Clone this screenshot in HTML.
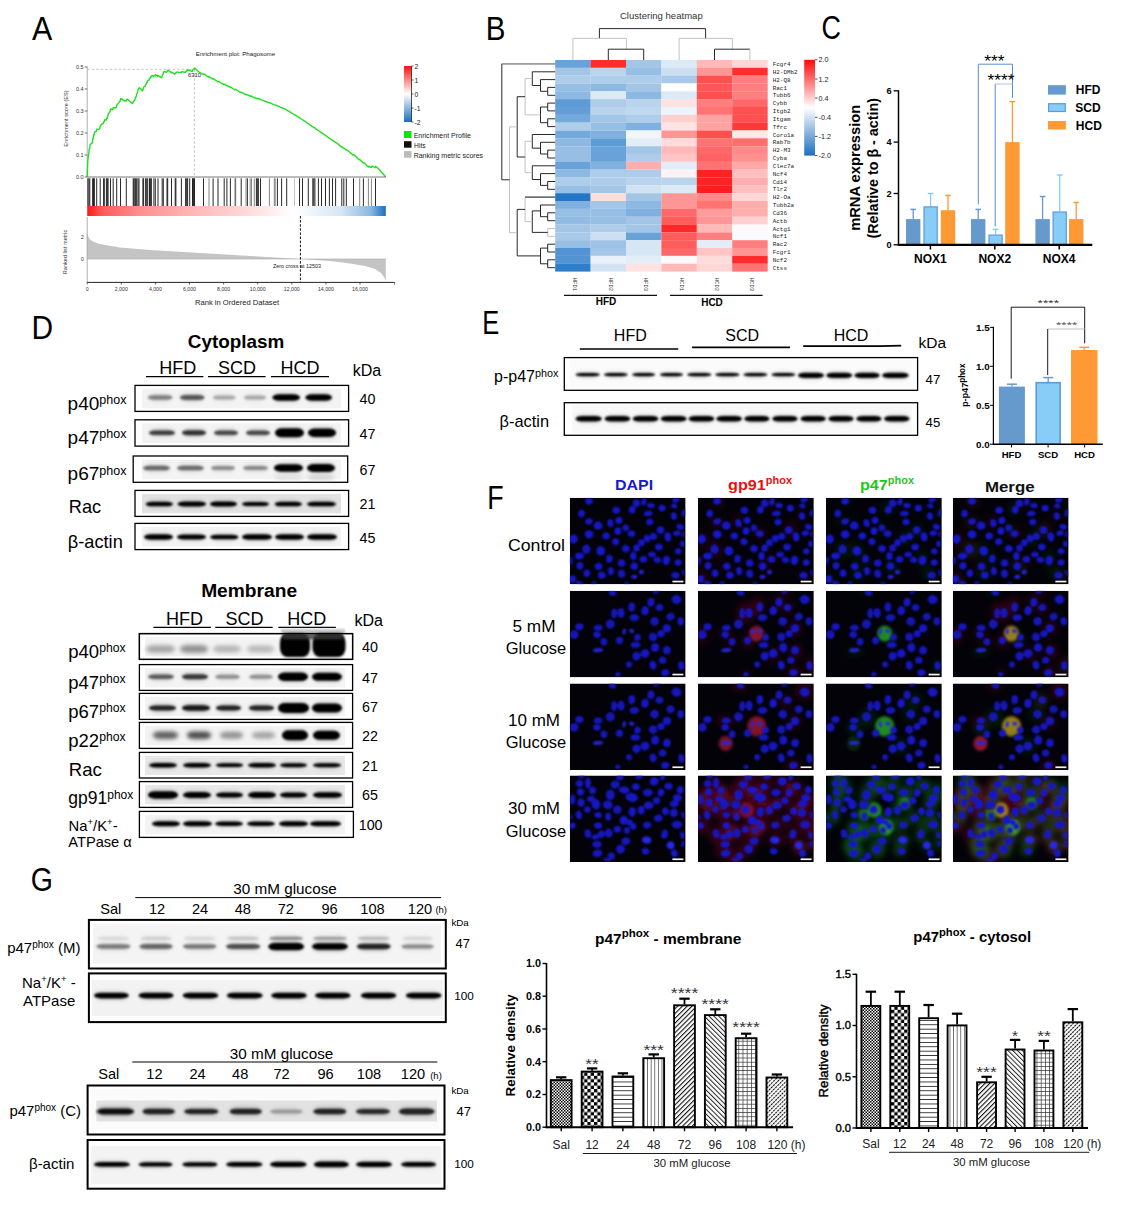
<!DOCTYPE html>
<html><head><meta charset="utf-8"><title>Figure</title>
<style>
html,body{margin:0;padding:0;background:#fff;}
body{width:1125px;height:1228px;overflow:hidden;}
svg{display:block;font-family:"Liberation Sans", sans-serif;}
</style></head><body>
<svg width="1125" height="1228" viewBox="0 0 1125 1228">
<defs>
<filter id="bl" x="-30%" y="-100%" width="160%" height="300%"><feGaussianBlur stdDeviation="1.2"/></filter>
<filter id="bl2" x="-30%" y="-100%" width="160%" height="300%"><feGaussianBlur stdDeviation="2.0"/></filter>
<filter id="bl3" x="-40%" y="-100%" width="180%" height="300%"><feGaussianBlur stdDeviation="3.0"/></filter>
<filter id="blE" x="-30%" y="-100%" width="160%" height="300%"><feGaussianBlur stdDeviation="0.8"/></filter>
<filter id="nb" x="-50%" y="-50%" width="200%" height="200%"><feGaussianBlur stdDeviation="0.6"/></filter>
<filter id="hz" x="-50%" y="-50%" width="200%" height="200%"><feGaussianBlur stdDeviation="3"/></filter>
<linearGradient id="gsea" x1="0" x2="1" y1="0" y2="0">
<stop offset="0" stop-color="#ff1a1a"/><stop offset="0.05" stop-color="#ff5a5a"/><stop offset="0.18" stop-color="#ff9090"/><stop offset="0.36" stop-color="#ffb8b8"/><stop offset="0.5" stop-color="#ffd2d2"/>
<stop offset="0.69" stop-color="#ffffff"/><stop offset="0.85" stop-color="#d6e6f4"/><stop offset="0.95" stop-color="#88b8e0"/><stop offset="0.985" stop-color="#3a84cc"/><stop offset="1" stop-color="#1a6ec0"/></linearGradient>
<linearGradient id="cbA" x1="0" x2="0" y1="0" y2="1"><stop offset="0" stop-color="#ff1010"/><stop offset="0.5" stop-color="#ffffff"/><stop offset="1" stop-color="#1a6ec0"/></linearGradient>
<linearGradient id="cbB" x1="0" x2="0" y1="0" y2="1"><stop offset="0" stop-color="#ff0a0a"/><stop offset="0.5" stop-color="#ffffff"/><stop offset="1" stop-color="#1b6fc2"/></linearGradient>
<linearGradient id="smear" x1="0" x2="0" y1="0" y2="1"><stop offset="0" stop-color="#d0d0d0"/><stop offset="0.5" stop-color="#707070"/><stop offset="1" stop-color="#222"/></linearGradient><clipPath id="fc00"><rect x="569.8" y="497.8" width="115.8" height="86.5"/></clipPath>
<clipPath id="fc01"><rect x="698.0" y="497.8" width="115.8" height="86.5"/></clipPath>
<clipPath id="fc02"><rect x="826.0" y="497.8" width="115.8" height="86.5"/></clipPath>
<clipPath id="fc03"><rect x="952.8" y="497.8" width="115.8" height="86.5"/></clipPath>
<clipPath id="fc10"><rect x="569.8" y="590.8" width="115.8" height="86.5"/></clipPath>
<clipPath id="fc11"><rect x="698.0" y="590.8" width="115.8" height="86.5"/></clipPath>
<clipPath id="fc12"><rect x="826.0" y="590.8" width="115.8" height="86.5"/></clipPath>
<clipPath id="fc13"><rect x="952.8" y="590.8" width="115.8" height="86.5"/></clipPath>
<clipPath id="fc20"><rect x="569.8" y="683.5" width="115.8" height="86.5"/></clipPath>
<clipPath id="fc21"><rect x="698.0" y="683.5" width="115.8" height="86.5"/></clipPath>
<clipPath id="fc22"><rect x="826.0" y="683.5" width="115.8" height="86.5"/></clipPath>
<clipPath id="fc23"><rect x="952.8" y="683.5" width="115.8" height="86.5"/></clipPath>
<clipPath id="fc30"><rect x="569.8" y="775.5" width="115.8" height="86.5"/></clipPath>
<clipPath id="fc31"><rect x="698.0" y="775.5" width="115.8" height="86.5"/></clipPath>
<clipPath id="fc32"><rect x="826.0" y="775.5" width="115.8" height="86.5"/></clipPath>
<clipPath id="fc33"><rect x="952.8" y="775.5" width="115.8" height="86.5"/></clipPath>
<filter id="hot" x="-50%" y="-50%" width="200%" height="200%"><feGaussianBlur stdDeviation="1.8"/></filter>
<filter id="nuc" x="-50%" y="-50%" width="200%" height="200%"><feGaussianBlur stdDeviation="0.85"/></filter>

<pattern id="pSal" width="3" height="3" patternUnits="userSpaceOnUse"><rect width="3" height="3" fill="#fff"/><rect width="1.5" height="1.5" fill="#000"/><rect x="1.5" y="1.5" width="1.5" height="1.5" fill="#000"/></pattern>
<pattern id="p12" width="6.6" height="6.6" patternUnits="userSpaceOnUse"><rect width="6.6" height="6.6" fill="#fff"/><rect width="3.3" height="3.3" fill="#000"/><rect x="3.3" y="3.3" width="3.3" height="3.3" fill="#000"/></pattern>
<pattern id="p24" width="4" height="4.4" patternUnits="userSpaceOnUse"><rect width="4" height="4.4" fill="#fff"/><rect y="3.6" width="4" height="0.9" fill="#111"/></pattern>
<pattern id="p48" width="3.6" height="4" patternUnits="userSpaceOnUse"><rect width="3.6" height="4" fill="#fff"/><rect x="2.8" width="0.8" height="4" fill="#555"/></pattern>
<pattern id="p72" width="3.4" height="3.4" patternUnits="userSpaceOnUse" patternTransform="rotate(45)"><rect width="3.4" height="3.4" fill="#fff"/><rect width="1.1" height="3.4" fill="#111"/></pattern>
<pattern id="p96" width="3.4" height="3.4" patternUnits="userSpaceOnUse" patternTransform="rotate(-45)"><rect width="3.4" height="3.4" fill="#fff"/><rect width="1.0" height="3.4" fill="#222"/></pattern>
<pattern id="p108" width="4.2" height="4.2" patternUnits="userSpaceOnUse"><rect width="4.2" height="4.2" fill="#fff"/><rect x="3.5" width="0.7" height="4.2" fill="#333"/><rect y="3.5" width="4.2" height="0.7" fill="#333"/></pattern>
<pattern id="p120" width="3.0" height="3.0" patternUnits="userSpaceOnUse" patternTransform="rotate(45)"><rect width="3" height="3" fill="#fff"/><rect width="1.1" height="2.2" fill="#111"/></pattern>
</defs>
<rect width="1125" height="1228" fill="#fff"/>
<text x="0" y="0" font-size="34" transform="translate(32.00 39.80) scale(0.8934 1)" >A</text>
<text x="235.5" y="55.5" font-size="6.2" text-anchor="middle" fill="#222" >Enrichment plot: Phagosome</text>
<line x1="87.2" y1="66.5" x2="87.2" y2="177.0" stroke="#999" stroke-width="0.8" />
<line x1="84.7" y1="177.0" x2="87.2" y2="177.0" stroke="#333" stroke-width="0.7" />
<text x="83.7" y="179.0" font-size="5.5" text-anchor="end" fill="#333" >0.0</text>
<line x1="84.7" y1="155.0" x2="87.2" y2="155.0" stroke="#333" stroke-width="0.7" />
<text x="83.7" y="157.0" font-size="5.5" text-anchor="end" fill="#333" >0.1</text>
<line x1="84.7" y1="133.0" x2="87.2" y2="133.0" stroke="#333" stroke-width="0.7" />
<text x="83.7" y="135.0" font-size="5.5" text-anchor="end" fill="#333" >0.2</text>
<line x1="84.7" y1="111.0" x2="87.2" y2="111.0" stroke="#333" stroke-width="0.7" />
<text x="83.7" y="113.0" font-size="5.5" text-anchor="end" fill="#333" >0.3</text>
<line x1="84.7" y1="89.0" x2="87.2" y2="89.0" stroke="#333" stroke-width="0.7" />
<text x="83.7" y="91.0" font-size="5.5" text-anchor="end" fill="#333" >0.4</text>
<line x1="84.7" y1="67.0" x2="87.2" y2="67.0" stroke="#333" stroke-width="0.7" />
<text x="83.7" y="69.0" font-size="5.5" text-anchor="end" fill="#333" >0.5</text>
<text x="67.5" y="118.5" font-size="5.6" text-anchor="middle" fill="#333" transform="rotate(-90 67.5 118.5)" >Enrichment score (ES)</text>
<line x1="87.2" y1="69.3" x2="194.4" y2="69.3" stroke="#aaa" stroke-width="0.7" stroke-dasharray="2.5,2"/>
<line x1="194.4" y1="69.3" x2="194.4" y2="177.0" stroke="#aaa" stroke-width="0.7" stroke-dasharray="2.5,2"/>
<text x="194.5" y="76.5" font-size="5.8" text-anchor="middle" fill="#222" >6310</text>
<polyline fill="none" stroke="#1fe01f" stroke-width="1.4" stroke-linejoin="round" points="87.2,177.1 87.7,163.1 88.2,156.3 88.7,153.9 89.2,149.4 89.7,148.5 90.2,144.6 90.7,144.0 91.2,143.8 91.7,143.6 92.2,143.2 92.7,139.5 93.2,138.4 93.7,134.8 94.2,134.7 94.7,131.9 95.2,131.7 95.7,131.5 96.2,131.5 96.7,129.2 97.2,129.4 97.7,129.4 98.2,129.4 98.7,129.1 99.2,128.9 99.7,128.6 100.2,125.9 100.7,125.3 101.2,124.7 101.7,124.2 102.2,123.9 102.7,123.7 103.2,123.6 103.7,121.6 104.2,121.8 104.7,119.8 105.2,119.9 105.7,120.0 106.2,120.2 106.7,118.2 107.2,118.3 107.7,116.3 108.2,114.0 108.7,113.3 109.2,112.7 109.7,111.9 110.2,111.1 110.7,108.9 111.2,109.2 111.7,109.3 112.2,109.6 112.7,109.8 113.2,107.8 113.7,107.8 114.2,107.8 114.7,107.8 115.2,107.9 115.7,107.8 116.2,107.6 116.7,105.2 117.2,104.7 117.7,104.2 118.2,103.5 118.7,102.9 119.2,102.2 119.7,101.5 120.2,100.9 120.7,98.4 121.2,98.6 121.7,98.9 122.2,99.3 122.7,99.7 123.2,100.1 123.7,100.5 124.2,100.7 124.7,100.8 125.2,100.9 125.7,101.0 126.2,101.0 126.7,99.3 127.2,99.3 127.7,99.6 128.2,100.0 128.7,100.4 129.2,100.9 129.7,101.4 130.2,101.8 130.7,102.2 131.2,102.7 131.7,103.0 132.2,103.3 132.7,103.3 133.2,101.7 133.7,101.8 134.2,100.2 134.7,100.2 135.2,98.6 135.7,97.0 136.2,96.6 136.7,94.1 137.2,93.1 137.7,92.0 138.2,89.1 138.7,88.8 139.2,87.6 139.7,88.0 140.2,88.5 140.7,89.0 141.2,89.6 141.7,90.1 142.2,90.7 142.7,90.8 143.2,88.9 143.7,87.1 144.2,86.7 144.7,86.4 145.2,86.2 145.7,84.5 146.2,84.2 146.7,82.5 147.2,82.3 147.7,80.7 148.2,80.5 148.7,80.2 149.2,79.9 149.7,78.3 150.2,78.2 150.7,76.7 151.2,76.9 151.7,75.7 152.2,75.8 152.7,75.9 153.2,76.0 153.7,76.4 154.2,75.3 154.7,75.6 155.2,75.9 155.7,74.7 156.2,75.1 156.7,75.4 157.2,75.8 157.7,76.3 158.2,75.4 158.7,75.8 159.2,76.2 159.7,76.6 160.2,77.0 160.7,77.4 161.2,77.7 161.7,77.8 162.2,75.6 162.7,74.7 163.2,73.9 163.7,71.9 164.2,71.5 164.7,71.7 165.2,71.8 165.7,72.0 166.2,72.1 166.7,72.3 167.2,71.3 167.7,70.3 168.2,70.5 168.7,70.6 169.2,71.0 169.7,71.4 170.2,71.8 170.7,72.2 171.2,72.7 171.7,72.0 172.2,72.4 172.7,72.8 173.2,73.1 173.7,73.5 174.2,73.9 174.7,74.2 175.2,73.4 175.7,73.4 176.2,72.2 176.7,72.1 177.2,72.1 177.7,72.1 178.2,72.2 178.7,72.3 179.2,72.4 179.7,72.5 180.2,72.5 180.7,72.6 181.2,72.6 181.7,71.6 182.2,71.7 182.7,71.8 183.2,71.9 183.7,72.1 184.2,72.2 184.7,72.4 185.2,72.6 185.7,71.6 186.2,71.8 186.7,70.8 187.2,70.9 187.7,69.9 188.2,70.1 188.7,70.4 189.2,70.7 189.7,70.0 190.2,70.4 190.7,70.8 191.2,71.1 191.7,71.2 192.2,71.4 192.7,70.4 193.2,69.5 193.7,69.6 194.2,68.7 194.7,68.0 195.2,68.5 195.7,69.0 196.2,69.5 196.7,70.0 197.2,70.5 197.7,70.9 198.2,71.3 198.7,71.7 199.2,72.1 199.7,72.4 200.2,72.7 200.7,73.0 201.2,73.3 201.7,73.6 202.2,73.9 202.7,74.2 203.2,74.5 203.7,73.9 204.2,74.2 204.7,74.5 205.2,74.8 205.7,75.2 206.2,75.5 206.7,75.9 207.2,76.2 207.7,76.5 208.2,76.9 208.7,77.2 209.2,76.7 209.7,77.0 210.2,77.4 210.7,77.7 211.2,78.1 211.7,78.4 212.2,78.8 212.7,79.1 213.2,78.6 213.7,79.0 214.2,79.4 214.7,79.7 215.2,80.0 215.7,80.4 216.2,80.7 216.7,81.0 217.2,81.3 217.7,81.7 218.2,81.2 218.7,81.4 219.2,81.7 219.7,82.0 220.2,82.4 220.7,82.7 221.2,83.0 221.7,83.3 222.2,83.6 222.7,83.9 223.2,84.2 223.7,84.6 224.2,84.1 224.7,84.4 225.2,84.7 225.7,85.1 226.2,85.4 226.7,85.7 227.2,85.4 227.7,85.7 228.2,86.1 228.7,86.4 229.2,86.7 229.7,87.0 230.2,87.3 230.7,87.0 231.2,87.4 231.7,87.8 232.2,88.1 232.7,88.5 233.2,88.8 233.7,89.2 234.2,89.5 234.7,89.9 235.2,89.6 235.7,89.3 236.2,89.6 236.7,90.0 237.2,90.3 237.7,90.6 238.2,91.0 238.7,91.3 239.2,91.7 239.7,92.0 240.2,92.3 240.7,92.5 241.2,92.2 241.7,92.5 242.2,92.7 242.7,93.0 243.2,93.2 243.7,93.5 244.2,93.8 244.7,94.1 245.2,94.4 245.7,94.7 246.2,94.4 246.7,94.7 247.2,95.0 247.7,94.8 248.2,95.1 248.7,95.4 249.2,95.7 249.7,96.0 250.2,95.8 250.7,96.1 251.2,96.4 251.7,96.2 252.2,96.5 252.7,96.8 253.2,97.1 253.7,97.4 254.2,97.7 254.7,97.6 255.2,97.9 255.7,98.1 256.2,98.5 256.7,98.3 257.2,98.6 257.7,98.5 258.2,98.8 258.7,98.7 259.2,99.0 259.7,99.2 260.2,99.5 260.7,99.4 261.2,99.6 261.7,99.9 262.2,100.1 262.7,100.3 263.2,100.5 263.7,100.7 264.2,100.9 264.7,101.1 265.2,101.3 265.7,101.5 266.2,101.7 266.7,101.9 267.2,102.1 267.7,102.3 268.2,102.5 268.7,102.7 269.2,102.9 269.7,102.8 270.2,103.0 270.7,103.2 271.2,103.4 271.7,103.7 272.2,103.9 272.7,104.2 273.2,104.4 273.7,104.7 274.2,104.9 274.7,104.9 275.2,104.9 275.7,105.1 276.2,105.4 276.7,105.6 277.2,105.8 277.7,105.9 278.2,106.1 278.7,106.4 279.2,106.6 279.7,106.8 280.2,107.1 280.7,107.3 281.2,107.5 281.7,107.5 282.2,107.8 282.7,108.0 283.2,108.2 283.7,108.4 284.2,108.6 284.7,108.9 285.2,109.2 285.7,109.5 286.2,109.8 286.7,110.0 287.2,110.3 287.7,110.6 288.2,110.9 288.7,111.2 289.2,111.5 289.7,111.8 290.2,112.1 290.7,112.5 291.2,112.8 291.7,113.1 292.2,113.4 292.7,113.7 293.2,114.0 293.7,114.3 294.2,114.6 294.7,114.8 295.2,115.1 295.7,115.4 296.2,115.7 296.7,116.0 297.2,116.3 297.7,116.6 298.2,116.9 298.7,117.2 299.2,117.5 299.7,117.8 300.2,118.1 300.7,118.5 301.2,118.8 301.7,119.2 302.2,119.5 302.7,119.8 303.2,120.2 303.7,120.5 304.2,120.9 304.7,121.2 305.2,121.5 305.7,121.9 306.2,122.2 306.7,122.6 307.2,122.9 307.7,123.3 308.2,123.6 308.7,123.9 309.2,124.2 309.7,124.6 310.2,125.0 310.7,125.3 311.2,125.7 311.7,126.1 312.2,126.4 312.7,126.8 313.2,127.0 313.7,127.4 314.2,127.6 314.7,128.0 315.2,128.2 315.7,128.6 316.2,129.0 316.7,129.3 317.2,129.7 317.7,130.1 318.2,130.5 318.7,130.7 319.2,131.0 319.7,131.4 320.2,131.8 320.7,132.1 321.2,132.5 321.7,132.7 322.2,133.1 322.7,133.4 323.2,133.8 323.7,134.2 324.2,134.6 324.7,134.9 325.2,135.3 325.7,135.5 326.2,135.8 326.7,136.2 327.2,136.6 327.7,137.0 328.2,137.4 328.7,137.8 329.2,138.2 329.7,138.3 330.2,138.7 330.7,139.0 331.2,139.4 331.7,139.8 332.2,140.3 332.7,140.3 333.2,140.7 333.7,141.1 334.2,141.5 334.7,141.9 335.2,142.3 335.7,142.3 336.2,142.6 336.7,143.0 337.2,143.4 337.7,143.8 338.2,144.2 338.7,144.6 339.2,145.0 339.7,145.4 340.2,145.9 340.7,146.3 341.2,146.7 341.7,147.1 342.2,147.0 342.7,147.4 343.2,147.9 343.7,148.3 344.2,148.2 344.7,148.6 345.2,149.1 345.7,149.5 346.2,150.0 346.7,149.8 347.2,150.2 347.7,150.6 348.2,151.0 348.7,151.4 349.2,151.8 349.7,152.3 350.2,152.7 350.7,153.1 351.2,153.5 351.7,153.9 352.2,154.3 352.7,154.7 353.2,155.1 353.7,154.7 354.2,155.1 354.7,155.5 355.2,155.9 355.7,156.4 356.2,156.9 356.7,157.4 357.2,157.9 357.7,158.4 358.2,158.9 358.7,159.3 359.2,159.8 359.7,159.4 360.2,159.9 360.7,160.4 361.2,160.9 361.7,161.4 362.2,161.9 362.7,162.4 363.2,162.9 363.7,162.4 364.2,163.0 364.7,163.5 365.2,164.0 365.7,164.5 366.2,164.9 366.7,165.4 367.2,165.9 367.7,166.4 368.2,167.0 368.7,166.2 369.2,166.6 369.7,167.1 370.2,167.2 370.7,167.3 371.2,167.4 371.7,166.1 372.2,166.2 372.7,166.4 373.2,166.7 373.7,166.9 374.2,167.2 374.7,167.4 375.2,167.7 375.7,166.5 376.2,166.9 376.7,167.2 377.2,167.6 377.7,167.9 378.2,168.4 378.7,169.0 379.2,169.6 379.7,170.2 380.2,170.8 380.7,171.3 381.2,171.9 381.7,172.4 382.2,172.9 382.7,173.5 383.2,174.1 383.7,174.6 384.2,175.2 384.7,175.8 385.2,176.4 385.7,177.0"/>
<line x1="87.2" y1="177.0" x2="385.8" y2="177.0" stroke="#555" stroke-width="0.8" />
<line x1="87.8" y1="178.3" x2="87.8" y2="206.0" stroke="#111" stroke-width="0.9" />
<line x1="88.9" y1="178.3" x2="88.9" y2="206.0" stroke="#111" stroke-width="0.9" />
<line x1="89.8" y1="178.3" x2="89.8" y2="206.0" stroke="#111" stroke-width="0.9" />
<line x1="92.6" y1="178.3" x2="92.6" y2="206.0" stroke="#111" stroke-width="0.9" />
<line x1="93.5" y1="178.3" x2="93.5" y2="206.0" stroke="#111" stroke-width="0.9" />
<line x1="94.4" y1="178.3" x2="94.4" y2="206.0" stroke="#111" stroke-width="0.9" />
<line x1="96.7" y1="178.3" x2="96.7" y2="206.0" stroke="#111" stroke-width="0.9" />
<line x1="100.2" y1="178.3" x2="100.2" y2="206.0" stroke="#111" stroke-width="0.9" />
<line x1="103.6" y1="178.3" x2="103.6" y2="206.0" stroke="#111" stroke-width="0.9" />
<line x1="104.3" y1="178.3" x2="104.3" y2="206.0" stroke="#111" stroke-width="0.9" />
<line x1="106.4" y1="178.3" x2="106.4" y2="206.0" stroke="#111" stroke-width="0.9" />
<line x1="107.3" y1="178.3" x2="107.3" y2="206.0" stroke="#111" stroke-width="0.9" />
<line x1="108.1" y1="178.3" x2="108.1" y2="206.0" stroke="#111" stroke-width="0.9" />
<line x1="110.5" y1="178.3" x2="110.5" y2="206.0" stroke="#111" stroke-width="0.9" />
<line x1="113.2" y1="178.3" x2="113.2" y2="206.0" stroke="#111" stroke-width="0.9" />
<line x1="116.7" y1="178.3" x2="116.7" y2="206.0" stroke="#111" stroke-width="0.9" />
<line x1="120.5" y1="178.3" x2="120.5" y2="206.0" stroke="#111" stroke-width="0.9" />
<line x1="126.3" y1="178.3" x2="126.3" y2="206.0" stroke="#111" stroke-width="0.9" />
<line x1="133.2" y1="178.3" x2="133.2" y2="206.0" stroke="#111" stroke-width="0.9" />
<line x1="133.9" y1="178.3" x2="133.9" y2="206.0" stroke="#111" stroke-width="0.9" />
<line x1="134.9" y1="178.3" x2="134.9" y2="206.0" stroke="#111" stroke-width="0.9" />
<line x1="135.7" y1="178.3" x2="135.7" y2="206.0" stroke="#111" stroke-width="0.9" />
<line x1="136.7" y1="178.3" x2="136.7" y2="206.0" stroke="#111" stroke-width="0.9" />
<line x1="138.0" y1="178.3" x2="138.0" y2="206.0" stroke="#111" stroke-width="0.9" />
<line x1="139.0" y1="178.3" x2="139.0" y2="206.0" stroke="#111" stroke-width="0.9" />
<line x1="142.9" y1="178.3" x2="142.9" y2="206.0" stroke="#111" stroke-width="0.9" />
<line x1="143.6" y1="178.3" x2="143.6" y2="206.0" stroke="#111" stroke-width="0.9" />
<line x1="145.6" y1="178.3" x2="145.6" y2="206.0" stroke="#111" stroke-width="0.9" />
<line x1="146.7" y1="178.3" x2="146.7" y2="206.0" stroke="#111" stroke-width="0.9" />
<line x1="147.7" y1="178.3" x2="147.7" y2="206.0" stroke="#111" stroke-width="0.9" />
<line x1="149.5" y1="178.3" x2="149.5" y2="206.0" stroke="#111" stroke-width="0.9" />
<line x1="150.4" y1="178.3" x2="150.4" y2="206.0" stroke="#111" stroke-width="0.9" />
<line x1="151.4" y1="178.3" x2="151.4" y2="206.0" stroke="#111" stroke-width="0.9" />
<line x1="153.9" y1="178.3" x2="153.9" y2="206.0" stroke="#111" stroke-width="0.9" />
<line x1="155.3" y1="178.3" x2="155.3" y2="206.0" stroke="#111" stroke-width="0.9" />
<line x1="158.0" y1="178.3" x2="158.0" y2="206.0" stroke="#111" stroke-width="0.9" />
<line x1="162.2" y1="178.3" x2="162.2" y2="206.0" stroke="#111" stroke-width="0.9" />
<line x1="163.3" y1="178.3" x2="163.3" y2="206.0" stroke="#111" stroke-width="0.9" />
<line x1="167.0" y1="178.3" x2="167.0" y2="206.0" stroke="#111" stroke-width="0.9" />
<line x1="167.7" y1="178.3" x2="167.7" y2="206.0" stroke="#111" stroke-width="0.9" />
<line x1="171.5" y1="178.3" x2="171.5" y2="206.0" stroke="#111" stroke-width="0.9" />
<line x1="175.2" y1="178.3" x2="175.2" y2="206.0" stroke="#111" stroke-width="0.9" />
<line x1="175.9" y1="178.3" x2="175.9" y2="206.0" stroke="#111" stroke-width="0.9" />
<line x1="181.4" y1="178.3" x2="181.4" y2="206.0" stroke="#111" stroke-width="0.9" />
<line x1="185.6" y1="178.3" x2="185.6" y2="206.0" stroke="#111" stroke-width="0.9" />
<line x1="186.7" y1="178.3" x2="186.7" y2="206.0" stroke="#111" stroke-width="0.9" />
<line x1="187.6" y1="178.3" x2="187.6" y2="206.0" stroke="#111" stroke-width="0.9" />
<line x1="189.7" y1="178.3" x2="189.7" y2="206.0" stroke="#111" stroke-width="0.9" />
<line x1="192.5" y1="178.3" x2="192.5" y2="206.0" stroke="#111" stroke-width="0.9" />
<line x1="193.2" y1="178.3" x2="193.2" y2="206.0" stroke="#111" stroke-width="0.9" />
<line x1="193.8" y1="178.3" x2="193.8" y2="206.0" stroke="#111" stroke-width="0.9" />
<line x1="194.5" y1="178.3" x2="194.5" y2="206.0" stroke="#111" stroke-width="0.9" />
<line x1="203.5" y1="178.3" x2="203.5" y2="206.0" stroke="#111" stroke-width="0.9" />
<line x1="213.1" y1="178.3" x2="213.1" y2="206.0" stroke="#111" stroke-width="0.9" />
<line x1="218.0" y1="178.3" x2="218.0" y2="206.0" stroke="#111" stroke-width="0.9" />
<line x1="224.2" y1="178.3" x2="224.2" y2="206.0" stroke="#111" stroke-width="0.9" />
<line x1="226.9" y1="178.3" x2="226.9" y2="206.0" stroke="#111" stroke-width="0.9" />
<line x1="230.4" y1="178.3" x2="230.4" y2="206.0" stroke="#111" stroke-width="0.9" />
<line x1="235.2" y1="178.3" x2="235.2" y2="206.0" stroke="#111" stroke-width="0.9" />
<line x1="241.2" y1="178.3" x2="241.2" y2="206.0" stroke="#111" stroke-width="0.9" />
<line x1="247.4" y1="178.3" x2="247.4" y2="206.0" stroke="#111" stroke-width="0.9" />
<line x1="256.4" y1="178.3" x2="256.4" y2="206.0" stroke="#111" stroke-width="0.9" />
<line x1="257.3" y1="178.3" x2="257.3" y2="206.0" stroke="#111" stroke-width="0.9" />
<line x1="258.4" y1="178.3" x2="258.4" y2="206.0" stroke="#111" stroke-width="0.9" />
<line x1="260.5" y1="178.3" x2="260.5" y2="206.0" stroke="#111" stroke-width="0.9" />
<line x1="277.4" y1="178.3" x2="277.4" y2="206.0" stroke="#111" stroke-width="0.9" />
<line x1="281.6" y1="178.3" x2="281.6" y2="206.0" stroke="#111" stroke-width="0.9" />
<line x1="286.7" y1="178.3" x2="286.7" y2="206.0" stroke="#111" stroke-width="0.9" />
<line x1="299.5" y1="178.3" x2="299.5" y2="206.0" stroke="#111" stroke-width="0.9" />
<line x1="302.5" y1="178.3" x2="302.5" y2="206.0" stroke="#111" stroke-width="0.9" />
<line x1="308.3" y1="178.3" x2="308.3" y2="206.0" stroke="#111" stroke-width="0.9" />
<line x1="312.8" y1="178.3" x2="312.8" y2="206.0" stroke="#111" stroke-width="0.9" />
<line x1="313.8" y1="178.3" x2="313.8" y2="206.0" stroke="#111" stroke-width="0.9" />
<line x1="314.9" y1="178.3" x2="314.9" y2="206.0" stroke="#111" stroke-width="0.9" />
<line x1="318.4" y1="178.3" x2="318.4" y2="206.0" stroke="#111" stroke-width="0.9" />
<line x1="321.5" y1="178.3" x2="321.5" y2="206.0" stroke="#111" stroke-width="0.9" />
<line x1="325.5" y1="178.3" x2="325.5" y2="206.0" stroke="#111" stroke-width="0.9" />
<line x1="329.4" y1="178.3" x2="329.4" y2="206.0" stroke="#111" stroke-width="0.9" />
<line x1="332.5" y1="178.3" x2="332.5" y2="206.0" stroke="#111" stroke-width="0.9" />
<line x1="335.6" y1="178.3" x2="335.6" y2="206.0" stroke="#111" stroke-width="0.9" />
<line x1="341.8" y1="178.3" x2="341.8" y2="206.0" stroke="#111" stroke-width="0.9" />
<line x1="343.8" y1="178.3" x2="343.8" y2="206.0" stroke="#111" stroke-width="0.9" />
<line x1="346.3" y1="178.3" x2="346.3" y2="206.0" stroke="#111" stroke-width="0.9" />
<line x1="353.5" y1="178.3" x2="353.5" y2="206.0" stroke="#111" stroke-width="0.9" />
<line x1="363.4" y1="178.3" x2="363.4" y2="206.0" stroke="#111" stroke-width="0.9" />
<line x1="375.5" y1="178.3" x2="375.5" y2="206.0" stroke="#111" stroke-width="0.9" />
<line x1="209.0" y1="178.3" x2="209.0" y2="206.0" stroke="#777" stroke-width="0.9" />
<line x1="235.7" y1="178.3" x2="235.7" y2="206.0" stroke="#777" stroke-width="0.9" />
<line x1="246.0" y1="178.3" x2="246.0" y2="206.0" stroke="#777" stroke-width="0.9" />
<line x1="250.2" y1="178.3" x2="250.2" y2="206.0" stroke="#777" stroke-width="0.9" />
<line x1="251.5" y1="178.3" x2="251.5" y2="206.0" stroke="#777" stroke-width="0.9" />
<line x1="254.3" y1="178.3" x2="254.3" y2="206.0" stroke="#777" stroke-width="0.9" />
<line x1="269.4" y1="178.3" x2="269.4" y2="206.0" stroke="#777" stroke-width="0.9" />
<line x1="274.3" y1="178.3" x2="274.3" y2="206.0" stroke="#777" stroke-width="0.9" />
<line x1="275.2" y1="178.3" x2="275.2" y2="206.0" stroke="#777" stroke-width="0.9" />
<line x1="359.7" y1="178.3" x2="359.7" y2="206.0" stroke="#777" stroke-width="0.9" />
<line x1="368.4" y1="178.3" x2="368.4" y2="206.0" stroke="#777" stroke-width="0.9" />
<line x1="371.4" y1="178.3" x2="371.4" y2="206.0" stroke="#777" stroke-width="0.9" />
<line x1="294.5" y1="178.3" x2="294.5" y2="206.0" stroke="#bbb" stroke-width="0.9" />
<rect x="87.2" y="206.0" width="298.6" height="10.0" fill="url(#gsea)" />
<path d="M87.2,259.0 L87.2,232.5 L88.0,236.0 L90.0,239.5 L93.0,241.5 L98.0,243.5 L105.0,245.0 L120.0,247.6 L150.0,250.0 L200.0,253.0 L250.0,256.0 L300.4,259.0 L330.0,261.0 L350.0,263.5 L365.0,266.0 L375.0,269.0 L381.0,273.0 L384.0,277.0 L385.8,281.0 L385.8,259.0 Z" fill="#c4c4c4"/>
<line x1="87.2" y1="259.0" x2="385.8" y2="259.0" stroke="#aaa" stroke-width="0.6" />
<line x1="87.2" y1="217.0" x2="87.2" y2="282.4" stroke="#999" stroke-width="0.8" />
<text x="83.7" y="239.0" font-size="5.5" text-anchor="end" fill="#333" >2</text>
<text x="83.7" y="261.0" font-size="5.5" text-anchor="end" fill="#333" >0</text>
<text x="67.0" y="252.0" font-size="5.6" text-anchor="middle" fill="#333" transform="rotate(-90 67.0 252.0)" >Ranked list metric</text>
<line x1="300.4" y1="216.0" x2="300.4" y2="282.4" stroke="#111" stroke-width="1.0" stroke-dasharray="2.5,1.6"/>
<text x="297.0" y="268.2" font-size="5.4" text-anchor="middle" fill="#222" >Zero cross at 12503</text>
<line x1="87.2" y1="282.4" x2="394.5" y2="282.4" stroke="#222" stroke-width="1.0" />
<line x1="87.2" y1="282.4" x2="87.2" y2="284.5" stroke="#222" stroke-width="0.7" />
<text x="87.2" y="291.0" font-size="5.2" text-anchor="middle" fill="#333" >0</text>
<line x1="121.3" y1="282.4" x2="121.3" y2="284.5" stroke="#222" stroke-width="0.7" />
<text x="121.3" y="291.0" font-size="5.2" text-anchor="middle" fill="#333" >2,000</text>
<line x1="155.4" y1="282.4" x2="155.4" y2="284.5" stroke="#222" stroke-width="0.7" />
<text x="155.4" y="291.0" font-size="5.2" text-anchor="middle" fill="#333" >4,000</text>
<line x1="189.5" y1="282.4" x2="189.5" y2="284.5" stroke="#222" stroke-width="0.7" />
<text x="189.5" y="291.0" font-size="5.2" text-anchor="middle" fill="#333" >6,000</text>
<line x1="223.6" y1="282.4" x2="223.6" y2="284.5" stroke="#222" stroke-width="0.7" />
<text x="223.6" y="291.0" font-size="5.2" text-anchor="middle" fill="#333" >8,000</text>
<line x1="257.7" y1="282.4" x2="257.7" y2="284.5" stroke="#222" stroke-width="0.7" />
<text x="257.7" y="291.0" font-size="5.2" text-anchor="middle" fill="#333" >10,000</text>
<line x1="291.8" y1="282.4" x2="291.8" y2="284.5" stroke="#222" stroke-width="0.7" />
<text x="291.8" y="291.0" font-size="5.2" text-anchor="middle" fill="#333" >12,000</text>
<line x1="325.9" y1="282.4" x2="325.9" y2="284.5" stroke="#222" stroke-width="0.7" />
<text x="325.9" y="291.0" font-size="5.2" text-anchor="middle" fill="#333" >14,000</text>
<line x1="360.0" y1="282.4" x2="360.0" y2="284.5" stroke="#222" stroke-width="0.7" />
<text x="360.0" y="291.0" font-size="5.2" text-anchor="middle" fill="#333" >16,000</text>
<line x1="394.5" y1="282.4" x2="394.5" y2="284.5" stroke="#222" stroke-width="0.7" />
<text x="237.0" y="304.5" font-size="7.6" text-anchor="middle" fill="#222" >Rank in Ordered Dataset</text>
<rect x="404.0" y="66.0" width="7.5" height="56.0" fill="url(#cbA)" />
<line x1="411.5" y1="66.0" x2="411.5" y2="122.0" stroke="#222" stroke-width="0.8" />
<line x1="411.5" y1="66.0" x2="413.5" y2="66.0" stroke="#222" stroke-width="0.7" />
<text x="414.5" y="68.5" font-size="6.8" fill="#222" >2</text>
<line x1="411.5" y1="80.0" x2="413.5" y2="80.0" stroke="#222" stroke-width="0.7" />
<text x="414.5" y="82.5" font-size="6.8" fill="#222" >1</text>
<line x1="411.5" y1="94.0" x2="413.5" y2="94.0" stroke="#222" stroke-width="0.7" />
<text x="414.5" y="96.5" font-size="6.8" fill="#222" >0</text>
<line x1="411.5" y1="108.0" x2="413.5" y2="108.0" stroke="#222" stroke-width="0.7" />
<text x="414.5" y="110.5" font-size="6.8" fill="#222" >-1</text>
<line x1="411.5" y1="122.0" x2="413.5" y2="122.0" stroke="#222" stroke-width="0.7" />
<text x="414.5" y="124.5" font-size="6.8" fill="#222" >-2</text>
<rect x="404.0" y="131.0" width="7.5" height="7.0" fill="#00ee00" />
<rect x="404.0" y="141.2" width="7.5" height="6.5" fill="#111" />
<rect x="404.0" y="151.1" width="7.5" height="6.6" fill="#bbb" />
<text x="0" y="0" font-size="6.8" transform="translate(413.64 137.60) scale(1.0328 1)" fill="#222" >Enrichment Profile</text>
<text x="414.0" y="147.6" font-size="6.8" fill="#222" >Hits</text>
<text x="0" y="0" font-size="6.8" transform="translate(413.64 157.60) scale(1.0351 1)" fill="#222" >Ranking metric scores</text>
<text x="0" y="0" font-size="34" transform="translate(485.74 39.70) scale(0.8686 1)" >B</text>
<text x="0" y="0" font-size="9.4" transform="translate(619.92 18.80) scale(1.0167 1)" fill="#333" >Clustering heatmap</text>
<rect x="555.2" y="60.0" width="35.5" height="7.9" fill="#69a2d9" />
<rect x="590.6" y="60.0" width="35.5" height="7.9" fill="#ff2d2d" />
<rect x="626.0" y="60.0" width="35.5" height="7.9" fill="#a3c6e7" />
<rect x="661.4" y="60.0" width="35.5" height="7.9" fill="#dceaf6" />
<rect x="696.8" y="60.0" width="35.5" height="7.9" fill="#ffb9b9" />
<rect x="732.2" y="60.0" width="35.5" height="7.9" fill="#ffd6d6" />
<rect x="555.2" y="67.8" width="35.5" height="7.9" fill="#a3c6e7" />
<rect x="590.6" y="67.8" width="35.5" height="7.9" fill="#bad4ed" />
<rect x="626.0" y="67.8" width="35.5" height="7.9" fill="#97bfe4" />
<rect x="661.4" y="67.8" width="35.5" height="7.9" fill="#cbdff2" />
<rect x="696.8" y="67.8" width="35.5" height="7.9" fill="#ff9696" />
<rect x="732.2" y="67.8" width="35.5" height="7.9" fill="#ff2d2d" />
<rect x="555.2" y="75.6" width="35.5" height="7.9" fill="#aecdea" />
<rect x="590.6" y="75.6" width="35.5" height="7.9" fill="#aecdea" />
<rect x="626.0" y="75.6" width="35.5" height="7.9" fill="#aecdea" />
<rect x="661.4" y="75.6" width="35.5" height="7.9" fill="#a8c9e9" />
<rect x="696.8" y="75.6" width="35.5" height="7.9" fill="#ff5050" />
<rect x="732.2" y="75.6" width="35.5" height="7.9" fill="#ff7f7f" />
<rect x="555.2" y="83.5" width="35.5" height="7.9" fill="#97bfe4" />
<rect x="590.6" y="83.5" width="35.5" height="7.9" fill="#8cb8e2" />
<rect x="626.0" y="83.5" width="35.5" height="7.9" fill="#a3c6e7" />
<rect x="661.4" y="83.5" width="35.5" height="7.9" fill="#ffffff" />
<rect x="696.8" y="83.5" width="35.5" height="7.9" fill="#ff5656" />
<rect x="732.2" y="83.5" width="35.5" height="7.9" fill="#ff7f7f" />
<rect x="555.2" y="91.3" width="35.5" height="7.9" fill="#8cb8e2" />
<rect x="590.6" y="91.3" width="35.5" height="7.9" fill="#dceaf6" />
<rect x="626.0" y="91.3" width="35.5" height="7.9" fill="#8cb8e2" />
<rect x="661.4" y="91.3" width="35.5" height="7.9" fill="#dceaf6" />
<rect x="696.8" y="91.3" width="35.5" height="7.9" fill="#ff5050" />
<rect x="732.2" y="91.3" width="35.5" height="7.9" fill="#ff7f7f" />
<rect x="555.2" y="99.1" width="35.5" height="7.9" fill="#5d9bd6" />
<rect x="590.6" y="99.1" width="35.5" height="7.9" fill="#aecdea" />
<rect x="626.0" y="99.1" width="35.5" height="7.9" fill="#bad4ed" />
<rect x="661.4" y="99.1" width="35.5" height="7.9" fill="#ffe2e2" />
<rect x="696.8" y="99.1" width="35.5" height="7.9" fill="#ff7f7f" />
<rect x="732.2" y="99.1" width="35.5" height="7.9" fill="#ff6868" />
<rect x="555.2" y="107.0" width="35.5" height="7.9" fill="#639ed7" />
<rect x="590.6" y="107.0" width="35.5" height="7.9" fill="#bad4ed" />
<rect x="626.0" y="107.0" width="35.5" height="7.9" fill="#bfd8ef" />
<rect x="661.4" y="107.0" width="35.5" height="7.9" fill="#eef4fb" />
<rect x="696.8" y="107.0" width="35.5" height="7.9" fill="#ff7373" />
<rect x="732.2" y="107.0" width="35.5" height="7.9" fill="#ff5050" />
<rect x="555.2" y="114.8" width="35.5" height="7.9" fill="#74a9dc" />
<rect x="590.6" y="114.8" width="35.5" height="7.9" fill="#a3c6e7" />
<rect x="626.0" y="114.8" width="35.5" height="7.9" fill="#aecdea" />
<rect x="661.4" y="114.8" width="35.5" height="7.9" fill="#ffd0d0" />
<rect x="696.8" y="114.8" width="35.5" height="7.9" fill="#ffa2a2" />
<rect x="732.2" y="114.8" width="35.5" height="7.9" fill="#ff5050" />
<rect x="555.2" y="122.6" width="35.5" height="7.9" fill="#aecdea" />
<rect x="590.6" y="122.6" width="35.5" height="7.9" fill="#97bfe4" />
<rect x="626.0" y="122.6" width="35.5" height="7.9" fill="#80b0df" />
<rect x="661.4" y="122.6" width="35.5" height="7.9" fill="#ffe2e2" />
<rect x="696.8" y="122.6" width="35.5" height="7.9" fill="#ffa2a2" />
<rect x="732.2" y="122.6" width="35.5" height="7.9" fill="#ff3939" />
<rect x="555.2" y="130.5" width="35.5" height="7.9" fill="#74a9dc" />
<rect x="590.6" y="130.5" width="35.5" height="7.9" fill="#80b0df" />
<rect x="626.0" y="130.5" width="35.5" height="7.9" fill="#f1f6fb" />
<rect x="661.4" y="130.5" width="35.5" height="7.9" fill="#ff9696" />
<rect x="696.8" y="130.5" width="35.5" height="7.9" fill="#ff5050" />
<rect x="732.2" y="130.5" width="35.5" height="7.9" fill="#ffe8e8" />
<rect x="555.2" y="138.3" width="35.5" height="7.9" fill="#8cb8e2" />
<rect x="590.6" y="138.3" width="35.5" height="7.9" fill="#5d9bd6" />
<rect x="626.0" y="138.3" width="35.5" height="7.9" fill="#e2edf8" />
<rect x="661.4" y="138.3" width="35.5" height="7.9" fill="#ffdcdc" />
<rect x="696.8" y="138.3" width="35.5" height="7.9" fill="#ff7373" />
<rect x="732.2" y="138.3" width="35.5" height="7.9" fill="#ff6d6d" />
<rect x="555.2" y="146.2" width="35.5" height="7.9" fill="#97bfe4" />
<rect x="590.6" y="146.2" width="35.5" height="7.9" fill="#69a2d9" />
<rect x="626.0" y="146.2" width="35.5" height="7.9" fill="#a3c6e7" />
<rect x="661.4" y="146.2" width="35.5" height="7.9" fill="#ffb9b9" />
<rect x="696.8" y="146.2" width="35.5" height="7.9" fill="#ff6868" />
<rect x="732.2" y="146.2" width="35.5" height="7.9" fill="#ff8a8a" />
<rect x="555.2" y="154.0" width="35.5" height="7.9" fill="#97bfe4" />
<rect x="590.6" y="154.0" width="35.5" height="7.9" fill="#69a2d9" />
<rect x="626.0" y="154.0" width="35.5" height="7.9" fill="#aecdea" />
<rect x="661.4" y="154.0" width="35.5" height="7.9" fill="#ffc5c5" />
<rect x="696.8" y="154.0" width="35.5" height="7.9" fill="#ff6262" />
<rect x="732.2" y="154.0" width="35.5" height="7.9" fill="#ff9090" />
<rect x="555.2" y="161.8" width="35.5" height="7.9" fill="#69a2d9" />
<rect x="590.6" y="161.8" width="35.5" height="7.9" fill="#80b0df" />
<rect x="626.0" y="161.8" width="35.5" height="7.9" fill="#ffadad" />
<rect x="661.4" y="161.8" width="35.5" height="7.9" fill="#e2edf8" />
<rect x="696.8" y="161.8" width="35.5" height="7.9" fill="#ff7373" />
<rect x="732.2" y="161.8" width="35.5" height="7.9" fill="#ffa8a8" />
<rect x="555.2" y="169.7" width="35.5" height="7.9" fill="#8cb8e2" />
<rect x="590.6" y="169.7" width="35.5" height="7.9" fill="#aecdea" />
<rect x="626.0" y="169.7" width="35.5" height="7.9" fill="#aecdea" />
<rect x="661.4" y="169.7" width="35.5" height="7.9" fill="#fff3f3" />
<rect x="696.8" y="169.7" width="35.5" height="7.9" fill="#ff2222" />
<rect x="732.2" y="169.7" width="35.5" height="7.9" fill="#ffbfbf" />
<rect x="555.2" y="177.5" width="35.5" height="7.9" fill="#aecdea" />
<rect x="590.6" y="177.5" width="35.5" height="7.9" fill="#aecdea" />
<rect x="626.0" y="177.5" width="35.5" height="7.9" fill="#bad4ed" />
<rect x="661.4" y="177.5" width="35.5" height="7.9" fill="#bad4ed" />
<rect x="696.8" y="177.5" width="35.5" height="7.9" fill="#ff2222" />
<rect x="732.2" y="177.5" width="35.5" height="7.9" fill="#ffadad" />
<rect x="555.2" y="185.3" width="35.5" height="7.9" fill="#97bfe4" />
<rect x="590.6" y="185.3" width="35.5" height="7.9" fill="#a3c6e7" />
<rect x="626.0" y="185.3" width="35.5" height="7.9" fill="#d1e2f3" />
<rect x="661.4" y="185.3" width="35.5" height="7.9" fill="#dceaf6" />
<rect x="696.8" y="185.3" width="35.5" height="7.9" fill="#ff1c1c" />
<rect x="732.2" y="185.3" width="35.5" height="7.9" fill="#ffbfbf" />
<rect x="555.2" y="193.2" width="35.5" height="7.9" fill="#2477c7" />
<rect x="590.6" y="193.2" width="35.5" height="7.9" fill="#ffdcdc" />
<rect x="626.0" y="193.2" width="35.5" height="7.9" fill="#a3c6e7" />
<rect x="661.4" y="193.2" width="35.5" height="7.9" fill="#ff9696" />
<rect x="696.8" y="193.2" width="35.5" height="7.9" fill="#ff8a8a" />
<rect x="732.2" y="193.2" width="35.5" height="7.9" fill="#ffd6d6" />
<rect x="555.2" y="201.0" width="35.5" height="7.9" fill="#80b0df" />
<rect x="590.6" y="201.0" width="35.5" height="7.9" fill="#a3c6e7" />
<rect x="626.0" y="201.0" width="35.5" height="7.9" fill="#8cb8e2" />
<rect x="661.4" y="201.0" width="35.5" height="7.9" fill="#ff9696" />
<rect x="696.8" y="201.0" width="35.5" height="7.9" fill="#ff7373" />
<rect x="732.2" y="201.0" width="35.5" height="7.9" fill="#ffadad" />
<rect x="555.2" y="208.9" width="35.5" height="7.9" fill="#97bfe4" />
<rect x="590.6" y="208.9" width="35.5" height="7.9" fill="#97bfe4" />
<rect x="626.0" y="208.9" width="35.5" height="7.9" fill="#80b0df" />
<rect x="661.4" y="208.9" width="35.5" height="7.9" fill="#ff6868" />
<rect x="696.8" y="208.9" width="35.5" height="7.9" fill="#ff9c9c" />
<rect x="732.2" y="208.9" width="35.5" height="7.9" fill="#ffadad" />
<rect x="555.2" y="216.7" width="35.5" height="7.9" fill="#91bbe3" />
<rect x="590.6" y="216.7" width="35.5" height="7.9" fill="#97bfe4" />
<rect x="626.0" y="216.7" width="35.5" height="7.9" fill="#a3c6e7" />
<rect x="661.4" y="216.7" width="35.5" height="7.9" fill="#ff5c5c" />
<rect x="696.8" y="216.7" width="35.5" height="7.9" fill="#ff9696" />
<rect x="732.2" y="216.7" width="35.5" height="7.9" fill="#ffd0d0" />
<rect x="555.2" y="224.5" width="35.5" height="7.9" fill="#a3c6e7" />
<rect x="590.6" y="224.5" width="35.5" height="7.9" fill="#aecdea" />
<rect x="626.0" y="224.5" width="35.5" height="7.9" fill="#a3c6e7" />
<rect x="661.4" y="224.5" width="35.5" height="7.9" fill="#ff2727" />
<rect x="696.8" y="224.5" width="35.5" height="7.9" fill="#ffb9b9" />
<rect x="732.2" y="224.5" width="35.5" height="7.9" fill="#fff9f9" />
<rect x="555.2" y="232.4" width="35.5" height="7.9" fill="#a8c9e9" />
<rect x="590.6" y="232.4" width="35.5" height="7.9" fill="#cbdff2" />
<rect x="626.0" y="232.4" width="35.5" height="7.9" fill="#69a2d9" />
<rect x="661.4" y="232.4" width="35.5" height="7.9" fill="#ff5c5c" />
<rect x="696.8" y="232.4" width="35.5" height="7.9" fill="#ff7f7f" />
<rect x="732.2" y="232.4" width="35.5" height="7.9" fill="#f9fbfe" />
<rect x="555.2" y="240.2" width="35.5" height="7.9" fill="#97bfe4" />
<rect x="590.6" y="240.2" width="35.5" height="7.9" fill="#9dc2e6" />
<rect x="626.0" y="240.2" width="35.5" height="7.9" fill="#d7e6f5" />
<rect x="661.4" y="240.2" width="35.5" height="7.9" fill="#ff5c5c" />
<rect x="696.8" y="240.2" width="35.5" height="7.9" fill="#e2edf8" />
<rect x="732.2" y="240.2" width="35.5" height="7.9" fill="#ff7f7f" />
<rect x="555.2" y="248.0" width="35.5" height="7.9" fill="#5294d3" />
<rect x="590.6" y="248.0" width="35.5" height="7.9" fill="#a3c6e7" />
<rect x="626.0" y="248.0" width="35.5" height="7.9" fill="#d7e6f5" />
<rect x="661.4" y="248.0" width="35.5" height="7.9" fill="#ff6868" />
<rect x="696.8" y="248.0" width="35.5" height="7.9" fill="#ffc5c5" />
<rect x="732.2" y="248.0" width="35.5" height="7.9" fill="#ff9696" />
<rect x="555.2" y="255.9" width="35.5" height="7.9" fill="#5294d3" />
<rect x="590.6" y="255.9" width="35.5" height="7.9" fill="#e8f1f9" />
<rect x="626.0" y="255.9" width="35.5" height="7.9" fill="#e2edf8" />
<rect x="661.4" y="255.9" width="35.5" height="7.9" fill="#fff9f9" />
<rect x="696.8" y="255.9" width="35.5" height="7.9" fill="#ffdcdc" />
<rect x="732.2" y="255.9" width="35.5" height="7.9" fill="#ff2d2d" />
<rect x="555.2" y="263.7" width="35.5" height="7.9" fill="#2f7eca" />
<rect x="590.6" y="263.7" width="35.5" height="7.9" fill="#d1e2f3" />
<rect x="626.0" y="263.7" width="35.5" height="7.9" fill="#ffe2e2" />
<rect x="661.4" y="263.7" width="35.5" height="7.9" fill="#ffb9b9" />
<rect x="696.8" y="263.7" width="35.5" height="7.9" fill="#ffd6d6" />
<rect x="732.2" y="263.7" width="35.5" height="7.9" fill="#ff7373" />
<text x="772.8" y="66.0" font-size="5.9" fill="#222" font-family="Liberation Mono">Fcgr4</text>
<text x="772.8" y="73.9" font-size="5.9" fill="#222" font-family="Liberation Mono">H2-DMb2</text>
<text x="772.8" y="81.7" font-size="5.9" fill="#222" font-family="Liberation Mono">H2-Q8</text>
<text x="772.8" y="89.5" font-size="5.9" fill="#222" font-family="Liberation Mono">Rac1</text>
<text x="772.8" y="97.4" font-size="5.9" fill="#222" font-family="Liberation Mono">Tubb6</text>
<text x="772.8" y="105.2" font-size="5.9" fill="#222" font-family="Liberation Mono">Cybb</text>
<text x="772.8" y="113.0" font-size="5.9" fill="#222" font-family="Liberation Mono">Itgb2</text>
<text x="772.8" y="120.9" font-size="5.9" fill="#222" font-family="Liberation Mono">Itgam</text>
<text x="772.8" y="128.7" font-size="5.9" fill="#222" font-family="Liberation Mono">Tfrc</text>
<text x="772.8" y="136.6" font-size="5.9" fill="#222" font-family="Liberation Mono">Coro1a</text>
<text x="772.8" y="144.4" font-size="5.9" fill="#222" font-family="Liberation Mono">Rab7b</text>
<text x="772.8" y="152.2" font-size="5.9" fill="#222" font-family="Liberation Mono">H2-M3</text>
<text x="772.8" y="160.1" font-size="5.9" fill="#222" font-family="Liberation Mono">Cyba</text>
<text x="772.8" y="167.9" font-size="5.9" fill="#222" font-family="Liberation Mono">Clec7a</text>
<text x="772.8" y="175.7" font-size="5.9" fill="#222" font-family="Liberation Mono">Ncf4</text>
<text x="772.8" y="183.6" font-size="5.9" fill="#222" font-family="Liberation Mono">Cd14</text>
<text x="772.8" y="191.4" font-size="5.9" fill="#222" font-family="Liberation Mono">Tlr2</text>
<text x="772.8" y="199.2" font-size="5.9" fill="#222" font-family="Liberation Mono">H2-Oa</text>
<text x="772.8" y="207.1" font-size="5.9" fill="#222" font-family="Liberation Mono">Tubb2a</text>
<text x="772.8" y="214.9" font-size="5.9" fill="#222" font-family="Liberation Mono">Cd36</text>
<text x="772.8" y="222.8" font-size="5.9" fill="#222" font-family="Liberation Mono">Actb</text>
<text x="772.8" y="230.6" font-size="5.9" fill="#222" font-family="Liberation Mono">Actg1</text>
<text x="772.8" y="238.4" font-size="5.9" fill="#222" font-family="Liberation Mono">Ncf1</text>
<text x="772.8" y="246.3" font-size="5.9" fill="#222" font-family="Liberation Mono">Rac2</text>
<text x="772.8" y="254.1" font-size="5.9" fill="#222" font-family="Liberation Mono">Fcgr1</text>
<text x="772.8" y="261.9" font-size="5.9" fill="#222" font-family="Liberation Mono">Ncf2</text>
<text x="772.8" y="269.8" font-size="5.9" fill="#222" font-family="Liberation Mono">Ctss</text>
<rect x="804.2" y="59.8" width="10.8" height="95.8" fill="url(#cbB)" />
<line x1="815.0" y1="59.8" x2="817.5" y2="59.8" stroke="#222" stroke-width="0.8" />
<text x="818.5" y="62.4" font-size="7.2" fill="#222" >2.0</text>
<line x1="815.0" y1="79.0" x2="817.5" y2="79.0" stroke="#222" stroke-width="0.8" />
<text x="818.5" y="81.6" font-size="7.2" fill="#222" >1.2</text>
<line x1="815.0" y1="98.1" x2="817.5" y2="98.1" stroke="#222" stroke-width="0.8" />
<text x="818.5" y="100.7" font-size="7.2" fill="#222" >0.4</text>
<line x1="815.0" y1="117.3" x2="817.5" y2="117.3" stroke="#222" stroke-width="0.8" />
<text x="818.5" y="119.9" font-size="7.2" fill="#222" >-0.4</text>
<line x1="815.0" y1="136.4" x2="817.5" y2="136.4" stroke="#222" stroke-width="0.8" />
<text x="818.5" y="139.0" font-size="7.2" fill="#222" >-1.2</text>
<line x1="815.0" y1="155.6" x2="817.5" y2="155.6" stroke="#222" stroke-width="0.8" />
<text x="818.5" y="158.2" font-size="7.2" fill="#222" >-2.0</text>
<line x1="599.4" y1="28.6" x2="705.6" y2="28.6" stroke="#111" stroke-width="0.9" />
<line x1="599.4" y1="28.6" x2="599.4" y2="38.4" stroke="#111" stroke-width="0.9" />
<line x1="705.6" y1="28.6" x2="705.6" y2="38.4" stroke="#111" stroke-width="0.9" />
<line x1="572.9" y1="38.4" x2="626.4" y2="38.4" stroke="#bbb" stroke-width="0.9" />
<line x1="572.9" y1="38.4" x2="572.9" y2="60.0" stroke="#bbb" stroke-width="0.9" />
<line x1="626.4" y1="38.4" x2="626.4" y2="49.2" stroke="#bbb" stroke-width="0.9" />
<line x1="608.3" y1="49.2" x2="643.7" y2="49.2" stroke="#111" stroke-width="0.9" />
<line x1="608.3" y1="49.2" x2="608.3" y2="60.0" stroke="#111" stroke-width="0.9" />
<line x1="643.7" y1="49.2" x2="643.7" y2="60.0" stroke="#111" stroke-width="0.9" />
<line x1="679.1" y1="38.4" x2="732.4" y2="38.4" stroke="#bbb" stroke-width="0.9" />
<line x1="679.1" y1="38.4" x2="679.1" y2="60.0" stroke="#bbb" stroke-width="0.9" />
<line x1="732.4" y1="38.4" x2="732.4" y2="49.2" stroke="#bbb" stroke-width="0.9" />
<line x1="714.5" y1="49.2" x2="749.9" y2="49.2" stroke="#111" stroke-width="0.9" />
<line x1="714.5" y1="49.2" x2="714.5" y2="60.0" stroke="#111" stroke-width="0.9" />
<line x1="749.9" y1="49.2" x2="749.9" y2="60.0" stroke="#bbb" stroke-width="0.9" />
<line x1="547.7" y1="87.4" x2="547.7" y2="95.3" stroke="#111" stroke-width="0.9" />
<line x1="547.7" y1="87.4" x2="555.2" y2="87.4" stroke="#111" stroke-width="0.9" />
<line x1="547.7" y1="95.3" x2="555.2" y2="95.3" stroke="#111" stroke-width="0.9" />
<line x1="540.5" y1="79.6" x2="540.5" y2="91.3" stroke="#111" stroke-width="0.9" />
<line x1="540.5" y1="79.6" x2="555.2" y2="79.6" stroke="#111" stroke-width="0.9" />
<line x1="540.5" y1="91.3" x2="547.7" y2="91.3" stroke="#111" stroke-width="0.9" />
<line x1="532.3" y1="71.8" x2="532.3" y2="85.5" stroke="#111" stroke-width="0.9" />
<line x1="532.3" y1="71.8" x2="555.2" y2="71.8" stroke="#111" stroke-width="0.9" />
<line x1="532.3" y1="85.5" x2="540.5" y2="85.5" stroke="#111" stroke-width="0.9" />
<line x1="547.7" y1="103.1" x2="547.7" y2="110.9" stroke="#111" stroke-width="0.9" />
<line x1="547.7" y1="103.1" x2="555.2" y2="103.1" stroke="#111" stroke-width="0.9" />
<line x1="547.7" y1="110.9" x2="555.2" y2="110.9" stroke="#111" stroke-width="0.9" />
<line x1="547.7" y1="118.8" x2="547.7" y2="126.6" stroke="#111" stroke-width="0.9" />
<line x1="547.7" y1="118.8" x2="555.2" y2="118.8" stroke="#111" stroke-width="0.9" />
<line x1="547.7" y1="126.6" x2="555.2" y2="126.6" stroke="#111" stroke-width="0.9" />
<line x1="540.5" y1="107.0" x2="540.5" y2="122.7" stroke="#111" stroke-width="0.9" />
<line x1="540.5" y1="107.0" x2="547.7" y2="107.0" stroke="#111" stroke-width="0.9" />
<line x1="540.5" y1="122.7" x2="547.7" y2="122.7" stroke="#111" stroke-width="0.9" />
<line x1="525.1" y1="78.6" x2="525.1" y2="114.9" stroke="#bbb" stroke-width="0.9" />
<line x1="525.1" y1="78.6" x2="532.3" y2="78.6" stroke="#bbb" stroke-width="0.9" />
<line x1="525.1" y1="114.9" x2="540.5" y2="114.9" stroke="#bbb" stroke-width="0.9" />
<line x1="547.7" y1="150.1" x2="547.7" y2="158.0" stroke="#111" stroke-width="0.9" />
<line x1="547.7" y1="150.1" x2="555.2" y2="150.1" stroke="#111" stroke-width="0.9" />
<line x1="547.7" y1="158.0" x2="555.2" y2="158.0" stroke="#111" stroke-width="0.9" />
<line x1="540.5" y1="142.3" x2="540.5" y2="154.0" stroke="#111" stroke-width="0.9" />
<line x1="540.5" y1="142.3" x2="555.2" y2="142.3" stroke="#111" stroke-width="0.9" />
<line x1="540.5" y1="154.0" x2="547.7" y2="154.0" stroke="#111" stroke-width="0.9" />
<line x1="532.3" y1="134.5" x2="532.3" y2="148.2" stroke="#111" stroke-width="0.9" />
<line x1="532.3" y1="134.5" x2="555.2" y2="134.5" stroke="#111" stroke-width="0.9" />
<line x1="532.3" y1="148.2" x2="540.5" y2="148.2" stroke="#111" stroke-width="0.9" />
<line x1="547.7" y1="181.5" x2="547.7" y2="189.3" stroke="#111" stroke-width="0.9" />
<line x1="547.7" y1="181.5" x2="555.2" y2="181.5" stroke="#111" stroke-width="0.9" />
<line x1="547.7" y1="189.3" x2="555.2" y2="189.3" stroke="#111" stroke-width="0.9" />
<line x1="540.5" y1="173.6" x2="540.5" y2="185.4" stroke="#111" stroke-width="0.9" />
<line x1="540.5" y1="173.6" x2="555.2" y2="173.6" stroke="#111" stroke-width="0.9" />
<line x1="540.5" y1="185.4" x2="547.7" y2="185.4" stroke="#111" stroke-width="0.9" />
<line x1="532.3" y1="165.8" x2="532.3" y2="179.5" stroke="#111" stroke-width="0.9" />
<line x1="532.3" y1="165.8" x2="555.2" y2="165.8" stroke="#111" stroke-width="0.9" />
<line x1="532.3" y1="179.5" x2="540.5" y2="179.5" stroke="#111" stroke-width="0.9" />
<line x1="525.1" y1="141.3" x2="525.1" y2="172.7" stroke="#bbb" stroke-width="0.9" />
<line x1="525.1" y1="141.3" x2="532.3" y2="141.3" stroke="#bbb" stroke-width="0.9" />
<line x1="525.1" y1="172.7" x2="532.3" y2="172.7" stroke="#bbb" stroke-width="0.9" />
<line x1="517.2" y1="96.7" x2="517.2" y2="157.0" stroke="#111" stroke-width="0.9" />
<line x1="517.2" y1="96.7" x2="525.1" y2="96.7" stroke="#111" stroke-width="0.9" />
<line x1="517.2" y1="157.0" x2="525.1" y2="157.0" stroke="#111" stroke-width="0.9" />
<line x1="547.7" y1="212.8" x2="547.7" y2="220.7" stroke="#111" stroke-width="0.9" />
<line x1="547.7" y1="212.8" x2="555.2" y2="212.8" stroke="#111" stroke-width="0.9" />
<line x1="547.7" y1="220.7" x2="555.2" y2="220.7" stroke="#111" stroke-width="0.9" />
<line x1="540.5" y1="205.0" x2="540.5" y2="216.7" stroke="#111" stroke-width="0.9" />
<line x1="540.5" y1="205.0" x2="555.2" y2="205.0" stroke="#111" stroke-width="0.9" />
<line x1="540.5" y1="216.7" x2="547.7" y2="216.7" stroke="#111" stroke-width="0.9" />
<line x1="547.7" y1="228.5" x2="547.7" y2="236.3" stroke="#bbb" stroke-width="0.9" />
<line x1="547.7" y1="228.5" x2="555.2" y2="228.5" stroke="#bbb" stroke-width="0.9" />
<line x1="547.7" y1="236.3" x2="555.2" y2="236.3" stroke="#bbb" stroke-width="0.9" />
<line x1="532.3" y1="210.9" x2="532.3" y2="232.4" stroke="#111" stroke-width="0.9" />
<line x1="532.3" y1="210.9" x2="540.5" y2="210.9" stroke="#111" stroke-width="0.9" />
<line x1="532.3" y1="232.4" x2="547.7" y2="232.4" stroke="#111" stroke-width="0.9" />
<line x1="525.1" y1="197.1" x2="525.1" y2="221.6" stroke="#bbb" stroke-width="0.9" />
<line x1="525.1" y1="197.1" x2="555.2" y2="197.1" stroke="#bbb" stroke-width="0.9" />
<line x1="525.1" y1="221.6" x2="532.3" y2="221.6" stroke="#bbb" stroke-width="0.9" />
<line x1="547.7" y1="244.2" x2="547.7" y2="252.0" stroke="#111" stroke-width="0.9" />
<line x1="547.7" y1="244.2" x2="555.2" y2="244.2" stroke="#111" stroke-width="0.9" />
<line x1="547.7" y1="252.0" x2="555.2" y2="252.0" stroke="#111" stroke-width="0.9" />
<line x1="547.7" y1="259.8" x2="547.7" y2="267.7" stroke="#111" stroke-width="0.9" />
<line x1="547.7" y1="259.8" x2="555.2" y2="259.8" stroke="#111" stroke-width="0.9" />
<line x1="547.7" y1="267.7" x2="555.2" y2="267.7" stroke="#111" stroke-width="0.9" />
<line x1="540.5" y1="248.1" x2="540.5" y2="263.8" stroke="#111" stroke-width="0.9" />
<line x1="540.5" y1="248.1" x2="547.7" y2="248.1" stroke="#111" stroke-width="0.9" />
<line x1="540.5" y1="263.8" x2="547.7" y2="263.8" stroke="#111" stroke-width="0.9" />
<line x1="517.2" y1="209.4" x2="517.2" y2="255.9" stroke="#111" stroke-width="0.9" />
<line x1="517.2" y1="209.4" x2="525.1" y2="209.4" stroke="#111" stroke-width="0.9" />
<line x1="517.2" y1="255.9" x2="540.5" y2="255.9" stroke="#111" stroke-width="0.9" />
<line x1="509.5" y1="126.9" x2="509.5" y2="232.7" stroke="#bbb" stroke-width="0.9" />
<line x1="509.5" y1="126.9" x2="517.2" y2="126.9" stroke="#bbb" stroke-width="0.9" />
<line x1="509.5" y1="232.7" x2="517.2" y2="232.7" stroke="#bbb" stroke-width="0.9" />
<line x1="501.8" y1="63.9" x2="501.8" y2="179.8" stroke="#111" stroke-width="0.9" />
<line x1="501.8" y1="63.9" x2="555.2" y2="63.9" stroke="#111" stroke-width="0.9" />
<line x1="501.8" y1="179.8" x2="509.5" y2="179.8" stroke="#111" stroke-width="0.9" />
<line x1="501.8" y1="63.9" x2="555.2" y2="63.9" stroke="#bbb" stroke-width="0.9" />
<line x1="525.1" y1="197.1" x2="555.2" y2="197.1" stroke="#111" stroke-width="0.9" />
<text x="573.3" y="277.8" font-size="5.5" fill="#333" transform="rotate(90 573.3 277.8)" font-family="Liberation Mono">HFD1</text>
<text x="608.7" y="277.8" font-size="5.5" fill="#333" transform="rotate(90 608.7 277.8)" font-family="Liberation Mono">HFD2</text>
<text x="644.1" y="277.8" font-size="5.5" fill="#333" transform="rotate(90 644.1 277.8)" font-family="Liberation Mono">HFD3</text>
<text x="679.5" y="277.8" font-size="5.5" fill="#333" transform="rotate(90 679.5 277.8)" font-family="Liberation Mono">HCD1</text>
<text x="714.9" y="277.8" font-size="5.5" fill="#333" transform="rotate(90 714.9 277.8)" font-family="Liberation Mono">HCD2</text>
<text x="750.3" y="277.8" font-size="5.5" fill="#333" transform="rotate(90 750.3 277.8)" font-family="Liberation Mono">HCD3</text>
<line x1="564.0" y1="295.4" x2="657.0" y2="295.4" stroke="#111" stroke-width="1.1" />
<line x1="670.0" y1="295.4" x2="762.6" y2="295.4" stroke="#111" stroke-width="1.1" />
<text x="606.0" y="305.2" font-size="10" font-weight="bold" text-anchor="middle" >HFD</text>
<text x="712.0" y="306.0" font-size="10" font-weight="bold" text-anchor="middle" >HCD</text>
<text x="0" y="0" font-size="34" transform="translate(821.55 39.40) scale(0.7920 1)" >C</text>
<line x1="913.2" y1="219.1" x2="913.2" y2="209.4" stroke="#6699cc" stroke-width="1.3" />
<line x1="910.4" y1="209.4" x2="916.0" y2="209.4" stroke="#6699cc" stroke-width="1.5" />
<rect x="906.0" y="219.1" width="14.4" height="25.7" fill="#6699cc" />
<line x1="930.6" y1="206.3" x2="930.6" y2="193.5" stroke="#87cdf7" stroke-width="1.3" />
<line x1="927.8" y1="193.5" x2="933.4" y2="193.5" stroke="#87cdf7" stroke-width="1.5" />
<rect x="924.0" y="206.9" width="13.2" height="37.9" fill="#87cdf7" stroke="#5f9ad6" stroke-width="1.2" />
<line x1="948.0" y1="210.2" x2="948.0" y2="195.5" stroke="#ff9933" stroke-width="1.3" />
<line x1="945.2" y1="195.5" x2="950.8" y2="195.5" stroke="#ff9933" stroke-width="1.5" />
<rect x="940.8" y="210.2" width="14.4" height="34.7" fill="#ff9933" />
<line x1="978.2" y1="219.1" x2="978.2" y2="209.4" stroke="#6699cc" stroke-width="1.3" />
<line x1="975.4" y1="209.4" x2="981.0" y2="209.4" stroke="#6699cc" stroke-width="1.5" />
<rect x="971.0" y="219.1" width="14.4" height="25.7" fill="#6699cc" />
<line x1="995.6" y1="234.5" x2="995.6" y2="229.4" stroke="#87cdf7" stroke-width="1.3" />
<line x1="992.8" y1="229.4" x2="998.4" y2="229.4" stroke="#87cdf7" stroke-width="1.5" />
<rect x="989.0" y="235.1" width="13.2" height="9.7" fill="#87cdf7" stroke="#5f9ad6" stroke-width="1.2" />
<line x1="1012.4" y1="142.1" x2="1012.4" y2="101.6" stroke="#ff9933" stroke-width="1.3" />
<line x1="1009.6" y1="101.6" x2="1015.2" y2="101.6" stroke="#ff9933" stroke-width="1.5" />
<rect x="1005.2" y="142.1" width="14.4" height="102.7" fill="#ff9933" />
<line x1="1042.6" y1="219.1" x2="1042.6" y2="196.5" stroke="#6699cc" stroke-width="1.3" />
<line x1="1039.8" y1="196.5" x2="1045.4" y2="196.5" stroke="#6699cc" stroke-width="1.5" />
<rect x="1035.4" y="219.1" width="14.4" height="25.7" fill="#6699cc" />
<line x1="1059.7" y1="211.4" x2="1059.7" y2="175.0" stroke="#87cdf7" stroke-width="1.3" />
<line x1="1056.9" y1="175.0" x2="1062.5" y2="175.0" stroke="#87cdf7" stroke-width="1.5" />
<rect x="1053.1" y="212.0" width="13.2" height="32.8" fill="#87cdf7" stroke="#5f9ad6" stroke-width="1.2" />
<line x1="1076.2" y1="219.1" x2="1076.2" y2="202.5" stroke="#ff9933" stroke-width="1.3" />
<line x1="1073.4" y1="202.5" x2="1079.0" y2="202.5" stroke="#ff9933" stroke-width="1.5" />
<rect x="1069.0" y="219.1" width="14.4" height="25.7" fill="#ff9933" />
<line x1="898.5" y1="90.3" x2="898.5" y2="245.5" stroke="#000" stroke-width="1.5" />
<line x1="897.8" y1="244.8" x2="1092.3" y2="244.8" stroke="#000" stroke-width="2.2" />
<line x1="893.6" y1="244.8" x2="898.5" y2="244.8" stroke="#000" stroke-width="1.3" />
<text x="891.5" y="248.1" font-size="9.2" font-weight="bold" text-anchor="end" >0</text>
<line x1="893.6" y1="193.5" x2="898.5" y2="193.5" stroke="#000" stroke-width="1.3" />
<text x="891.5" y="196.8" font-size="9.2" font-weight="bold" text-anchor="end" >2</text>
<line x1="893.6" y1="142.1" x2="898.5" y2="142.1" stroke="#000" stroke-width="1.3" />
<text x="891.5" y="145.4" font-size="9.2" font-weight="bold" text-anchor="end" >4</text>
<line x1="893.6" y1="90.8" x2="898.5" y2="90.8" stroke="#000" stroke-width="1.3" />
<text x="891.5" y="94.1" font-size="9.2" font-weight="bold" text-anchor="end" >6</text>
<line x1="930.4" y1="244.8" x2="930.4" y2="249.5" stroke="#000" stroke-width="1.5" />
<line x1="994.8" y1="244.8" x2="994.8" y2="249.5" stroke="#000" stroke-width="1.5" />
<line x1="1059.2" y1="244.8" x2="1059.2" y2="249.5" stroke="#000" stroke-width="1.5" />
<text x="930.4" y="263.2" font-size="12" font-weight="bold" text-anchor="middle" >NOX1</text>
<text x="994.8" y="263.2" font-size="12" font-weight="bold" text-anchor="middle" >NOX2</text>
<text x="1059.2" y="263.2" font-size="12" font-weight="bold" text-anchor="middle" >NOX4</text>
<text x="860.2" y="167.8" font-size="14" font-weight="bold" text-anchor="middle" textLength="126" lengthAdjust="spacingAndGlyphs" transform="rotate(-90 860.2 167.8)" >mRNA expression</text>
<text x="878.1" y="168.3" font-size="14" font-weight="bold" text-anchor="middle" textLength="140.5" lengthAdjust="spacingAndGlyphs" transform="rotate(-90 878.1 168.3)" >(Relative to β - actin)</text>
<rect x="1048.0" y="85.2" width="17.9" height="9.4" fill="#6699cc" />
<rect x="1048.6" y="103.7" width="16.7" height="7.8" fill="#87cdf7" stroke="#5f9ad6" stroke-width="1.2" />
<rect x="1048.0" y="121.0" width="17.9" height="8.5" fill="#ff9933" />
<text x="1075.8" y="94.3" font-size="12" font-weight="bold" >HFD</text>
<text x="1075.3" y="112.0" font-size="12" font-weight="bold" >SCD</text>
<text x="1075.8" y="129.6" font-size="12" font-weight="bold" >HCD</text>
<line x1="978.3" y1="64.2" x2="1012.5" y2="64.2" stroke="#5b8fd0" stroke-width="1.0" />
<line x1="978.3" y1="64.2" x2="978.3" y2="204.4" stroke="#5b8fd0" stroke-width="1.0" />
<line x1="1012.5" y1="64.2" x2="1012.5" y2="97.9" stroke="#5b8fd0" stroke-width="1.0" />
<line x1="995.2" y1="84.0" x2="1012.5" y2="84.0" stroke="#a8c6ea" stroke-width="1.0" />
<line x1="995.2" y1="84.0" x2="995.2" y2="226.5" stroke="#5b8fd0" stroke-width="1.0" />
<text x="984.3" y="67.1" font-size="17.2" textLength="20.2" lengthAdjust="spacingAndGlyphs" >***</text>
<text x="987.6" y="86.2" font-size="17.2" textLength="27" lengthAdjust="spacingAndGlyphs" >****</text>
<text x="0" y="0" font-size="34" transform="translate(31.61 338.80) scale(0.8799 1)" >D</text>
<text x="0" y="0" font-size="18" transform="translate(187.84 347.80) scale(1.0502 1)" font-weight="bold" >Cytoplasm</text>
<text x="177.8" y="374.2" font-size="18" text-anchor="middle" >HFD</text>
<text x="237.0" y="374.2" font-size="18" text-anchor="middle" >SCD</text>
<text x="300.0" y="374.2" font-size="18" text-anchor="middle" >HCD</text>
<line x1="146.0" y1="376.6" x2="203.4" y2="376.6" stroke="#000" stroke-width="1.3" />
<line x1="208.0" y1="376.6" x2="265.6" y2="376.6" stroke="#000" stroke-width="1.3" />
<line x1="271.0" y1="376.6" x2="329.0" y2="376.6" stroke="#000" stroke-width="1.3" />
<text x="352.8" y="375.9" font-size="16" >kDa</text>
<rect x="142.0" y="388.9" width="199.0" height="19.5" fill="#f3f3f3" filter="url(#nb)"/>
<rect x="149.0" y="393.8" width="22.4" height="7.5" rx="6" ry="3.8" fill="#808080" opacity="0.26" filter="url(#bl2)"/>
<rect x="148.0" y="395.2" width="24.4" height="4.5" rx="6.1" ry="2.2" fill="#808080" filter="url(#bl)"/>
<rect x="181.0" y="393.5" width="22.4" height="8.0" rx="6" ry="4.0" fill="#565656" opacity="0.26" filter="url(#bl2)"/>
<rect x="180.0" y="395.0" width="24.4" height="5.0" rx="6.1" ry="2.5" fill="#565656" filter="url(#bl)"/>
<rect x="214.0" y="394.0" width="20.6" height="7.0" rx="6" ry="3.5" fill="#a8a8a8" opacity="0.26" filter="url(#bl2)"/>
<rect x="213.0" y="395.5" width="22.6" height="4.0" rx="5.6" ry="2.0" fill="#a8a8a8" filter="url(#bl)"/>
<rect x="245.0" y="394.0" width="20.0" height="7.0" rx="6" ry="3.5" fill="#a8a8a8" opacity="0.26" filter="url(#bl2)"/>
<rect x="244.0" y="395.5" width="22.0" height="4.0" rx="5.5" ry="2.0" fill="#a8a8a8" filter="url(#bl)"/>
<rect x="273.4" y="392.8" width="25.6" height="9.5" rx="6" ry="4.8" fill="#000" opacity="0.14" filter="url(#bl2)"/>
<rect x="272.4" y="394.2" width="27.6" height="6.5" rx="6.9" ry="3.2" fill="#000" filter="url(#bl)"/>
<rect x="306.4" y="392.8" width="24.6" height="9.5" rx="6" ry="4.8" fill="#000" opacity="0.14" filter="url(#bl2)"/>
<rect x="305.4" y="394.2" width="26.6" height="6.5" rx="6.7" ry="3.2" fill="#000" filter="url(#bl)"/>
<rect x="135.0" y="385.4" width="213.6" height="26.0" fill="none" stroke="#000" stroke-width="1.3" />
<text x="359.5" y="404.4" font-size="14.3" >40</text>
<text x="67.6" y="409.7" font-size="19" >p40<tspan font-size="12.5" dy="-5.9">phox</tspan></text>
<rect x="142.0" y="423.3" width="199.0" height="19.8" fill="#f3f3f3" filter="url(#nb)"/>
<rect x="150.0" y="429.1" width="24.0" height="7.5" rx="6" ry="3.8" fill="#3c3c3c" opacity="0.26" filter="url(#bl2)"/>
<rect x="149.0" y="430.6" width="26.0" height="4.5" rx="6.5" ry="2.2" fill="#3c3c3c" filter="url(#bl)"/>
<rect x="183.0" y="428.8" width="22.0" height="8.0" rx="6" ry="4.0" fill="#303030" opacity="0.26" filter="url(#bl2)"/>
<rect x="182.0" y="430.3" width="24.0" height="5.0" rx="6.0" ry="2.5" fill="#303030" filter="url(#bl)"/>
<rect x="215.0" y="429.1" width="22.0" height="7.5" rx="6" ry="3.8" fill="#4a4a4a" opacity="0.26" filter="url(#bl2)"/>
<rect x="214.0" y="430.6" width="24.0" height="4.5" rx="6.0" ry="2.2" fill="#4a4a4a" filter="url(#bl)"/>
<rect x="247.0" y="429.1" width="22.0" height="7.5" rx="6" ry="3.8" fill="#4a4a4a" opacity="0.26" filter="url(#bl2)"/>
<rect x="246.0" y="430.6" width="24.0" height="4.5" rx="6.0" ry="2.2" fill="#4a4a4a" filter="url(#bl)"/>
<rect x="276.0" y="426.8" width="27.0" height="12.0" rx="6" ry="6.0" fill="#000" opacity="0.14" filter="url(#bl2)"/>
<rect x="275.0" y="428.3" width="29.0" height="9.0" rx="7.0" ry="4.5" fill="#000" filter="url(#bl)"/>
<rect x="309.0" y="427.1" width="26.0" height="11.5" rx="6" ry="5.8" fill="#000" opacity="0.14" filter="url(#bl2)"/>
<rect x="308.0" y="428.6" width="28.0" height="8.5" rx="7.0" ry="4.2" fill="#000" filter="url(#bl)"/>
<rect x="135.0" y="419.8" width="213.6" height="26.3" fill="none" stroke="#000" stroke-width="1.3" />
<text x="359.5" y="439.0" font-size="14.3" >47</text>
<text x="67.6" y="444.3" font-size="19" >p47<tspan font-size="12.5" dy="-5.9">phox</tspan></text>
<rect x="142.0" y="459.5" width="199.0" height="19.8" fill="#f3f3f3" filter="url(#nb)"/>
<rect x="144.0" y="464.2" width="25.0" height="7.5" rx="6" ry="3.8" fill="#686868" opacity="0.26" filter="url(#bl2)"/>
<rect x="143.0" y="465.8" width="27.0" height="4.5" rx="6.8" ry="2.2" fill="#686868" filter="url(#bl)"/>
<rect x="178.0" y="464.2" width="25.0" height="7.5" rx="6" ry="3.8" fill="#6c6c6c" opacity="0.26" filter="url(#bl2)"/>
<rect x="177.0" y="465.8" width="27.0" height="4.5" rx="6.8" ry="2.2" fill="#6c6c6c" filter="url(#bl)"/>
<rect x="212.0" y="464.5" width="22.0" height="7.0" rx="6" ry="3.5" fill="#8c8c8c" opacity="0.26" filter="url(#bl2)"/>
<rect x="211.0" y="466.0" width="24.0" height="4.0" rx="6.0" ry="2.0" fill="#8c8c8c" filter="url(#bl)"/>
<rect x="244.0" y="464.5" width="23.0" height="7.0" rx="6" ry="3.5" fill="#888" opacity="0.26" filter="url(#bl2)"/>
<rect x="243.0" y="466.0" width="25.0" height="4.0" rx="6.2" ry="2.0" fill="#888" filter="url(#bl)"/>
<rect x="275.0" y="462.8" width="27.0" height="10.5" rx="6" ry="5.2" fill="#000" opacity="0.14" filter="url(#bl2)"/>
<rect x="274.0" y="464.2" width="29.0" height="7.5" rx="7.0" ry="3.8" fill="#000" filter="url(#bl)"/>
<rect x="308.0" y="462.5" width="26.0" height="11.0" rx="6" ry="5.5" fill="#000" opacity="0.14" filter="url(#bl2)"/>
<rect x="307.0" y="464.0" width="28.0" height="8.0" rx="7.0" ry="4.0" fill="#000" filter="url(#bl)"/>
<rect x="133.2" y="456.0" width="214.5" height="26.3" fill="none" stroke="#000" stroke-width="1.3" />
<text x="359.5" y="475.1" font-size="14.3" >67</text>
<text x="67.6" y="480.4" font-size="19" >p67<tspan font-size="12.5" dy="-5.9">phox</tspan></text>
<rect x="142.0" y="493.9" width="199.0" height="19.5" fill="#e2e2e2" filter="url(#nb)"/>
<rect x="146.6" y="500.2" width="25.4" height="7.5" rx="6" ry="3.8" fill="#000" opacity="0.14" filter="url(#bl2)"/>
<rect x="145.6" y="501.8" width="27.4" height="4.5" rx="6.9" ry="2.2" fill="#000" filter="url(#bl)"/>
<rect x="178.6" y="500.0" width="26.4" height="8.0" rx="6" ry="4.0" fill="#000" opacity="0.14" filter="url(#bl2)"/>
<rect x="177.6" y="501.5" width="28.4" height="5.0" rx="7.0" ry="2.5" fill="#000" filter="url(#bl)"/>
<rect x="211.0" y="500.0" width="25.0" height="8.0" rx="6" ry="4.0" fill="#000" opacity="0.14" filter="url(#bl2)"/>
<rect x="210.0" y="501.5" width="27.0" height="5.0" rx="6.8" ry="2.5" fill="#000" filter="url(#bl)"/>
<rect x="243.0" y="500.5" width="25.0" height="7.0" rx="6" ry="3.5" fill="#000" opacity="0.14" filter="url(#bl2)"/>
<rect x="242.0" y="502.0" width="27.0" height="4.0" rx="6.8" ry="2.0" fill="#000" filter="url(#bl)"/>
<rect x="275.6" y="500.2" width="25.4" height="7.5" rx="6" ry="3.8" fill="#000" opacity="0.14" filter="url(#bl2)"/>
<rect x="274.6" y="501.8" width="27.4" height="4.5" rx="6.8" ry="2.2" fill="#000" filter="url(#bl)"/>
<rect x="308.0" y="500.2" width="27.0" height="7.5" rx="6" ry="3.8" fill="#000" opacity="0.14" filter="url(#bl2)"/>
<rect x="307.0" y="501.8" width="29.0" height="4.5" rx="7.0" ry="2.2" fill="#000" filter="url(#bl)"/>
<rect x="135.0" y="490.4" width="213.6" height="26.0" fill="none" stroke="#000" stroke-width="1.3" />
<text x="359.5" y="509.4" font-size="14.3" >21</text>
<text x="68.8" y="513.4" font-size="18.2" >Rac</text>
<rect x="142.0" y="526.9" width="199.0" height="19.7" fill="#f3f3f3" filter="url(#nb)"/>
<rect x="145.0" y="532.8" width="27.0" height="8.5" rx="6" ry="4.2" fill="#000" opacity="0.14" filter="url(#bl2)"/>
<rect x="144.0" y="534.2" width="29.0" height="5.5" rx="7.0" ry="2.8" fill="#000" filter="url(#bl)"/>
<rect x="178.0" y="533.0" width="27.0" height="8.0" rx="6" ry="4.0" fill="#000" opacity="0.14" filter="url(#bl2)"/>
<rect x="177.0" y="534.5" width="29.0" height="5.0" rx="7.0" ry="2.5" fill="#000" filter="url(#bl)"/>
<rect x="211.0" y="533.2" width="26.6" height="7.5" rx="6" ry="3.8" fill="#000" opacity="0.14" filter="url(#bl2)"/>
<rect x="210.0" y="534.8" width="28.6" height="4.5" rx="7.0" ry="2.2" fill="#000" filter="url(#bl)"/>
<rect x="243.0" y="532.8" width="28.0" height="8.5" rx="6" ry="4.2" fill="#000" opacity="0.14" filter="url(#bl2)"/>
<rect x="242.0" y="534.2" width="30.0" height="5.5" rx="7.0" ry="2.8" fill="#000" filter="url(#bl)"/>
<rect x="276.0" y="532.8" width="27.0" height="8.5" rx="6" ry="4.2" fill="#000" opacity="0.14" filter="url(#bl2)"/>
<rect x="275.0" y="534.2" width="29.0" height="5.5" rx="7.0" ry="2.8" fill="#000" filter="url(#bl)"/>
<rect x="308.0" y="532.8" width="28.0" height="8.5" rx="6" ry="4.2" fill="#000" opacity="0.14" filter="url(#bl2)"/>
<rect x="307.0" y="534.2" width="30.0" height="5.5" rx="7.0" ry="2.8" fill="#000" filter="url(#bl)"/>
<rect x="135.0" y="523.4" width="213.6" height="26.2" fill="none" stroke="#000" stroke-width="1.3" />
<text x="359.5" y="542.5" font-size="14.3" >45</text>
<text x="67.8" y="547.6" font-size="18.2" textLength="55" lengthAdjust="spacingAndGlyphs" >β-actin</text>
<rect x="308.0" y="474.5" width="26.0" height="6.0" rx="6" ry="3.0" fill="#c8c8c8" opacity="0.26" filter="url(#bl2)"/>
<rect x="307.0" y="476.0" width="28.0" height="3.0" rx="7.0" ry="1.5" fill="#c8c8c8" filter="url(#bl2)"/>
<rect x="275.0" y="474.5" width="27.0" height="6.0" rx="6" ry="3.0" fill="#d8d8d8" opacity="0.26" filter="url(#bl2)"/>
<rect x="274.0" y="476.0" width="29.0" height="3.0" rx="7.0" ry="1.5" fill="#d8d8d8" filter="url(#bl2)"/>
<text x="0" y="0" font-size="18" transform="translate(201.15 597.20) scale(1.0658 1)" font-weight="bold" >Membrane</text>
<text x="184.5" y="624.7" font-size="18" text-anchor="middle" >HFD</text>
<text x="244.5" y="624.7" font-size="18" text-anchor="middle" >SCD</text>
<text x="306.8" y="624.7" font-size="18" text-anchor="middle" >HCD</text>
<line x1="153.4" y1="627.4" x2="210.9" y2="627.4" stroke="#000" stroke-width="1.3" />
<line x1="215.3" y1="627.4" x2="272.7" y2="627.4" stroke="#000" stroke-width="1.3" />
<line x1="278.4" y1="627.4" x2="335.9" y2="627.4" stroke="#000" stroke-width="1.3" />
<text x="354.4" y="626.2" font-size="16" >kDa</text>
<rect x="145.0" y="637.1" width="200.0" height="19.3" fill="#f3f3f3" filter="url(#nb)"/>
<rect x="147.0" y="644.5" width="27.0" height="9.0" rx="6" ry="4.5" fill="#a0a0a0" opacity="0.26" filter="url(#bl2)"/>
<rect x="146.0" y="646.0" width="29.0" height="6.0" rx="7.0" ry="3.0" fill="#a0a0a0" filter="url(#bl2)"/>
<rect x="181.0" y="644.2" width="26.0" height="9.5" rx="6" ry="4.8" fill="#8c8c8c" opacity="0.26" filter="url(#bl2)"/>
<rect x="180.0" y="645.8" width="28.0" height="6.5" rx="7.0" ry="3.2" fill="#8c8c8c" filter="url(#bl2)"/>
<rect x="214.0" y="644.8" width="26.0" height="8.5" rx="6" ry="4.2" fill="#b0b0b0" opacity="0.26" filter="url(#bl2)"/>
<rect x="213.0" y="646.2" width="28.0" height="5.5" rx="7.0" ry="2.8" fill="#b0b0b0" filter="url(#bl2)"/>
<rect x="248.0" y="644.8" width="25.0" height="8.5" rx="6" ry="4.2" fill="#b4b4b4" opacity="0.26" filter="url(#bl2)"/>
<rect x="247.0" y="646.2" width="27.0" height="5.5" rx="6.8" ry="2.8" fill="#b4b4b4" filter="url(#bl2)"/>
<rect x="139.4" y="633.6" width="213.2" height="25.8" fill="none" stroke="#000" stroke-width="1.3" />
<text x="362.0" y="652.1" font-size="14.3" >40</text>
<text x="68.3" y="657.8" font-size="18.5" >p40<tspan font-size="12.2" dy="-5.5">phox</tspan></text>
<rect x="145.0" y="668.1" width="200.0" height="19.3" fill="#f3f3f3" filter="url(#nb)"/>
<rect x="149.0" y="673.0" width="24.0" height="7.5" rx="6" ry="3.8" fill="#5a5a5a" opacity="0.26" filter="url(#bl2)"/>
<rect x="148.0" y="674.5" width="26.0" height="4.5" rx="6.5" ry="2.2" fill="#5a5a5a" filter="url(#bl)"/>
<rect x="183.0" y="672.8" width="24.0" height="8.0" rx="6" ry="4.0" fill="#383838" opacity="0.26" filter="url(#bl2)"/>
<rect x="182.0" y="674.3" width="26.0" height="5.0" rx="6.5" ry="2.5" fill="#383838" filter="url(#bl)"/>
<rect x="216.0" y="673.3" width="23.0" height="7.0" rx="6" ry="3.5" fill="#909090" opacity="0.26" filter="url(#bl2)"/>
<rect x="215.0" y="674.8" width="25.0" height="4.0" rx="6.2" ry="2.0" fill="#909090" filter="url(#bl)"/>
<rect x="250.0" y="673.3" width="22.0" height="7.0" rx="6" ry="3.5" fill="#909090" opacity="0.26" filter="url(#bl2)"/>
<rect x="249.0" y="674.8" width="24.0" height="4.0" rx="6.0" ry="2.0" fill="#909090" filter="url(#bl)"/>
<rect x="279.0" y="671.0" width="28.0" height="11.5" rx="6" ry="5.8" fill="#000" opacity="0.14" filter="url(#bl2)"/>
<rect x="278.0" y="672.5" width="30.0" height="8.5" rx="7.0" ry="4.2" fill="#000" filter="url(#bl)"/>
<rect x="313.0" y="671.3" width="28.0" height="11.0" rx="6" ry="5.5" fill="#000" opacity="0.14" filter="url(#bl2)"/>
<rect x="312.0" y="672.8" width="30.0" height="8.0" rx="7.0" ry="4.0" fill="#000" filter="url(#bl)"/>
<rect x="139.4" y="664.6" width="213.2" height="25.8" fill="none" stroke="#000" stroke-width="1.3" />
<text x="362.0" y="683.1" font-size="14.3" >47</text>
<text x="68.3" y="688.8" font-size="18.5" >p47<tspan font-size="12.2" dy="-5.5">phox</tspan></text>
<rect x="145.0" y="696.9" width="200.0" height="19.5" fill="#f3f3f3" filter="url(#nb)"/>
<rect x="150.0" y="704.0" width="25.0" height="8.0" rx="6" ry="4.0" fill="#202020" opacity="0.26" filter="url(#bl2)"/>
<rect x="149.0" y="705.5" width="27.0" height="5.0" rx="6.8" ry="2.5" fill="#202020" filter="url(#bl)"/>
<rect x="183.0" y="703.8" width="26.0" height="8.5" rx="6" ry="4.2" fill="#151515" opacity="0.26" filter="url(#bl2)"/>
<rect x="182.0" y="705.2" width="28.0" height="5.5" rx="7.0" ry="2.8" fill="#151515" filter="url(#bl)"/>
<rect x="217.0" y="704.0" width="23.0" height="8.0" rx="6" ry="4.0" fill="#202020" opacity="0.26" filter="url(#bl2)"/>
<rect x="216.0" y="705.5" width="25.0" height="5.0" rx="6.2" ry="2.5" fill="#202020" filter="url(#bl)"/>
<rect x="250.0" y="704.0" width="23.0" height="8.0" rx="6" ry="4.0" fill="#202020" opacity="0.26" filter="url(#bl2)"/>
<rect x="249.0" y="705.5" width="25.0" height="5.0" rx="6.2" ry="2.5" fill="#202020" filter="url(#bl)"/>
<rect x="279.0" y="701.5" width="29.0" height="13.0" rx="6" ry="6.5" fill="#000" opacity="0.14" filter="url(#bl2)"/>
<rect x="278.0" y="703.0" width="31.0" height="10.0" rx="7.0" ry="5.0" fill="#000" filter="url(#bl)"/>
<rect x="313.0" y="702.0" width="28.0" height="12.0" rx="6" ry="6.0" fill="#000" opacity="0.14" filter="url(#bl2)"/>
<rect x="312.0" y="703.5" width="30.0" height="9.0" rx="7.0" ry="4.5" fill="#000" filter="url(#bl)"/>
<rect x="139.4" y="693.4" width="213.2" height="26.0" fill="none" stroke="#000" stroke-width="1.3" />
<text x="362.0" y="712.0" font-size="14.3" >67</text>
<text x="68.3" y="717.7" font-size="18.5" >p67<tspan font-size="12.2" dy="-5.5">phox</tspan></text>
<rect x="145.0" y="725.9" width="200.0" height="19.5" fill="#f3f3f3" filter="url(#nb)"/>
<rect x="154.0" y="730.7" width="23.0" height="9.0" rx="6" ry="4.5" fill="#555" opacity="0.26" filter="url(#bl2)"/>
<rect x="153.0" y="732.2" width="25.0" height="6.0" rx="6.2" ry="3.0" fill="#555" filter="url(#bl2)"/>
<rect x="188.0" y="730.7" width="22.0" height="9.0" rx="6" ry="4.5" fill="#404040" opacity="0.26" filter="url(#bl2)"/>
<rect x="187.0" y="732.2" width="24.0" height="6.0" rx="6.0" ry="3.0" fill="#404040" filter="url(#bl2)"/>
<rect x="221.0" y="731.0" width="21.0" height="8.5" rx="6" ry="4.2" fill="#8a8a8a" opacity="0.26" filter="url(#bl2)"/>
<rect x="220.0" y="732.5" width="23.0" height="5.5" rx="5.8" ry="2.8" fill="#8a8a8a" filter="url(#bl2)"/>
<rect x="253.0" y="731.2" width="21.0" height="8.0" rx="6" ry="4.0" fill="#9a9a9a" opacity="0.26" filter="url(#bl2)"/>
<rect x="252.0" y="732.7" width="23.0" height="5.0" rx="5.8" ry="2.5" fill="#9a9a9a" filter="url(#bl2)"/>
<rect x="283.0" y="728.7" width="24.0" height="13.0" rx="6" ry="6.5" fill="#000" opacity="0.14" filter="url(#bl2)"/>
<rect x="282.0" y="730.2" width="26.0" height="10.0" rx="6.5" ry="5.0" fill="#000" filter="url(#bl)"/>
<rect x="314.0" y="729.2" width="25.0" height="12.0" rx="6" ry="6.0" fill="#000" opacity="0.14" filter="url(#bl2)"/>
<rect x="313.0" y="730.7" width="27.0" height="9.0" rx="6.8" ry="4.5" fill="#000" filter="url(#bl)"/>
<rect x="139.4" y="722.4" width="213.2" height="26.0" fill="none" stroke="#000" stroke-width="1.3" />
<text x="362.0" y="741.0" font-size="14.3" >22</text>
<text x="68.3" y="746.7" font-size="18.5" >p22<tspan font-size="12.2" dy="-5.5">phox</tspan></text>
<rect x="145.0" y="755.9" width="200.0" height="19.1" fill="#e8e8e8" filter="url(#nb)"/>
<rect x="150.0" y="761.5" width="26.0" height="7.5" rx="6" ry="3.8" fill="#000" opacity="0.14" filter="url(#bl2)"/>
<rect x="149.0" y="763.0" width="28.0" height="4.5" rx="7.0" ry="2.2" fill="#000" filter="url(#bl)"/>
<rect x="184.0" y="761.5" width="26.0" height="7.5" rx="6" ry="3.8" fill="#000" opacity="0.14" filter="url(#bl2)"/>
<rect x="183.0" y="763.0" width="28.0" height="4.5" rx="7.0" ry="2.2" fill="#000" filter="url(#bl)"/>
<rect x="217.0" y="761.8" width="25.0" height="6.8" rx="6" ry="3.4" fill="#000" opacity="0.14" filter="url(#bl2)"/>
<rect x="216.0" y="763.3" width="27.0" height="3.8" rx="6.8" ry="1.9" fill="#000" filter="url(#bl)"/>
<rect x="249.0" y="761.5" width="26.0" height="7.5" rx="6" ry="3.8" fill="#000" opacity="0.14" filter="url(#bl2)"/>
<rect x="248.0" y="763.0" width="28.0" height="4.5" rx="7.0" ry="2.2" fill="#000" filter="url(#bl)"/>
<rect x="281.0" y="761.7" width="25.0" height="7.0" rx="6" ry="3.5" fill="#000" opacity="0.14" filter="url(#bl2)"/>
<rect x="280.0" y="763.2" width="27.0" height="4.0" rx="6.8" ry="2.0" fill="#000" filter="url(#bl)"/>
<rect x="314.0" y="761.7" width="26.0" height="7.0" rx="6" ry="3.5" fill="#000" opacity="0.14" filter="url(#bl2)"/>
<rect x="313.0" y="763.2" width="28.0" height="4.0" rx="7.0" ry="2.0" fill="#000" filter="url(#bl)"/>
<rect x="139.4" y="752.4" width="213.2" height="25.6" fill="none" stroke="#000" stroke-width="1.3" />
<text x="362.0" y="770.8" font-size="14.3" >21</text>
<text x="68.8" y="775.9" font-size="18.6" >Rac</text>
<rect x="145.0" y="785.1" width="200.0" height="19.3" fill="#e8e8e8" filter="url(#nb)"/>
<rect x="149.0" y="789.8" width="28.0" height="10.5" rx="6" ry="5.2" fill="#000" opacity="0.14" filter="url(#bl2)"/>
<rect x="148.0" y="791.2" width="30.0" height="7.5" rx="7.0" ry="3.8" fill="#000" filter="url(#bl)"/>
<rect x="184.0" y="790.5" width="26.0" height="9.0" rx="6" ry="4.5" fill="#000" opacity="0.14" filter="url(#bl2)"/>
<rect x="183.0" y="792.0" width="28.0" height="6.0" rx="7.0" ry="3.0" fill="#000" filter="url(#bl)"/>
<rect x="217.0" y="791.0" width="25.0" height="8.0" rx="6" ry="4.0" fill="#000" opacity="0.14" filter="url(#bl2)"/>
<rect x="216.0" y="792.5" width="27.0" height="5.0" rx="6.8" ry="2.5" fill="#000" filter="url(#bl)"/>
<rect x="249.0" y="790.5" width="26.0" height="9.0" rx="6" ry="4.5" fill="#000" opacity="0.14" filter="url(#bl2)"/>
<rect x="248.0" y="792.0" width="28.0" height="6.0" rx="7.0" ry="3.0" fill="#000" filter="url(#bl)"/>
<rect x="281.0" y="791.0" width="25.0" height="8.0" rx="6" ry="4.0" fill="#000" opacity="0.14" filter="url(#bl2)"/>
<rect x="280.0" y="792.5" width="27.0" height="5.0" rx="6.8" ry="2.5" fill="#000" filter="url(#bl)"/>
<rect x="314.0" y="790.8" width="27.0" height="8.5" rx="6" ry="4.2" fill="#000" opacity="0.14" filter="url(#bl2)"/>
<rect x="313.0" y="792.2" width="29.0" height="5.5" rx="7.0" ry="2.8" fill="#000" filter="url(#bl)"/>
<rect x="139.4" y="781.6" width="213.2" height="25.8" fill="none" stroke="#000" stroke-width="1.3" />
<text x="362.0" y="800.1" font-size="14.3" >65</text>
<text x="68.3" y="804.2" font-size="17.5" >gp91<tspan font-size="12.0" dy="-5.3">phox</tspan></text>
<rect x="145.0" y="814.9" width="200.0" height="19.5" fill="#f3f3f3" filter="url(#nb)"/>
<rect x="153.0" y="819.8" width="26.0" height="8.0" rx="6" ry="4.0" fill="#000" opacity="0.14" filter="url(#bl2)"/>
<rect x="152.0" y="821.3" width="28.0" height="5.0" rx="7.0" ry="2.5" fill="#000" filter="url(#bl)"/>
<rect x="184.0" y="819.8" width="27.0" height="8.0" rx="6" ry="4.0" fill="#000" opacity="0.14" filter="url(#bl2)"/>
<rect x="183.0" y="821.3" width="29.0" height="5.0" rx="7.0" ry="2.5" fill="#000" filter="url(#bl)"/>
<rect x="216.0" y="820.0" width="26.0" height="7.5" rx="6" ry="3.8" fill="#000" opacity="0.14" filter="url(#bl2)"/>
<rect x="215.0" y="821.5" width="28.0" height="4.5" rx="7.0" ry="2.2" fill="#000" filter="url(#bl)"/>
<rect x="248.0" y="820.0" width="26.0" height="7.5" rx="6" ry="3.8" fill="#000" opacity="0.14" filter="url(#bl2)"/>
<rect x="247.0" y="821.5" width="28.0" height="4.5" rx="7.0" ry="2.2" fill="#000" filter="url(#bl)"/>
<rect x="280.0" y="819.8" width="27.0" height="8.0" rx="6" ry="4.0" fill="#000" opacity="0.14" filter="url(#bl2)"/>
<rect x="279.0" y="821.3" width="29.0" height="5.0" rx="7.0" ry="2.5" fill="#000" filter="url(#bl)"/>
<rect x="311.0" y="819.8" width="29.0" height="8.0" rx="6" ry="4.0" fill="#000" opacity="0.14" filter="url(#bl2)"/>
<rect x="310.0" y="821.3" width="31.0" height="5.0" rx="7.0" ry="2.5" fill="#000" filter="url(#bl)"/>
<rect x="139.4" y="811.4" width="214.0" height="26.0" fill="none" stroke="#000" stroke-width="1.3" />
<text x="358.7" y="830.0" font-size="14.3" >100</text>
<text x="68.6" y="830.6" font-size="14.8" >Na<tspan font-size="9.5" dy="-5.5">+</tspan><tspan dy="5.5">/K</tspan><tspan font-size="9.5" dy="-5.5">+</tspan><tspan dy="5.5">-</tspan></text>
<text x="68.3" y="847.3" font-size="14.5" textLength="63.5" lengthAdjust="spacingAndGlyphs" >ATPase α</text>
<rect x="281" y="629" width="64" height="6" fill="#c8c8c8" filter="url(#bl)"/>
<rect x="280" y="633.5" width="30" height="23.5" rx="7" ry="9" fill="#000" filter="url(#bl)"/>
<rect x="312.5" y="633.5" width="33" height="23.5" rx="7" ry="9" fill="#000" filter="url(#bl)"/>
<rect x="283" y="633.5" width="60" height="6" fill="#3a3a3a" filter="url(#bl)" opacity="0.8"/>
<rect x="139.4" y="633.6" width="213.2" height="25.8" fill="none" stroke="#000" stroke-width="1.3" />
<text x="0" y="0" font-size="34" transform="translate(482.26 334.20) scale(0.7501 1)" >E</text>
<text x="630.3" y="340.8" font-size="16" text-anchor="middle" >HFD</text>
<text x="742.2" y="340.8" font-size="16" text-anchor="middle" >SCD</text>
<text x="851.1" y="340.8" font-size="16" text-anchor="middle" >HCD</text>
<line x1="579.8" y1="349.0" x2="678.2" y2="349.0" stroke="#000" stroke-width="1.7" />
<line x1="692.1" y1="347.3" x2="790.0" y2="347.3" stroke="#000" stroke-width="1.7" />
<path d="M803.2,346.2 L880,346.2 L901.2,345.6" stroke="#000" stroke-width="1.7" fill="none"/>
<text x="918.6" y="348.0" font-size="15.5" >kDa</text>
<rect x="570.0" y="360.0" width="342.0" height="28.0" fill="#fbfbfb" filter="url(#nb)"/>
<rect x="576.6" y="371.4" width="22.2" height="6.4" rx="6" ry="3.2" fill="#000" opacity="0.14" filter="url(#bl2)"/>
<rect x="575.6" y="372.9" width="24.2" height="3.4" rx="6.0" ry="1.7" fill="#000" filter="url(#blE)"/>
<rect x="605.0" y="371.4" width="21.6" height="6.4" rx="6" ry="3.2" fill="#000" opacity="0.14" filter="url(#bl2)"/>
<rect x="604.0" y="372.9" width="23.6" height="3.4" rx="5.9" ry="1.7" fill="#000" filter="url(#blE)"/>
<rect x="633.2" y="371.4" width="20.9" height="6.4" rx="6" ry="3.2" fill="#000" opacity="0.14" filter="url(#bl2)"/>
<rect x="632.2" y="372.9" width="22.9" height="3.4" rx="5.7" ry="1.7" fill="#000" filter="url(#blE)"/>
<rect x="661.0" y="371.4" width="21.0" height="6.4" rx="6" ry="3.2" fill="#000" opacity="0.14" filter="url(#bl2)"/>
<rect x="660.0" y="372.9" width="23.0" height="3.4" rx="5.8" ry="1.7" fill="#000" filter="url(#blE)"/>
<rect x="688.2" y="371.4" width="22.1" height="6.4" rx="6" ry="3.2" fill="#000" opacity="0.14" filter="url(#bl2)"/>
<rect x="687.2" y="372.9" width="24.1" height="3.4" rx="6.0" ry="1.7" fill="#000" filter="url(#blE)"/>
<rect x="716.3" y="371.4" width="22.2" height="6.4" rx="6" ry="3.2" fill="#000" opacity="0.14" filter="url(#bl2)"/>
<rect x="715.3" y="372.9" width="24.2" height="3.4" rx="6.1" ry="1.7" fill="#000" filter="url(#blE)"/>
<rect x="744.4" y="371.4" width="21.9" height="6.4" rx="6" ry="3.2" fill="#000" opacity="0.14" filter="url(#bl2)"/>
<rect x="743.4" y="372.9" width="23.9" height="3.4" rx="6.0" ry="1.7" fill="#000" filter="url(#blE)"/>
<rect x="772.5" y="371.4" width="21.8" height="6.4" rx="6" ry="3.2" fill="#000" opacity="0.14" filter="url(#bl2)"/>
<rect x="771.5" y="372.9" width="23.8" height="3.4" rx="5.9" ry="1.7" fill="#000" filter="url(#blE)"/>
<rect x="799.0" y="371.2" width="23.9" height="8.4" rx="6" ry="4.2" fill="#000" opacity="0.14" filter="url(#bl2)"/>
<rect x="798.0" y="372.7" width="25.9" height="5.4" rx="6.5" ry="2.7" fill="#000" filter="url(#blE)"/>
<rect x="827.4" y="371.2" width="23.7" height="8.4" rx="6" ry="4.2" fill="#000" opacity="0.14" filter="url(#bl2)"/>
<rect x="826.4" y="372.7" width="25.7" height="5.4" rx="6.4" ry="2.7" fill="#000" filter="url(#blE)"/>
<rect x="855.5" y="371.2" width="23.1" height="8.4" rx="6" ry="4.2" fill="#000" opacity="0.14" filter="url(#bl2)"/>
<rect x="854.5" y="372.7" width="25.1" height="5.4" rx="6.3" ry="2.7" fill="#000" filter="url(#blE)"/>
<rect x="883.2" y="371.2" width="24.4" height="8.4" rx="6" ry="4.2" fill="#000" opacity="0.14" filter="url(#bl2)"/>
<rect x="882.2" y="372.7" width="26.4" height="5.4" rx="6.6" ry="2.7" fill="#000" filter="url(#blE)"/>
<rect x="564.3" y="357.6" width="353.3" height="32.7" fill="none" stroke="#000" stroke-width="1.3" />
<rect x="572.0" y="405.0" width="340.0" height="28.0" fill="#f8f8f8" filter="url(#nb)"/>
<rect x="576.6" y="414.5" width="24.2" height="8.6" rx="6" ry="4.3" fill="#000" opacity="0.14" filter="url(#bl2)"/>
<rect x="575.6" y="416.0" width="26.2" height="5.6" rx="6.5" ry="2.8" fill="#000" filter="url(#blE)"/>
<rect x="605.6" y="414.5" width="23.7" height="8.6" rx="6" ry="4.3" fill="#000" opacity="0.14" filter="url(#bl2)"/>
<rect x="604.6" y="416.0" width="25.7" height="5.6" rx="6.4" ry="2.8" fill="#000" filter="url(#blE)"/>
<rect x="633.7" y="414.5" width="23.7" height="8.6" rx="6" ry="4.3" fill="#000" opacity="0.14" filter="url(#bl2)"/>
<rect x="632.7" y="416.0" width="25.7" height="5.6" rx="6.4" ry="2.8" fill="#000" filter="url(#blE)"/>
<rect x="661.7" y="414.5" width="23.9" height="8.6" rx="6" ry="4.3" fill="#000" opacity="0.14" filter="url(#bl2)"/>
<rect x="660.7" y="416.0" width="25.9" height="5.6" rx="6.5" ry="2.8" fill="#000" filter="url(#blE)"/>
<rect x="689.6" y="414.5" width="23.7" height="8.6" rx="6" ry="4.3" fill="#000" opacity="0.14" filter="url(#bl2)"/>
<rect x="688.6" y="416.0" width="25.7" height="5.6" rx="6.4" ry="2.8" fill="#000" filter="url(#blE)"/>
<rect x="717.3" y="414.5" width="23.7" height="8.6" rx="6" ry="4.3" fill="#000" opacity="0.14" filter="url(#bl2)"/>
<rect x="716.3" y="416.0" width="25.7" height="5.6" rx="6.4" ry="2.8" fill="#000" filter="url(#blE)"/>
<rect x="745.3" y="414.5" width="23.2" height="8.6" rx="6" ry="4.3" fill="#000" opacity="0.14" filter="url(#bl2)"/>
<rect x="744.3" y="416.0" width="25.2" height="5.6" rx="6.3" ry="2.8" fill="#000" filter="url(#blE)"/>
<rect x="773.3" y="414.5" width="23.3" height="8.6" rx="6" ry="4.3" fill="#000" opacity="0.14" filter="url(#bl2)"/>
<rect x="772.3" y="416.0" width="25.3" height="5.6" rx="6.3" ry="2.8" fill="#000" filter="url(#blE)"/>
<rect x="801.5" y="414.5" width="23.3" height="8.6" rx="6" ry="4.3" fill="#000" opacity="0.14" filter="url(#bl2)"/>
<rect x="800.5" y="416.0" width="25.3" height="5.6" rx="6.3" ry="2.8" fill="#000" filter="url(#blE)"/>
<rect x="829.4" y="414.5" width="23.2" height="8.6" rx="6" ry="4.3" fill="#000" opacity="0.14" filter="url(#bl2)"/>
<rect x="828.4" y="416.0" width="25.2" height="5.6" rx="6.3" ry="2.8" fill="#000" filter="url(#blE)"/>
<rect x="857.3" y="414.5" width="23.2" height="8.6" rx="6" ry="4.3" fill="#000" opacity="0.14" filter="url(#bl2)"/>
<rect x="856.3" y="416.0" width="25.2" height="5.6" rx="6.3" ry="2.8" fill="#000" filter="url(#blE)"/>
<rect x="885.1" y="414.5" width="23.4" height="8.6" rx="6" ry="4.3" fill="#000" opacity="0.14" filter="url(#bl2)"/>
<rect x="884.1" y="416.0" width="25.4" height="5.6" rx="6.3" ry="2.8" fill="#000" filter="url(#blE)"/>
<rect x="564.3" y="402.7" width="353.3" height="32.6" fill="none" stroke="#000" stroke-width="1.3" />
<text x="494.0" y="381.8" font-size="16" >p-p47<tspan font-size="10.8" dy="-4.5">phox</tspan></text>
<text x="499.5" y="427.3" font-size="16.4" >β-actin</text>
<text x="925.6" y="383.6" font-size="13.2" >47</text>
<text x="925.6" y="426.5" font-size="13.2" >45</text>
<line x1="1011.9" y1="386.6" x2="1011.9" y2="384.2" stroke="#6699cc" stroke-width="1.3" />
<line x1="1006.9" y1="384.2" x2="1016.9" y2="384.2" stroke="#6699cc" stroke-width="1.5" />
<rect x="998.9" y="386.6" width="26.0" height="57.6" fill="#6699cc" />
<line x1="1048.2" y1="381.9" x2="1048.2" y2="377.6" stroke="#5f9ad6" stroke-width="1.3" />
<line x1="1043.2" y1="377.6" x2="1053.2" y2="377.6" stroke="#5f9ad6" stroke-width="1.5" />
<rect x="1036.2" y="382.7" width="23.9" height="61.5" fill="#87cdf7" stroke="#5f9ad6" stroke-width="1.6" />
<line x1="1084.2" y1="350.0" x2="1084.2" y2="347.3" stroke="#ff9933" stroke-width="1.3" />
<line x1="1079.2" y1="347.3" x2="1089.2" y2="347.3" stroke="#ff9933" stroke-width="1.5" />
<rect x="1071.0" y="350.0" width="26.5" height="94.2" fill="#ff9933" />
<line x1="993.4" y1="326.8" x2="993.4" y2="444.9" stroke="#000" stroke-width="1.2" />
<line x1="992.8" y1="444.2" x2="1102.8" y2="444.2" stroke="#000" stroke-width="1.5" />
<line x1="990.0" y1="444.2" x2="993.4" y2="444.2" stroke="#000" stroke-width="1.0" />
<text x="989.6" y="447.6" font-size="9.8" font-weight="bold" text-anchor="end" >0.0</text>
<line x1="990.0" y1="405.3" x2="993.4" y2="405.3" stroke="#000" stroke-width="1.0" />
<text x="989.6" y="408.7" font-size="9.8" font-weight="bold" text-anchor="end" >0.5</text>
<line x1="990.0" y1="366.3" x2="993.4" y2="366.3" stroke="#000" stroke-width="1.0" />
<text x="989.6" y="369.7" font-size="9.8" font-weight="bold" text-anchor="end" >1.0</text>
<line x1="990.0" y1="327.4" x2="993.4" y2="327.4" stroke="#000" stroke-width="1.0" />
<text x="989.6" y="330.8" font-size="9.8" font-weight="bold" text-anchor="end" >1.5</text>
<line x1="1011.5" y1="444.2" x2="1011.5" y2="447.5" stroke="#000" stroke-width="1.0" />
<line x1="1048.1" y1="444.2" x2="1048.1" y2="447.5" stroke="#000" stroke-width="1.0" />
<line x1="1084.6" y1="444.2" x2="1084.6" y2="447.5" stroke="#000" stroke-width="1.0" />
<text x="1011.5" y="457.6" font-size="9.6" font-weight="bold" text-anchor="middle" >HFD</text>
<text x="1048.1" y="457.6" font-size="9.6" font-weight="bold" text-anchor="middle" >SCD</text>
<text x="1084.6" y="457.6" font-size="9.6" font-weight="bold" text-anchor="middle" >HCD</text>
<text x="968.4" y="407.1" font-size="9.8" font-weight="bold" transform="rotate(-90 968.4 407.1)" textLength="43.5" lengthAdjust="spacingAndGlyphs">p-p47<tspan font-size="8.6" dy="-3.6">phox</tspan></text>
<line x1="1011.2" y1="307.2" x2="1084.7" y2="307.2" stroke="#000" stroke-width="0.9" />
<line x1="1011.2" y1="307.2" x2="1011.2" y2="378.7" stroke="#000" stroke-width="0.9" />
<line x1="1084.7" y1="307.2" x2="1084.7" y2="343.4" stroke="#000" stroke-width="0.9" />
<line x1="1047.7" y1="329.0" x2="1084.7" y2="329.0" stroke="#bbb" stroke-width="0.9" />
<line x1="1047.7" y1="329.0" x2="1047.7" y2="375.1" stroke="#000" stroke-width="0.9" />
<text x="1037.6" y="305.6" font-size="8.6" fill="#333" textLength="21.5" lengthAdjust="spacingAndGlyphs" >****</text>
<text x="1056.0" y="328.0" font-size="8.6" fill="#555" textLength="21.5" lengthAdjust="spacingAndGlyphs" >****</text>
<text x="0" y="0" font-size="34" transform="translate(487.14 508.60) scale(0.7923 1)" >F</text>
<text x="0" y="0" font-size="14.5" transform="translate(614.96 489.80) scale(1.1010 1)" font-weight="bold" fill="#1a1ad0" >DAPI</text>
<text x="728.0" y="490.2" font-size="15.5" font-weight="bold" fill="#e81010" textLength="64" lengthAdjust="spacingAndGlyphs">gp91<tspan font-size="10.5" dy="-6.0">phox</tspan></text>
<text x="860.0" y="490.2" font-size="15.5" font-weight="bold" fill="#1fc81f" textLength="54" lengthAdjust="spacingAndGlyphs">p47<tspan font-size="10.5" dy="-6.0">phox</tspan></text>
<text x="0" y="0" font-size="15" transform="translate(984.90 491.50) scale(1.1248 1)" font-weight="bold" fill="#111" >Merge</text>
<g clip-path="url(#fc00)"><rect x="569.8" y="497.8" width="115.8" height="86.5" fill="#020208"/><g filter="url(#nuc)"><ellipse cx="589.0" cy="501.2" rx="3.8" ry="3.3" transform="rotate(-11 589.0 501.2)" fill="#1919d3"/><ellipse cx="581.5" cy="513.5" rx="3.3" ry="3.8" transform="rotate(8 581.5 513.5)" fill="#1717c5"/><ellipse cx="616.2" cy="510.3" rx="3.8" ry="3.5" transform="rotate(-0 616.2 510.3)" fill="#1717c9"/><ellipse cx="632.2" cy="509.7" rx="3.3" ry="3.8" transform="rotate(5 632.2 509.7)" fill="#1919d1"/><ellipse cx="636.5" cy="503.3" rx="3.8" ry="3.8" transform="rotate(-12 636.5 503.3)" fill="#1616bf"/><ellipse cx="643.9" cy="501.7" rx="2.4" ry="3.8" transform="rotate(10 643.9 501.7)" fill="#1717c9"/><ellipse cx="650.9" cy="505.5" rx="3.8" ry="2.7" transform="rotate(8 650.9 505.5)" fill="#1616bf"/><ellipse cx="662.1" cy="508.1" rx="3.5" ry="3.3" transform="rotate(-2 662.1 508.1)" fill="#1818d0"/><ellipse cx="675.9" cy="500.1" rx="3.8" ry="2.2" transform="rotate(-8 675.9 500.1)" fill="#1919d5"/><ellipse cx="674.3" cy="506.0" rx="3.3" ry="2.4" transform="rotate(12 674.3 506.0)" fill="#1616bf"/><ellipse cx="673.8" cy="516.1" rx="3.0" ry="3.8" transform="rotate(-14 673.8 516.1)" fill="#1818cc"/><ellipse cx="683.4" cy="512.9" rx="1.6" ry="3.8" transform="rotate(13 683.4 512.9)" fill="#1717c8"/><ellipse cx="648.2" cy="513.5" rx="4.4" ry="2.7" transform="rotate(-9 648.2 513.5)" fill="#1717c9"/><ellipse cx="589.0" cy="521.5" rx="3.8" ry="3.0" transform="rotate(-14 589.0 521.5)" fill="#1616c4"/><ellipse cx="598.1" cy="525.7" rx="4.4" ry="4.1" transform="rotate(-2 598.1 525.7)" fill="#1818cb"/><ellipse cx="610.3" cy="523.1" rx="3.0" ry="4.1" transform="rotate(-8 610.3 523.1)" fill="#1616c4"/><ellipse cx="618.9" cy="520.4" rx="3.5" ry="3.5" transform="rotate(-8 618.9 520.4)" fill="#1717ca"/><ellipse cx="625.8" cy="527.9" rx="3.3" ry="3.3" transform="rotate(-6 625.8 527.9)" fill="#1616bf"/><ellipse cx="649.8" cy="522.0" rx="3.5" ry="3.3" transform="rotate(10 649.8 522.0)" fill="#1818cc"/><ellipse cx="660.5" cy="530.0" rx="3.8" ry="3.8" transform="rotate(4 660.5 530.0)" fill="#1616c3"/><ellipse cx="680.2" cy="526.8" rx="3.8" ry="2.7" transform="rotate(15 680.2 526.8)" fill="#1919d3"/><ellipse cx="677.0" cy="533.2" rx="3.8" ry="2.7" transform="rotate(-11 677.0 533.2)" fill="#1717c7"/><ellipse cx="683.4" cy="534.3" rx="1.1" ry="3.3" transform="rotate(7 683.4 534.3)" fill="#1818d0"/><ellipse cx="573.5" cy="539.1" rx="4.1" ry="4.6" transform="rotate(13 573.5 539.1)" fill="#1717c9"/><ellipse cx="589.0" cy="534.3" rx="4.4" ry="4.1" transform="rotate(10 589.0 534.3)" fill="#1818cf"/><ellipse cx="606.1" cy="535.9" rx="3.8" ry="3.5" transform="rotate(-6 606.1 535.9)" fill="#1818cd"/><ellipse cx="617.8" cy="531.1" rx="3.3" ry="3.8" transform="rotate(11 617.8 531.1)" fill="#1919d3"/><ellipse cx="631.5" cy="533.7" rx="3.8" ry="3.3" transform="rotate(0 631.5 533.7)" fill="#1818cd"/><ellipse cx="647.1" cy="538.5" rx="3.3" ry="3.8" transform="rotate(-14 647.1 538.5)" fill="#1717c4"/><ellipse cx="653.5" cy="536.4" rx="3.5" ry="3.5" transform="rotate(9 653.5 536.4)" fill="#1717c9"/><ellipse cx="667.9" cy="536.9" rx="3.3" ry="4.6" transform="rotate(-10 667.9 536.9)" fill="#1818cc"/><ellipse cx="615.7" cy="541.7" rx="3.5" ry="3.5" transform="rotate(6 615.7 541.7)" fill="#1818cf"/><ellipse cx="641.3" cy="542.8" rx="3.3" ry="3.5" transform="rotate(-4 641.3 542.8)" fill="#1717c9"/><ellipse cx="658.9" cy="547.1" rx="3.8" ry="3.3" transform="rotate(0 658.9 547.1)" fill="#1919d1"/><ellipse cx="682.3" cy="543.9" rx="2.2" ry="3.3" transform="rotate(1 682.3 543.9)" fill="#1717c8"/><ellipse cx="586.3" cy="549.2" rx="4.1" ry="4.6" transform="rotate(-0 586.3 549.2)" fill="#1616bf"/><ellipse cx="600.7" cy="550.8" rx="4.4" ry="4.6" transform="rotate(-14 600.7 550.8)" fill="#1818cf"/><ellipse cx="625.8" cy="548.7" rx="3.8" ry="3.5" transform="rotate(14 625.8 548.7)" fill="#1818cd"/><ellipse cx="636.5" cy="548.1" rx="3.3" ry="3.5" transform="rotate(-3 636.5 548.1)" fill="#1616c3"/><ellipse cx="579.4" cy="556.1" rx="4.4" ry="3.3" transform="rotate(0 579.4 556.1)" fill="#1919d6"/><ellipse cx="570.9" cy="560.9" rx="1.6" ry="3.8" transform="rotate(8 570.9 560.9)" fill="#1818cc"/><ellipse cx="609.3" cy="558.8" rx="3.3" ry="4.1" transform="rotate(11 609.3 558.8)" fill="#1616c4"/><ellipse cx="633.3" cy="556.1" rx="3.0" ry="4.1" transform="rotate(0 633.3 556.1)" fill="#1919d5"/><ellipse cx="643.4" cy="559.3" rx="3.8" ry="3.3" transform="rotate(2 643.4 559.3)" fill="#1717ca"/><ellipse cx="651.9" cy="554.5" rx="3.8" ry="2.7" transform="rotate(-7 651.9 554.5)" fill="#1818cc"/><ellipse cx="657.3" cy="559.9" rx="3.8" ry="3.0" transform="rotate(14 657.3 559.9)" fill="#1616bf"/><ellipse cx="666.3" cy="560.4" rx="3.5" ry="4.6" transform="rotate(9 666.3 560.4)" fill="#1919d2"/><ellipse cx="678.1" cy="551.3" rx="3.3" ry="3.0" transform="rotate(12 678.1 551.3)" fill="#1818d0"/><ellipse cx="678.1" cy="562.5" rx="3.5" ry="3.3" transform="rotate(9 678.1 562.5)" fill="#1818cb"/><ellipse cx="579.9" cy="565.7" rx="3.5" ry="3.8" transform="rotate(2 579.9 565.7)" fill="#1717c9"/><ellipse cx="598.6" cy="566.3" rx="3.8" ry="3.5" transform="rotate(-13 598.6 566.3)" fill="#1919d3"/><ellipse cx="621.5" cy="563.1" rx="3.8" ry="3.5" transform="rotate(2 621.5 563.1)" fill="#1616c3"/><ellipse cx="634.3" cy="566.3" rx="3.8" ry="3.8" transform="rotate(0 634.3 566.3)" fill="#1717ca"/><ellipse cx="610.9" cy="571.1" rx="3.0" ry="4.1" transform="rotate(-4 610.9 571.1)" fill="#1717c7"/><ellipse cx="586.9" cy="573.2" rx="3.3" ry="3.8" transform="rotate(1 586.9 573.2)" fill="#1818ce"/><ellipse cx="601.8" cy="575.3" rx="3.8" ry="3.5" transform="rotate(3 601.8 575.3)" fill="#1717ca"/><ellipse cx="621.5" cy="573.7" rx="3.5" ry="4.1" transform="rotate(-14 621.5 573.7)" fill="#1616c4"/><ellipse cx="641.3" cy="572.1" rx="2.4" ry="2.2" transform="rotate(-10 641.3 572.1)" fill="#2828f4"/><ellipse cx="634.3" cy="576.9" rx="3.0" ry="1.9" transform="rotate(3 634.3 576.9)" fill="#2828f4"/><ellipse cx="572.5" cy="579.1" rx="3.3" ry="3.8" transform="rotate(11 572.5 579.1)" fill="#1919d2"/><ellipse cx="579.4" cy="582.8" rx="3.8" ry="1.6" transform="rotate(9 579.4 582.8)" fill="#1919d2"/><ellipse cx="593.8" cy="582.8" rx="2.7" ry="1.4" transform="rotate(-7 593.8 582.8)" fill="#1919d3"/><ellipse cx="675.4" cy="575.3" rx="4.1" ry="3.3" transform="rotate(5 675.4 575.3)" fill="#1616c1"/><ellipse cx="683.4" cy="572.7" rx="1.1" ry="3.3" transform="rotate(-14 683.4 572.7)" fill="#1616bf"/><ellipse cx="626.9" cy="583.3" rx="2.7" ry="1.1" transform="rotate(8 626.9 583.3)" fill="#1717c5"/></g><rect x="672.4" y="580.7" width="11" height="1.7" fill="#f4f4f4"/></g>
<g clip-path="url(#fc01)"><rect x="698.0" y="497.8" width="115.8" height="86.5" fill="#020208"/><g filter="url(#hz)"><ellipse cx="718.3" cy="502.0" rx="7.6" ry="6.9" fill="#b01030" opacity="0.10"/><ellipse cx="770.3" cy="503.5" rx="4.9" ry="8.0" fill="#b01030" opacity="0.10"/><ellipse cx="800.8" cy="515.5" rx="6.0" ry="8.0" fill="#b01030" opacity="0.07"/><ellipse cx="717.4" cy="523.1" rx="7.6" ry="6.3" fill="#b01030" opacity="0.14"/><ellipse cx="737.0" cy="521.1" rx="6.0" ry="8.6" fill="#b01030" opacity="0.11"/><ellipse cx="790.3" cy="529.0" rx="7.6" ry="8.0" fill="#b01030" opacity="0.13"/><ellipse cx="703.6" cy="539.5" rx="8.2" ry="9.7" fill="#b01030" opacity="0.10"/><ellipse cx="759.8" cy="533.1" rx="7.6" ry="6.9" fill="#b01030" opacity="0.11"/><ellipse cx="716.2" cy="550.1" rx="8.2" ry="9.7" fill="#b01030" opacity="0.13"/><ellipse cx="700.5" cy="559.6" rx="3.3" ry="8.0" fill="#b01030" opacity="0.11"/><ellipse cx="772.0" cy="558.2" rx="7.6" ry="6.9" fill="#b01030" opacity="0.06"/><ellipse cx="725.6" cy="566.4" rx="7.6" ry="7.4" fill="#b01030" opacity="0.07"/><ellipse cx="764.3" cy="565.9" rx="7.6" ry="8.0" fill="#b01030" opacity="0.09"/><ellipse cx="702.2" cy="577.3" rx="6.5" ry="8.0" fill="#b01030" opacity="0.12"/><ellipse cx="706.0" cy="581.4" rx="7.6" ry="3.4" fill="#b01030" opacity="0.08"/><ellipse cx="805.4" cy="575.0" rx="8.2" ry="6.9" fill="#b01030" opacity="0.07"/></g><g filter="url(#nuc)"><ellipse cx="717.2" cy="501.2" rx="3.8" ry="3.3" transform="rotate(-11 717.2 501.2)" fill="#1919d3"/><ellipse cx="709.7" cy="513.5" rx="3.3" ry="3.8" transform="rotate(8 709.7 513.5)" fill="#1717c5"/><ellipse cx="744.4" cy="510.3" rx="3.8" ry="3.5" transform="rotate(-0 744.4 510.3)" fill="#1717c9"/><ellipse cx="760.4" cy="509.7" rx="3.3" ry="3.8" transform="rotate(5 760.4 509.7)" fill="#1919d1"/><ellipse cx="764.7" cy="503.3" rx="3.8" ry="3.8" transform="rotate(-12 764.7 503.3)" fill="#1616bf"/><ellipse cx="772.1" cy="501.7" rx="2.4" ry="3.8" transform="rotate(10 772.1 501.7)" fill="#1717c9"/><ellipse cx="779.1" cy="505.5" rx="3.8" ry="2.7" transform="rotate(8 779.1 505.5)" fill="#1616bf"/><ellipse cx="790.3" cy="508.1" rx="3.5" ry="3.3" transform="rotate(-2 790.3 508.1)" fill="#1818d0"/><ellipse cx="804.1" cy="500.1" rx="3.8" ry="2.2" transform="rotate(-8 804.1 500.1)" fill="#1919d5"/><ellipse cx="802.5" cy="506.0" rx="3.3" ry="2.4" transform="rotate(12 802.5 506.0)" fill="#1616bf"/><ellipse cx="802.0" cy="516.1" rx="3.0" ry="3.8" transform="rotate(-14 802.0 516.1)" fill="#1818cc"/><ellipse cx="811.6" cy="512.9" rx="1.6" ry="3.8" transform="rotate(13 811.6 512.9)" fill="#1717c8"/><ellipse cx="776.4" cy="513.5" rx="4.4" ry="2.7" transform="rotate(-9 776.4 513.5)" fill="#1717c9"/><ellipse cx="717.2" cy="521.5" rx="3.8" ry="3.0" transform="rotate(-14 717.2 521.5)" fill="#1616c4"/><ellipse cx="726.3" cy="525.7" rx="4.4" ry="4.1" transform="rotate(-2 726.3 525.7)" fill="#1818cb"/><ellipse cx="738.5" cy="523.1" rx="3.0" ry="4.1" transform="rotate(-8 738.5 523.1)" fill="#1616c4"/><ellipse cx="747.1" cy="520.4" rx="3.5" ry="3.5" transform="rotate(-8 747.1 520.4)" fill="#1717ca"/><ellipse cx="754.0" cy="527.9" rx="3.3" ry="3.3" transform="rotate(-6 754.0 527.9)" fill="#1616bf"/><ellipse cx="778.0" cy="522.0" rx="3.5" ry="3.3" transform="rotate(10 778.0 522.0)" fill="#1818cc"/><ellipse cx="788.7" cy="530.0" rx="3.8" ry="3.8" transform="rotate(4 788.7 530.0)" fill="#1616c3"/><ellipse cx="808.4" cy="526.8" rx="3.8" ry="2.7" transform="rotate(15 808.4 526.8)" fill="#1919d3"/><ellipse cx="805.2" cy="533.2" rx="3.8" ry="2.7" transform="rotate(-11 805.2 533.2)" fill="#1717c7"/><ellipse cx="811.6" cy="534.3" rx="1.1" ry="3.3" transform="rotate(7 811.6 534.3)" fill="#1818d0"/><ellipse cx="701.7" cy="539.1" rx="4.1" ry="4.6" transform="rotate(13 701.7 539.1)" fill="#1717c9"/><ellipse cx="717.2" cy="534.3" rx="4.4" ry="4.1" transform="rotate(10 717.2 534.3)" fill="#1818cf"/><ellipse cx="734.3" cy="535.9" rx="3.8" ry="3.5" transform="rotate(-6 734.3 535.9)" fill="#1818cd"/><ellipse cx="746.0" cy="531.1" rx="3.3" ry="3.8" transform="rotate(11 746.0 531.1)" fill="#1919d3"/><ellipse cx="759.7" cy="533.7" rx="3.8" ry="3.3" transform="rotate(0 759.7 533.7)" fill="#1818cd"/><ellipse cx="775.3" cy="538.5" rx="3.3" ry="3.8" transform="rotate(-14 775.3 538.5)" fill="#1717c4"/><ellipse cx="781.7" cy="536.4" rx="3.5" ry="3.5" transform="rotate(9 781.7 536.4)" fill="#1717c9"/><ellipse cx="796.1" cy="536.9" rx="3.3" ry="4.6" transform="rotate(-10 796.1 536.9)" fill="#1818cc"/><ellipse cx="743.9" cy="541.7" rx="3.5" ry="3.5" transform="rotate(6 743.9 541.7)" fill="#1818cf"/><ellipse cx="769.5" cy="542.8" rx="3.3" ry="3.5" transform="rotate(-4 769.5 542.8)" fill="#1717c9"/><ellipse cx="787.1" cy="547.1" rx="3.8" ry="3.3" transform="rotate(0 787.1 547.1)" fill="#1919d1"/><ellipse cx="810.5" cy="543.9" rx="2.2" ry="3.3" transform="rotate(1 810.5 543.9)" fill="#1717c8"/><ellipse cx="714.5" cy="549.2" rx="4.1" ry="4.6" transform="rotate(-0 714.5 549.2)" fill="#1616bf"/><ellipse cx="728.9" cy="550.8" rx="4.4" ry="4.6" transform="rotate(-14 728.9 550.8)" fill="#1818cf"/><ellipse cx="754.0" cy="548.7" rx="3.8" ry="3.5" transform="rotate(14 754.0 548.7)" fill="#1818cd"/><ellipse cx="764.7" cy="548.1" rx="3.3" ry="3.5" transform="rotate(-3 764.7 548.1)" fill="#1616c3"/><ellipse cx="707.6" cy="556.1" rx="4.4" ry="3.3" transform="rotate(0 707.6 556.1)" fill="#1919d6"/><ellipse cx="699.1" cy="560.9" rx="1.6" ry="3.8" transform="rotate(8 699.1 560.9)" fill="#1818cc"/><ellipse cx="737.5" cy="558.8" rx="3.3" ry="4.1" transform="rotate(11 737.5 558.8)" fill="#1616c4"/><ellipse cx="761.5" cy="556.1" rx="3.0" ry="4.1" transform="rotate(0 761.5 556.1)" fill="#1919d5"/><ellipse cx="771.6" cy="559.3" rx="3.8" ry="3.3" transform="rotate(2 771.6 559.3)" fill="#1717ca"/><ellipse cx="780.1" cy="554.5" rx="3.8" ry="2.7" transform="rotate(-7 780.1 554.5)" fill="#1818cc"/><ellipse cx="785.5" cy="559.9" rx="3.8" ry="3.0" transform="rotate(14 785.5 559.9)" fill="#1616bf"/><ellipse cx="794.5" cy="560.4" rx="3.5" ry="4.6" transform="rotate(9 794.5 560.4)" fill="#1919d2"/><ellipse cx="806.3" cy="551.3" rx="3.3" ry="3.0" transform="rotate(12 806.3 551.3)" fill="#1818d0"/><ellipse cx="806.3" cy="562.5" rx="3.5" ry="3.3" transform="rotate(9 806.3 562.5)" fill="#1818cb"/><ellipse cx="708.1" cy="565.7" rx="3.5" ry="3.8" transform="rotate(2 708.1 565.7)" fill="#1717c9"/><ellipse cx="726.8" cy="566.3" rx="3.8" ry="3.5" transform="rotate(-13 726.8 566.3)" fill="#1919d3"/><ellipse cx="749.7" cy="563.1" rx="3.8" ry="3.5" transform="rotate(2 749.7 563.1)" fill="#1616c3"/><ellipse cx="762.5" cy="566.3" rx="3.8" ry="3.8" transform="rotate(0 762.5 566.3)" fill="#1717ca"/><ellipse cx="739.1" cy="571.1" rx="3.0" ry="4.1" transform="rotate(-4 739.1 571.1)" fill="#1717c7"/><ellipse cx="715.1" cy="573.2" rx="3.3" ry="3.8" transform="rotate(1 715.1 573.2)" fill="#1818ce"/><ellipse cx="730.0" cy="575.3" rx="3.8" ry="3.5" transform="rotate(3 730.0 575.3)" fill="#1717ca"/><ellipse cx="749.7" cy="573.7" rx="3.5" ry="4.1" transform="rotate(-14 749.7 573.7)" fill="#1616c4"/><ellipse cx="769.5" cy="572.1" rx="2.4" ry="2.2" transform="rotate(-10 769.5 572.1)" fill="#2828f4"/><ellipse cx="762.5" cy="576.9" rx="3.0" ry="1.9" transform="rotate(3 762.5 576.9)" fill="#2828f4"/><ellipse cx="700.7" cy="579.1" rx="3.3" ry="3.8" transform="rotate(11 700.7 579.1)" fill="#1919d2"/><ellipse cx="707.6" cy="582.8" rx="3.8" ry="1.6" transform="rotate(9 707.6 582.8)" fill="#1919d2"/><ellipse cx="722.0" cy="582.8" rx="2.7" ry="1.4" transform="rotate(-7 722.0 582.8)" fill="#1919d3"/><ellipse cx="803.6" cy="575.3" rx="4.1" ry="3.3" transform="rotate(5 803.6 575.3)" fill="#1616c1"/><ellipse cx="811.6" cy="572.7" rx="1.1" ry="3.3" transform="rotate(-14 811.6 572.7)" fill="#1616bf"/><ellipse cx="755.1" cy="583.3" rx="2.7" ry="1.1" transform="rotate(8 755.1 583.3)" fill="#1717c5"/></g><rect x="800.6" y="580.7" width="11" height="1.7" fill="#f4f4f4"/></g>
<g clip-path="url(#fc02)"><rect x="826.0" y="497.8" width="115.8" height="86.5" fill="#020208"/><g filter="url(#hz)"><ellipse cx="846.0" cy="499.8" rx="7.6" ry="6.9" fill="#18a020" opacity="0.06"/><ellipse cx="887.1" cy="507.8" rx="6.5" ry="8.0" fill="#18a020" opacity="0.08"/><ellipse cx="940.3" cy="512.9" rx="3.3" ry="8.0" fill="#18a020" opacity="0.08"/><ellipse cx="843.7" cy="521.4" rx="7.6" ry="6.3" fill="#18a020" opacity="0.06"/><ellipse cx="882.7" cy="529.0" rx="6.5" ry="6.9" fill="#18a020" opacity="0.07"/><ellipse cx="915.6" cy="531.0" rx="7.6" ry="8.0" fill="#18a020" opacity="0.09"/><ellipse cx="904.9" cy="538.8" rx="6.5" ry="8.0" fill="#18a020" opacity="0.10"/><ellipse cx="841.8" cy="549.9" rx="8.2" ry="9.7" fill="#18a020" opacity="0.09"/><ellipse cx="855.4" cy="550.2" rx="8.7" ry="9.7" fill="#18a020" opacity="0.08"/><ellipse cx="865.6" cy="560.8" rx="6.5" ry="8.6" fill="#18a020" opacity="0.05"/><ellipse cx="922.3" cy="558.7" rx="7.1" ry="9.7" fill="#18a020" opacity="0.09"/><ellipse cx="856.6" cy="568.1" rx="7.6" ry="7.4" fill="#18a020" opacity="0.05"/><ellipse cx="889.1" cy="564.3" rx="7.6" ry="8.0" fill="#18a020" opacity="0.06"/><ellipse cx="857.8" cy="575.4" rx="7.6" ry="7.4" fill="#18a020" opacity="0.07"/><ellipse cx="895.9" cy="571.9" rx="4.9" ry="4.6" fill="#18a020" opacity="0.11"/><ellipse cx="830.6" cy="579.9" rx="6.5" ry="8.0" fill="#18a020" opacity="0.05"/><ellipse cx="929.8" cy="573.8" rx="8.2" ry="6.9" fill="#18a020" opacity="0.11"/></g><g filter="url(#nuc)"><ellipse cx="845.2" cy="501.2" rx="3.8" ry="3.3" transform="rotate(-11 845.2 501.2)" fill="#1919d3"/><ellipse cx="837.7" cy="513.5" rx="3.3" ry="3.8" transform="rotate(8 837.7 513.5)" fill="#1717c5"/><ellipse cx="872.4" cy="510.3" rx="3.8" ry="3.5" transform="rotate(-0 872.4 510.3)" fill="#1717c9"/><ellipse cx="888.4" cy="509.7" rx="3.3" ry="3.8" transform="rotate(5 888.4 509.7)" fill="#1919d1"/><ellipse cx="892.7" cy="503.3" rx="3.8" ry="3.8" transform="rotate(-12 892.7 503.3)" fill="#1616bf"/><ellipse cx="900.1" cy="501.7" rx="2.4" ry="3.8" transform="rotate(10 900.1 501.7)" fill="#1717c9"/><ellipse cx="907.1" cy="505.5" rx="3.8" ry="2.7" transform="rotate(8 907.1 505.5)" fill="#1616bf"/><ellipse cx="918.3" cy="508.1" rx="3.5" ry="3.3" transform="rotate(-2 918.3 508.1)" fill="#1818d0"/><ellipse cx="932.1" cy="500.1" rx="3.8" ry="2.2" transform="rotate(-8 932.1 500.1)" fill="#1919d5"/><ellipse cx="930.5" cy="506.0" rx="3.3" ry="2.4" transform="rotate(12 930.5 506.0)" fill="#1616bf"/><ellipse cx="930.0" cy="516.1" rx="3.0" ry="3.8" transform="rotate(-14 930.0 516.1)" fill="#1818cc"/><ellipse cx="939.6" cy="512.9" rx="1.6" ry="3.8" transform="rotate(13 939.6 512.9)" fill="#1717c8"/><ellipse cx="904.4" cy="513.5" rx="4.4" ry="2.7" transform="rotate(-9 904.4 513.5)" fill="#1717c9"/><ellipse cx="845.2" cy="521.5" rx="3.8" ry="3.0" transform="rotate(-14 845.2 521.5)" fill="#1616c4"/><ellipse cx="854.3" cy="525.7" rx="4.4" ry="4.1" transform="rotate(-2 854.3 525.7)" fill="#1818cb"/><ellipse cx="866.5" cy="523.1" rx="3.0" ry="4.1" transform="rotate(-8 866.5 523.1)" fill="#1616c4"/><ellipse cx="875.1" cy="520.4" rx="3.5" ry="3.5" transform="rotate(-8 875.1 520.4)" fill="#1717ca"/><ellipse cx="882.0" cy="527.9" rx="3.3" ry="3.3" transform="rotate(-6 882.0 527.9)" fill="#1616bf"/><ellipse cx="906.0" cy="522.0" rx="3.5" ry="3.3" transform="rotate(10 906.0 522.0)" fill="#1818cc"/><ellipse cx="916.7" cy="530.0" rx="3.8" ry="3.8" transform="rotate(4 916.7 530.0)" fill="#1616c3"/><ellipse cx="936.4" cy="526.8" rx="3.8" ry="2.7" transform="rotate(15 936.4 526.8)" fill="#1919d3"/><ellipse cx="933.2" cy="533.2" rx="3.8" ry="2.7" transform="rotate(-11 933.2 533.2)" fill="#1717c7"/><ellipse cx="939.6" cy="534.3" rx="1.1" ry="3.3" transform="rotate(7 939.6 534.3)" fill="#1818d0"/><ellipse cx="829.7" cy="539.1" rx="4.1" ry="4.6" transform="rotate(13 829.7 539.1)" fill="#1717c9"/><ellipse cx="845.2" cy="534.3" rx="4.4" ry="4.1" transform="rotate(10 845.2 534.3)" fill="#1818cf"/><ellipse cx="862.3" cy="535.9" rx="3.8" ry="3.5" transform="rotate(-6 862.3 535.9)" fill="#1818cd"/><ellipse cx="874.0" cy="531.1" rx="3.3" ry="3.8" transform="rotate(11 874.0 531.1)" fill="#1919d3"/><ellipse cx="887.7" cy="533.7" rx="3.8" ry="3.3" transform="rotate(0 887.7 533.7)" fill="#1818cd"/><ellipse cx="903.3" cy="538.5" rx="3.3" ry="3.8" transform="rotate(-14 903.3 538.5)" fill="#1717c4"/><ellipse cx="909.7" cy="536.4" rx="3.5" ry="3.5" transform="rotate(9 909.7 536.4)" fill="#1717c9"/><ellipse cx="924.1" cy="536.9" rx="3.3" ry="4.6" transform="rotate(-10 924.1 536.9)" fill="#1818cc"/><ellipse cx="871.9" cy="541.7" rx="3.5" ry="3.5" transform="rotate(6 871.9 541.7)" fill="#1818cf"/><ellipse cx="897.5" cy="542.8" rx="3.3" ry="3.5" transform="rotate(-4 897.5 542.8)" fill="#1717c9"/><ellipse cx="915.1" cy="547.1" rx="3.8" ry="3.3" transform="rotate(0 915.1 547.1)" fill="#1919d1"/><ellipse cx="938.5" cy="543.9" rx="2.2" ry="3.3" transform="rotate(1 938.5 543.9)" fill="#1717c8"/><ellipse cx="842.5" cy="549.2" rx="4.1" ry="4.6" transform="rotate(-0 842.5 549.2)" fill="#1616bf"/><ellipse cx="856.9" cy="550.8" rx="4.4" ry="4.6" transform="rotate(-14 856.9 550.8)" fill="#1818cf"/><ellipse cx="882.0" cy="548.7" rx="3.8" ry="3.5" transform="rotate(14 882.0 548.7)" fill="#1818cd"/><ellipse cx="892.7" cy="548.1" rx="3.3" ry="3.5" transform="rotate(-3 892.7 548.1)" fill="#1616c3"/><ellipse cx="835.6" cy="556.1" rx="4.4" ry="3.3" transform="rotate(0 835.6 556.1)" fill="#1919d6"/><ellipse cx="827.1" cy="560.9" rx="1.6" ry="3.8" transform="rotate(8 827.1 560.9)" fill="#1818cc"/><ellipse cx="865.5" cy="558.8" rx="3.3" ry="4.1" transform="rotate(11 865.5 558.8)" fill="#1616c4"/><ellipse cx="889.5" cy="556.1" rx="3.0" ry="4.1" transform="rotate(0 889.5 556.1)" fill="#1919d5"/><ellipse cx="899.6" cy="559.3" rx="3.8" ry="3.3" transform="rotate(2 899.6 559.3)" fill="#1717ca"/><ellipse cx="908.1" cy="554.5" rx="3.8" ry="2.7" transform="rotate(-7 908.1 554.5)" fill="#1818cc"/><ellipse cx="913.5" cy="559.9" rx="3.8" ry="3.0" transform="rotate(14 913.5 559.9)" fill="#1616bf"/><ellipse cx="922.5" cy="560.4" rx="3.5" ry="4.6" transform="rotate(9 922.5 560.4)" fill="#1919d2"/><ellipse cx="934.3" cy="551.3" rx="3.3" ry="3.0" transform="rotate(12 934.3 551.3)" fill="#1818d0"/><ellipse cx="934.3" cy="562.5" rx="3.5" ry="3.3" transform="rotate(9 934.3 562.5)" fill="#1818cb"/><ellipse cx="836.1" cy="565.7" rx="3.5" ry="3.8" transform="rotate(2 836.1 565.7)" fill="#1717c9"/><ellipse cx="854.8" cy="566.3" rx="3.8" ry="3.5" transform="rotate(-13 854.8 566.3)" fill="#1919d3"/><ellipse cx="877.7" cy="563.1" rx="3.8" ry="3.5" transform="rotate(2 877.7 563.1)" fill="#1616c3"/><ellipse cx="890.5" cy="566.3" rx="3.8" ry="3.8" transform="rotate(0 890.5 566.3)" fill="#1717ca"/><ellipse cx="867.1" cy="571.1" rx="3.0" ry="4.1" transform="rotate(-4 867.1 571.1)" fill="#1717c7"/><ellipse cx="843.1" cy="573.2" rx="3.3" ry="3.8" transform="rotate(1 843.1 573.2)" fill="#1818ce"/><ellipse cx="858.0" cy="575.3" rx="3.8" ry="3.5" transform="rotate(3 858.0 575.3)" fill="#1717ca"/><ellipse cx="877.7" cy="573.7" rx="3.5" ry="4.1" transform="rotate(-14 877.7 573.7)" fill="#1616c4"/><ellipse cx="897.5" cy="572.1" rx="2.4" ry="2.2" transform="rotate(-10 897.5 572.1)" fill="#2828f4"/><ellipse cx="890.5" cy="576.9" rx="3.0" ry="1.9" transform="rotate(3 890.5 576.9)" fill="#2828f4"/><ellipse cx="828.7" cy="579.1" rx="3.3" ry="3.8" transform="rotate(11 828.7 579.1)" fill="#1919d2"/><ellipse cx="835.6" cy="582.8" rx="3.8" ry="1.6" transform="rotate(9 835.6 582.8)" fill="#1919d2"/><ellipse cx="850.0" cy="582.8" rx="2.7" ry="1.4" transform="rotate(-7 850.0 582.8)" fill="#1919d3"/><ellipse cx="931.6" cy="575.3" rx="4.1" ry="3.3" transform="rotate(5 931.6 575.3)" fill="#1616c1"/><ellipse cx="939.6" cy="572.7" rx="1.1" ry="3.3" transform="rotate(-14 939.6 572.7)" fill="#1616bf"/><ellipse cx="883.1" cy="583.3" rx="2.7" ry="1.1" transform="rotate(8 883.1 583.3)" fill="#1717c5"/></g><rect x="928.6" y="580.7" width="11" height="1.7" fill="#f4f4f4"/></g>
<g clip-path="url(#fc03)"><rect x="952.8" y="497.8" width="115.8" height="86.5" fill="#020208"/><g filter="url(#hz)"><ellipse cx="973.1" cy="502.0" rx="7.6" ry="6.9" fill="#b01030" opacity="0.10"/><ellipse cx="1025.1" cy="503.5" rx="4.9" ry="8.0" fill="#b01030" opacity="0.10"/><ellipse cx="1055.6" cy="515.5" rx="6.0" ry="8.0" fill="#b01030" opacity="0.07"/><ellipse cx="972.2" cy="523.1" rx="7.6" ry="6.3" fill="#b01030" opacity="0.14"/><ellipse cx="991.8" cy="521.1" rx="6.0" ry="8.6" fill="#b01030" opacity="0.11"/><ellipse cx="1045.1" cy="529.0" rx="7.6" ry="8.0" fill="#b01030" opacity="0.13"/><ellipse cx="958.4" cy="539.5" rx="8.2" ry="9.7" fill="#b01030" opacity="0.10"/><ellipse cx="1014.6" cy="533.1" rx="7.6" ry="6.9" fill="#b01030" opacity="0.11"/><ellipse cx="971.0" cy="550.1" rx="8.2" ry="9.7" fill="#b01030" opacity="0.13"/><ellipse cx="955.3" cy="559.6" rx="3.3" ry="8.0" fill="#b01030" opacity="0.11"/><ellipse cx="1026.8" cy="558.2" rx="7.6" ry="6.9" fill="#b01030" opacity="0.06"/><ellipse cx="980.4" cy="566.4" rx="7.6" ry="7.4" fill="#b01030" opacity="0.07"/><ellipse cx="1019.1" cy="565.9" rx="7.6" ry="8.0" fill="#b01030" opacity="0.09"/><ellipse cx="957.0" cy="577.3" rx="6.5" ry="8.0" fill="#b01030" opacity="0.12"/><ellipse cx="960.8" cy="581.4" rx="7.6" ry="3.4" fill="#b01030" opacity="0.08"/><ellipse cx="1060.2" cy="575.0" rx="8.2" ry="6.9" fill="#b01030" opacity="0.07"/></g><g filter="url(#hz)"><ellipse cx="972.8" cy="499.8" rx="7.6" ry="6.9" fill="#18a020" opacity="0.06"/><ellipse cx="1013.9" cy="507.8" rx="6.5" ry="8.0" fill="#18a020" opacity="0.08"/><ellipse cx="1067.1" cy="512.9" rx="3.3" ry="8.0" fill="#18a020" opacity="0.08"/><ellipse cx="970.5" cy="521.4" rx="7.6" ry="6.3" fill="#18a020" opacity="0.06"/><ellipse cx="1009.5" cy="529.0" rx="6.5" ry="6.9" fill="#18a020" opacity="0.07"/><ellipse cx="1042.4" cy="531.0" rx="7.6" ry="8.0" fill="#18a020" opacity="0.09"/><ellipse cx="1031.7" cy="538.8" rx="6.5" ry="8.0" fill="#18a020" opacity="0.10"/><ellipse cx="968.6" cy="549.9" rx="8.2" ry="9.7" fill="#18a020" opacity="0.09"/><ellipse cx="982.2" cy="550.2" rx="8.7" ry="9.7" fill="#18a020" opacity="0.08"/><ellipse cx="992.4" cy="560.8" rx="6.5" ry="8.6" fill="#18a020" opacity="0.05"/><ellipse cx="1049.1" cy="558.7" rx="7.1" ry="9.7" fill="#18a020" opacity="0.09"/><ellipse cx="983.4" cy="568.1" rx="7.6" ry="7.4" fill="#18a020" opacity="0.05"/><ellipse cx="1015.9" cy="564.3" rx="7.6" ry="8.0" fill="#18a020" opacity="0.06"/><ellipse cx="984.6" cy="575.4" rx="7.6" ry="7.4" fill="#18a020" opacity="0.07"/><ellipse cx="1022.7" cy="571.9" rx="4.9" ry="4.6" fill="#18a020" opacity="0.11"/><ellipse cx="957.4" cy="579.9" rx="6.5" ry="8.0" fill="#18a020" opacity="0.05"/><ellipse cx="1056.6" cy="573.8" rx="8.2" ry="6.9" fill="#18a020" opacity="0.11"/></g><g filter="url(#nuc)"><ellipse cx="972.0" cy="501.2" rx="3.8" ry="3.3" transform="rotate(-11 972.0 501.2)" fill="#1919d3"/><ellipse cx="964.5" cy="513.5" rx="3.3" ry="3.8" transform="rotate(8 964.5 513.5)" fill="#1717c5"/><ellipse cx="999.2" cy="510.3" rx="3.8" ry="3.5" transform="rotate(-0 999.2 510.3)" fill="#1717c9"/><ellipse cx="1015.2" cy="509.7" rx="3.3" ry="3.8" transform="rotate(5 1015.2 509.7)" fill="#1919d1"/><ellipse cx="1019.5" cy="503.3" rx="3.8" ry="3.8" transform="rotate(-12 1019.5 503.3)" fill="#1616bf"/><ellipse cx="1026.9" cy="501.7" rx="2.4" ry="3.8" transform="rotate(10 1026.9 501.7)" fill="#1717c9"/><ellipse cx="1033.9" cy="505.5" rx="3.8" ry="2.7" transform="rotate(8 1033.9 505.5)" fill="#1616bf"/><ellipse cx="1045.1" cy="508.1" rx="3.5" ry="3.3" transform="rotate(-2 1045.1 508.1)" fill="#1818d0"/><ellipse cx="1058.9" cy="500.1" rx="3.8" ry="2.2" transform="rotate(-8 1058.9 500.1)" fill="#1919d5"/><ellipse cx="1057.3" cy="506.0" rx="3.3" ry="2.4" transform="rotate(12 1057.3 506.0)" fill="#1616bf"/><ellipse cx="1056.8" cy="516.1" rx="3.0" ry="3.8" transform="rotate(-14 1056.8 516.1)" fill="#1818cc"/><ellipse cx="1066.4" cy="512.9" rx="1.6" ry="3.8" transform="rotate(13 1066.4 512.9)" fill="#1717c8"/><ellipse cx="1031.2" cy="513.5" rx="4.4" ry="2.7" transform="rotate(-9 1031.2 513.5)" fill="#1717c9"/><ellipse cx="972.0" cy="521.5" rx="3.8" ry="3.0" transform="rotate(-14 972.0 521.5)" fill="#1616c4"/><ellipse cx="981.1" cy="525.7" rx="4.4" ry="4.1" transform="rotate(-2 981.1 525.7)" fill="#1818cb"/><ellipse cx="993.3" cy="523.1" rx="3.0" ry="4.1" transform="rotate(-8 993.3 523.1)" fill="#1616c4"/><ellipse cx="1001.9" cy="520.4" rx="3.5" ry="3.5" transform="rotate(-8 1001.9 520.4)" fill="#1717ca"/><ellipse cx="1008.8" cy="527.9" rx="3.3" ry="3.3" transform="rotate(-6 1008.8 527.9)" fill="#1616bf"/><ellipse cx="1032.8" cy="522.0" rx="3.5" ry="3.3" transform="rotate(10 1032.8 522.0)" fill="#1818cc"/><ellipse cx="1043.5" cy="530.0" rx="3.8" ry="3.8" transform="rotate(4 1043.5 530.0)" fill="#1616c3"/><ellipse cx="1063.2" cy="526.8" rx="3.8" ry="2.7" transform="rotate(15 1063.2 526.8)" fill="#1919d3"/><ellipse cx="1060.0" cy="533.2" rx="3.8" ry="2.7" transform="rotate(-11 1060.0 533.2)" fill="#1717c7"/><ellipse cx="1066.4" cy="534.3" rx="1.1" ry="3.3" transform="rotate(7 1066.4 534.3)" fill="#1818d0"/><ellipse cx="956.5" cy="539.1" rx="4.1" ry="4.6" transform="rotate(13 956.5 539.1)" fill="#1717c9"/><ellipse cx="972.0" cy="534.3" rx="4.4" ry="4.1" transform="rotate(10 972.0 534.3)" fill="#1818cf"/><ellipse cx="989.1" cy="535.9" rx="3.8" ry="3.5" transform="rotate(-6 989.1 535.9)" fill="#1818cd"/><ellipse cx="1000.8" cy="531.1" rx="3.3" ry="3.8" transform="rotate(11 1000.8 531.1)" fill="#1919d3"/><ellipse cx="1014.5" cy="533.7" rx="3.8" ry="3.3" transform="rotate(0 1014.5 533.7)" fill="#1818cd"/><ellipse cx="1030.1" cy="538.5" rx="3.3" ry="3.8" transform="rotate(-14 1030.1 538.5)" fill="#1717c4"/><ellipse cx="1036.5" cy="536.4" rx="3.5" ry="3.5" transform="rotate(9 1036.5 536.4)" fill="#1717c9"/><ellipse cx="1050.9" cy="536.9" rx="3.3" ry="4.6" transform="rotate(-10 1050.9 536.9)" fill="#1818cc"/><ellipse cx="998.7" cy="541.7" rx="3.5" ry="3.5" transform="rotate(6 998.7 541.7)" fill="#1818cf"/><ellipse cx="1024.3" cy="542.8" rx="3.3" ry="3.5" transform="rotate(-4 1024.3 542.8)" fill="#1717c9"/><ellipse cx="1041.9" cy="547.1" rx="3.8" ry="3.3" transform="rotate(0 1041.9 547.1)" fill="#1919d1"/><ellipse cx="1065.3" cy="543.9" rx="2.2" ry="3.3" transform="rotate(1 1065.3 543.9)" fill="#1717c8"/><ellipse cx="969.3" cy="549.2" rx="4.1" ry="4.6" transform="rotate(-0 969.3 549.2)" fill="#1616bf"/><ellipse cx="983.7" cy="550.8" rx="4.4" ry="4.6" transform="rotate(-14 983.7 550.8)" fill="#1818cf"/><ellipse cx="1008.8" cy="548.7" rx="3.8" ry="3.5" transform="rotate(14 1008.8 548.7)" fill="#1818cd"/><ellipse cx="1019.5" cy="548.1" rx="3.3" ry="3.5" transform="rotate(-3 1019.5 548.1)" fill="#1616c3"/><ellipse cx="962.4" cy="556.1" rx="4.4" ry="3.3" transform="rotate(0 962.4 556.1)" fill="#1919d6"/><ellipse cx="953.9" cy="560.9" rx="1.6" ry="3.8" transform="rotate(8 953.9 560.9)" fill="#1818cc"/><ellipse cx="992.3" cy="558.8" rx="3.3" ry="4.1" transform="rotate(11 992.3 558.8)" fill="#1616c4"/><ellipse cx="1016.3" cy="556.1" rx="3.0" ry="4.1" transform="rotate(0 1016.3 556.1)" fill="#1919d5"/><ellipse cx="1026.4" cy="559.3" rx="3.8" ry="3.3" transform="rotate(2 1026.4 559.3)" fill="#1717ca"/><ellipse cx="1034.9" cy="554.5" rx="3.8" ry="2.7" transform="rotate(-7 1034.9 554.5)" fill="#1818cc"/><ellipse cx="1040.3" cy="559.9" rx="3.8" ry="3.0" transform="rotate(14 1040.3 559.9)" fill="#1616bf"/><ellipse cx="1049.3" cy="560.4" rx="3.5" ry="4.6" transform="rotate(9 1049.3 560.4)" fill="#1919d2"/><ellipse cx="1061.1" cy="551.3" rx="3.3" ry="3.0" transform="rotate(12 1061.1 551.3)" fill="#1818d0"/><ellipse cx="1061.1" cy="562.5" rx="3.5" ry="3.3" transform="rotate(9 1061.1 562.5)" fill="#1818cb"/><ellipse cx="962.9" cy="565.7" rx="3.5" ry="3.8" transform="rotate(2 962.9 565.7)" fill="#1717c9"/><ellipse cx="981.6" cy="566.3" rx="3.8" ry="3.5" transform="rotate(-13 981.6 566.3)" fill="#1919d3"/><ellipse cx="1004.5" cy="563.1" rx="3.8" ry="3.5" transform="rotate(2 1004.5 563.1)" fill="#1616c3"/><ellipse cx="1017.3" cy="566.3" rx="3.8" ry="3.8" transform="rotate(0 1017.3 566.3)" fill="#1717ca"/><ellipse cx="993.9" cy="571.1" rx="3.0" ry="4.1" transform="rotate(-4 993.9 571.1)" fill="#1717c7"/><ellipse cx="969.9" cy="573.2" rx="3.3" ry="3.8" transform="rotate(1 969.9 573.2)" fill="#1818ce"/><ellipse cx="984.8" cy="575.3" rx="3.8" ry="3.5" transform="rotate(3 984.8 575.3)" fill="#1717ca"/><ellipse cx="1004.5" cy="573.7" rx="3.5" ry="4.1" transform="rotate(-14 1004.5 573.7)" fill="#1616c4"/><ellipse cx="1024.3" cy="572.1" rx="2.4" ry="2.2" transform="rotate(-10 1024.3 572.1)" fill="#2828f4"/><ellipse cx="1017.3" cy="576.9" rx="3.0" ry="1.9" transform="rotate(3 1017.3 576.9)" fill="#2828f4"/><ellipse cx="955.5" cy="579.1" rx="3.3" ry="3.8" transform="rotate(11 955.5 579.1)" fill="#1919d2"/><ellipse cx="962.4" cy="582.8" rx="3.8" ry="1.6" transform="rotate(9 962.4 582.8)" fill="#1919d2"/><ellipse cx="976.8" cy="582.8" rx="2.7" ry="1.4" transform="rotate(-7 976.8 582.8)" fill="#1919d3"/><ellipse cx="1058.4" cy="575.3" rx="4.1" ry="3.3" transform="rotate(5 1058.4 575.3)" fill="#1616c1"/><ellipse cx="1066.4" cy="572.7" rx="1.1" ry="3.3" transform="rotate(-14 1066.4 572.7)" fill="#1616bf"/><ellipse cx="1009.9" cy="583.3" rx="2.7" ry="1.1" transform="rotate(8 1009.9 583.3)" fill="#1717c5"/></g><rect x="1055.4" y="580.7" width="11" height="1.7" fill="#f4f4f4"/></g>
<g clip-path="url(#fc10)"><rect x="569.8" y="590.8" width="115.8" height="86.5" fill="#020208"/><g filter="url(#nuc)"><ellipse cx="612.5" cy="593.1" rx="3.8" ry="2.4" transform="rotate(14 612.5 593.1)" fill="#1717c6"/><ellipse cx="656.2" cy="592.1" rx="3.3" ry="1.6" transform="rotate(-13 656.2 592.1)" fill="#1414b5"/><ellipse cx="676.5" cy="599.5" rx="4.9" ry="4.6" transform="rotate(10 676.5 599.5)" fill="#1616c2"/><ellipse cx="650.9" cy="602.2" rx="3.5" ry="4.4" transform="rotate(5 650.9 602.2)" fill="#1515ba"/><ellipse cx="631.7" cy="607.0" rx="3.3" ry="4.6" transform="rotate(3 631.7 607.0)" fill="#1616c0"/><ellipse cx="614.1" cy="613.4" rx="3.0" ry="5.2" transform="rotate(2 614.1 613.4)" fill="#1414b7"/><ellipse cx="621.0" cy="612.9" rx="3.5" ry="5.2" transform="rotate(-2 621.0 612.9)" fill="#1515bb"/><ellipse cx="645.0" cy="610.7" rx="3.8" ry="4.6" transform="rotate(7 645.0 610.7)" fill="#1717c7"/><ellipse cx="659.4" cy="607.5" rx="3.8" ry="3.5" transform="rotate(13 659.4 607.5)" fill="#1616be"/><ellipse cx="634.3" cy="617.7" rx="4.9" ry="3.5" transform="rotate(-2 634.3 617.7)" fill="#1515b9"/><ellipse cx="670.6" cy="616.6" rx="4.1" ry="3.8" transform="rotate(-14 670.6 616.6)" fill="#1414b4"/><ellipse cx="680.7" cy="621.4" rx="3.3" ry="4.1" transform="rotate(-1 680.7 621.4)" fill="#1515ba"/><ellipse cx="579.4" cy="626.7" rx="4.1" ry="3.5" transform="rotate(-4 579.4 626.7)" fill="#1717c5"/><ellipse cx="598.1" cy="627.8" rx="4.4" ry="3.0" transform="rotate(1 598.1 627.8)" fill="#1616bf"/><ellipse cx="610.3" cy="624.1" rx="4.6" ry="4.6" transform="rotate(-8 610.3 624.1)" fill="#1414b4"/><ellipse cx="654.6" cy="621.4" rx="4.4" ry="4.4" transform="rotate(-5 654.6 621.4)" fill="#1414b6"/><ellipse cx="666.9" cy="628.3" rx="4.1" ry="4.1" transform="rotate(0 666.9 628.3)" fill="#1717c7"/><ellipse cx="574.1" cy="634.7" rx="4.4" ry="4.4" transform="rotate(5 574.1 634.7)" fill="#1414b7"/><ellipse cx="597.0" cy="634.7" rx="3.8" ry="3.3" transform="rotate(12 597.0 634.7)" fill="#1616c3"/><ellipse cx="624.2" cy="631.5" rx="1.6" ry="3.0" transform="rotate(7 624.2 631.5)" fill="#2828e0"/><ellipse cx="631.7" cy="631.0" rx="2.7" ry="1.9" transform="rotate(12 631.7 631.0)" fill="#2828e0"/><ellipse cx="637.5" cy="637.4" rx="3.3" ry="3.5" transform="rotate(8 637.5 637.4)" fill="#1616c3"/><ellipse cx="661.0" cy="633.7" rx="3.5" ry="3.5" transform="rotate(-4 661.0 633.7)" fill="#1717c7"/><ellipse cx="653.0" cy="636.9" rx="4.1" ry="4.1" transform="rotate(14 653.0 636.9)" fill="#1414b7"/><ellipse cx="619.4" cy="640.6" rx="3.5" ry="3.8" transform="rotate(8 619.4 640.6)" fill="#1616c2"/><ellipse cx="603.9" cy="641.7" rx="3.3" ry="3.8" transform="rotate(-1 603.9 641.7)" fill="#1515be"/><ellipse cx="635.4" cy="644.9" rx="4.9" ry="3.0" transform="rotate(-0 635.4 644.9)" fill="#1717c6"/><ellipse cx="655.1" cy="647.5" rx="4.1" ry="4.6" transform="rotate(0 655.1 647.5)" fill="#1616c4"/><ellipse cx="598.1" cy="650.2" rx="5.2" ry="1.9" transform="rotate(-4 598.1 650.2)" fill="#2828e0"/><ellipse cx="666.9" cy="650.2" rx="3.8" ry="4.1" transform="rotate(11 666.9 650.2)" fill="#1717c5"/><ellipse cx="636.5" cy="656.1" rx="4.1" ry="4.4" transform="rotate(-1 636.5 656.1)" fill="#1616bf"/><ellipse cx="645.0" cy="653.4" rx="4.4" ry="4.4" transform="rotate(13 645.0 653.4)" fill="#1616c2"/><ellipse cx="662.6" cy="660.3" rx="3.8" ry="3.5" transform="rotate(-0 662.6 660.3)" fill="#1414b8"/><ellipse cx="629.0" cy="664.6" rx="3.0" ry="3.0" transform="rotate(-5 629.0 664.6)" fill="#1616c1"/><ellipse cx="653.0" cy="665.1" rx="3.3" ry="4.4" transform="rotate(-10 653.0 665.1)" fill="#1717c5"/><ellipse cx="681.3" cy="665.7" rx="3.0" ry="4.4" transform="rotate(-7 681.3 665.7)" fill="#1717c5"/><ellipse cx="665.3" cy="672.6" rx="4.1" ry="3.3" transform="rotate(-6 665.3 672.6)" fill="#1717c6"/><ellipse cx="617.8" cy="674.2" rx="2.7" ry="2.2" transform="rotate(6 617.8 674.2)" fill="#1515be"/></g><rect x="672.4" y="673.7" width="11" height="1.7" fill="#f4f4f4"/></g>
<g clip-path="url(#fc11)"><rect x="698.0" y="590.8" width="115.8" height="86.5" fill="#020208"/><g filter="url(#hz)"><ellipse cx="786.1" cy="591.9" rx="6.5" ry="3.4" fill="#b01030" opacity="0.22"/><ellipse cx="778.2" cy="603.0" rx="7.1" ry="9.1" fill="#b01030" opacity="0.13"/><ellipse cx="758.1" cy="605.8" rx="6.5" ry="9.7" fill="#b01030" opacity="0.22"/><ellipse cx="741.7" cy="613.3" rx="6.0" ry="10.9" fill="#b01030" opacity="0.19"/><ellipse cx="748.8" cy="611.7" rx="7.1" ry="10.9" fill="#b01030" opacity="0.18"/><ellipse cx="788.9" cy="608.3" rx="7.6" ry="7.4" fill="#b01030" opacity="0.11"/><ellipse cx="795.2" cy="627.7" rx="8.2" ry="8.6" fill="#b01030" opacity="0.16"/><ellipse cx="700.3" cy="635.0" rx="8.7" ry="9.1" fill="#b01030" opacity="0.18"/><ellipse cx="723.9" cy="633.0" rx="7.6" ry="6.9" fill="#b01030" opacity="0.10"/><ellipse cx="753.3" cy="631.0" rx="3.3" ry="6.3" fill="#b01030" opacity="0.18"/><ellipse cx="748.4" cy="641.3" rx="7.1" ry="8.0" fill="#b01030" opacity="0.20"/><ellipse cx="730.3" cy="641.1" rx="6.5" ry="8.0" fill="#b01030" opacity="0.11"/><ellipse cx="796.2" cy="651.5" rx="7.6" ry="8.6" fill="#b01030" opacity="0.18"/><ellipse cx="774.4" cy="654.4" rx="8.7" ry="9.1" fill="#b01030" opacity="0.12"/><ellipse cx="811.0" cy="665.0" rx="6.0" ry="9.1" fill="#b01030" opacity="0.21"/><ellipse cx="794.2" cy="672.0" rx="8.2" ry="6.9" fill="#b01030" opacity="0.17"/><ellipse cx="747.3" cy="672.6" rx="5.4" ry="4.6" fill="#b01030" opacity="0.13"/></g><ellipse cx="756.7" cy="633.7" rx="7.4" ry="7.9" fill="#d02040" opacity="0.60" filter="url(#hot)"/><g filter="url(#nuc)"><ellipse cx="740.7" cy="593.1" rx="3.8" ry="2.4" transform="rotate(14 740.7 593.1)" fill="#1717c6"/><ellipse cx="784.4" cy="592.1" rx="3.3" ry="1.6" transform="rotate(-13 784.4 592.1)" fill="#1414b5"/><ellipse cx="804.7" cy="599.5" rx="4.9" ry="4.6" transform="rotate(10 804.7 599.5)" fill="#1616c2"/><ellipse cx="779.1" cy="602.2" rx="3.5" ry="4.4" transform="rotate(5 779.1 602.2)" fill="#1515ba"/><ellipse cx="759.9" cy="607.0" rx="3.3" ry="4.6" transform="rotate(3 759.9 607.0)" fill="#1616c0"/><ellipse cx="742.3" cy="613.4" rx="3.0" ry="5.2" transform="rotate(2 742.3 613.4)" fill="#1414b7"/><ellipse cx="749.2" cy="612.9" rx="3.5" ry="5.2" transform="rotate(-2 749.2 612.9)" fill="#1515bb"/><ellipse cx="773.2" cy="610.7" rx="3.8" ry="4.6" transform="rotate(7 773.2 610.7)" fill="#1717c7"/><ellipse cx="787.6" cy="607.5" rx="3.8" ry="3.5" transform="rotate(13 787.6 607.5)" fill="#1616be"/><ellipse cx="762.5" cy="617.7" rx="4.9" ry="3.5" transform="rotate(-2 762.5 617.7)" fill="#1515b9"/><ellipse cx="798.8" cy="616.6" rx="4.1" ry="3.8" transform="rotate(-14 798.8 616.6)" fill="#1414b4"/><ellipse cx="808.9" cy="621.4" rx="3.3" ry="4.1" transform="rotate(-1 808.9 621.4)" fill="#1515ba"/><ellipse cx="707.6" cy="626.7" rx="4.1" ry="3.5" transform="rotate(-4 707.6 626.7)" fill="#1717c5"/><ellipse cx="726.3" cy="627.8" rx="4.4" ry="3.0" transform="rotate(1 726.3 627.8)" fill="#1616bf"/><ellipse cx="738.5" cy="624.1" rx="4.6" ry="4.6" transform="rotate(-8 738.5 624.1)" fill="#1414b4"/><ellipse cx="782.8" cy="621.4" rx="4.4" ry="4.4" transform="rotate(-5 782.8 621.4)" fill="#1414b6"/><ellipse cx="795.1" cy="628.3" rx="4.1" ry="4.1" transform="rotate(0 795.1 628.3)" fill="#1717c7"/><ellipse cx="702.3" cy="634.7" rx="4.4" ry="4.4" transform="rotate(5 702.3 634.7)" fill="#1414b7"/><ellipse cx="725.2" cy="634.7" rx="3.8" ry="3.3" transform="rotate(12 725.2 634.7)" fill="#1616c3"/><ellipse cx="752.4" cy="631.5" rx="1.6" ry="3.0" transform="rotate(7 752.4 631.5)" fill="#2828e0"/><ellipse cx="759.9" cy="631.0" rx="2.7" ry="1.9" transform="rotate(12 759.9 631.0)" fill="#2828e0"/><ellipse cx="765.7" cy="637.4" rx="3.3" ry="3.5" transform="rotate(8 765.7 637.4)" fill="#1616c3"/><ellipse cx="789.2" cy="633.7" rx="3.5" ry="3.5" transform="rotate(-4 789.2 633.7)" fill="#1717c7"/><ellipse cx="781.2" cy="636.9" rx="4.1" ry="4.1" transform="rotate(14 781.2 636.9)" fill="#1414b7"/><ellipse cx="747.6" cy="640.6" rx="3.5" ry="3.8" transform="rotate(8 747.6 640.6)" fill="#1616c2"/><ellipse cx="732.1" cy="641.7" rx="3.3" ry="3.8" transform="rotate(-1 732.1 641.7)" fill="#1515be"/><ellipse cx="763.6" cy="644.9" rx="4.9" ry="3.0" transform="rotate(-0 763.6 644.9)" fill="#1717c6"/><ellipse cx="783.3" cy="647.5" rx="4.1" ry="4.6" transform="rotate(0 783.3 647.5)" fill="#1616c4"/><ellipse cx="726.3" cy="650.2" rx="5.2" ry="1.9" transform="rotate(-4 726.3 650.2)" fill="#2828e0"/><ellipse cx="795.1" cy="650.2" rx="3.8" ry="4.1" transform="rotate(11 795.1 650.2)" fill="#1717c5"/><ellipse cx="764.7" cy="656.1" rx="4.1" ry="4.4" transform="rotate(-1 764.7 656.1)" fill="#1616bf"/><ellipse cx="773.2" cy="653.4" rx="4.4" ry="4.4" transform="rotate(13 773.2 653.4)" fill="#1616c2"/><ellipse cx="790.8" cy="660.3" rx="3.8" ry="3.5" transform="rotate(-0 790.8 660.3)" fill="#1414b8"/><ellipse cx="757.2" cy="664.6" rx="3.0" ry="3.0" transform="rotate(-5 757.2 664.6)" fill="#1616c1"/><ellipse cx="781.2" cy="665.1" rx="3.3" ry="4.4" transform="rotate(-10 781.2 665.1)" fill="#1717c5"/><ellipse cx="809.5" cy="665.7" rx="3.0" ry="4.4" transform="rotate(-7 809.5 665.7)" fill="#1717c5"/><ellipse cx="793.5" cy="672.6" rx="4.1" ry="3.3" transform="rotate(-6 793.5 672.6)" fill="#1717c6"/><ellipse cx="746.0" cy="674.2" rx="2.7" ry="2.2" transform="rotate(6 746.0 674.2)" fill="#1515be"/></g><rect x="800.6" y="673.7" width="11" height="1.7" fill="#f4f4f4"/></g>
<g clip-path="url(#fc12)"><rect x="826.0" y="590.8" width="115.8" height="86.5" fill="#020208"/><g filter="url(#hz)"><ellipse cx="866.7" cy="592.3" rx="7.6" ry="5.1" fill="#18a020" opacity="0.09"/><ellipse cx="892.0" cy="638.0" rx="6.5" ry="7.4" fill="#18a020" opacity="0.11"/><ellipse cx="854.4" cy="651.8" rx="10.3" ry="4.0" fill="#18a020" opacity="0.11"/><ellipse cx="938.8" cy="667.5" rx="6.0" ry="9.1" fill="#18a020" opacity="0.09"/></g><ellipse cx="884.7" cy="633.7" rx="7.4" ry="7.9" fill="#30d030" opacity="0.65" filter="url(#hot)"/><g filter="url(#nuc)"><ellipse cx="868.7" cy="593.1" rx="3.8" ry="2.4" transform="rotate(14 868.7 593.1)" fill="#1717c6"/><ellipse cx="912.4" cy="592.1" rx="3.3" ry="1.6" transform="rotate(-13 912.4 592.1)" fill="#1414b5"/><ellipse cx="932.7" cy="599.5" rx="4.9" ry="4.6" transform="rotate(10 932.7 599.5)" fill="#1616c2"/><ellipse cx="907.1" cy="602.2" rx="3.5" ry="4.4" transform="rotate(5 907.1 602.2)" fill="#1515ba"/><ellipse cx="887.9" cy="607.0" rx="3.3" ry="4.6" transform="rotate(3 887.9 607.0)" fill="#1616c0"/><ellipse cx="870.3" cy="613.4" rx="3.0" ry="5.2" transform="rotate(2 870.3 613.4)" fill="#1414b7"/><ellipse cx="877.2" cy="612.9" rx="3.5" ry="5.2" transform="rotate(-2 877.2 612.9)" fill="#1515bb"/><ellipse cx="901.2" cy="610.7" rx="3.8" ry="4.6" transform="rotate(7 901.2 610.7)" fill="#1717c7"/><ellipse cx="915.6" cy="607.5" rx="3.8" ry="3.5" transform="rotate(13 915.6 607.5)" fill="#1616be"/><ellipse cx="890.5" cy="617.7" rx="4.9" ry="3.5" transform="rotate(-2 890.5 617.7)" fill="#1515b9"/><ellipse cx="926.8" cy="616.6" rx="4.1" ry="3.8" transform="rotate(-14 926.8 616.6)" fill="#1414b4"/><ellipse cx="936.9" cy="621.4" rx="3.3" ry="4.1" transform="rotate(-1 936.9 621.4)" fill="#1515ba"/><ellipse cx="835.6" cy="626.7" rx="4.1" ry="3.5" transform="rotate(-4 835.6 626.7)" fill="#1717c5"/><ellipse cx="854.3" cy="627.8" rx="4.4" ry="3.0" transform="rotate(1 854.3 627.8)" fill="#1616bf"/><ellipse cx="866.5" cy="624.1" rx="4.6" ry="4.6" transform="rotate(-8 866.5 624.1)" fill="#1414b4"/><ellipse cx="910.8" cy="621.4" rx="4.4" ry="4.4" transform="rotate(-5 910.8 621.4)" fill="#1414b6"/><ellipse cx="923.1" cy="628.3" rx="4.1" ry="4.1" transform="rotate(0 923.1 628.3)" fill="#1717c7"/><ellipse cx="830.3" cy="634.7" rx="4.4" ry="4.4" transform="rotate(5 830.3 634.7)" fill="#1414b7"/><ellipse cx="853.2" cy="634.7" rx="3.8" ry="3.3" transform="rotate(12 853.2 634.7)" fill="#1616c3"/><ellipse cx="880.4" cy="631.5" rx="1.6" ry="3.0" transform="rotate(7 880.4 631.5)" fill="#2828e0"/><ellipse cx="887.9" cy="631.0" rx="2.7" ry="1.9" transform="rotate(12 887.9 631.0)" fill="#2828e0"/><ellipse cx="893.7" cy="637.4" rx="3.3" ry="3.5" transform="rotate(8 893.7 637.4)" fill="#1616c3"/><ellipse cx="917.2" cy="633.7" rx="3.5" ry="3.5" transform="rotate(-4 917.2 633.7)" fill="#1717c7"/><ellipse cx="909.2" cy="636.9" rx="4.1" ry="4.1" transform="rotate(14 909.2 636.9)" fill="#1414b7"/><ellipse cx="875.6" cy="640.6" rx="3.5" ry="3.8" transform="rotate(8 875.6 640.6)" fill="#1616c2"/><ellipse cx="860.1" cy="641.7" rx="3.3" ry="3.8" transform="rotate(-1 860.1 641.7)" fill="#1515be"/><ellipse cx="891.6" cy="644.9" rx="4.9" ry="3.0" transform="rotate(-0 891.6 644.9)" fill="#1717c6"/><ellipse cx="911.3" cy="647.5" rx="4.1" ry="4.6" transform="rotate(0 911.3 647.5)" fill="#1616c4"/><ellipse cx="854.3" cy="650.2" rx="5.2" ry="1.9" transform="rotate(-4 854.3 650.2)" fill="#2828e0"/><ellipse cx="923.1" cy="650.2" rx="3.8" ry="4.1" transform="rotate(11 923.1 650.2)" fill="#1717c5"/><ellipse cx="892.7" cy="656.1" rx="4.1" ry="4.4" transform="rotate(-1 892.7 656.1)" fill="#1616bf"/><ellipse cx="901.2" cy="653.4" rx="4.4" ry="4.4" transform="rotate(13 901.2 653.4)" fill="#1616c2"/><ellipse cx="918.8" cy="660.3" rx="3.8" ry="3.5" transform="rotate(-0 918.8 660.3)" fill="#1414b8"/><ellipse cx="885.2" cy="664.6" rx="3.0" ry="3.0" transform="rotate(-5 885.2 664.6)" fill="#1616c1"/><ellipse cx="909.2" cy="665.1" rx="3.3" ry="4.4" transform="rotate(-10 909.2 665.1)" fill="#1717c5"/><ellipse cx="937.5" cy="665.7" rx="3.0" ry="4.4" transform="rotate(-7 937.5 665.7)" fill="#1717c5"/><ellipse cx="921.5" cy="672.6" rx="4.1" ry="3.3" transform="rotate(-6 921.5 672.6)" fill="#1717c6"/><ellipse cx="874.0" cy="674.2" rx="2.7" ry="2.2" transform="rotate(6 874.0 674.2)" fill="#1515be"/></g><rect x="928.6" y="673.7" width="11" height="1.7" fill="#f4f4f4"/></g>
<g clip-path="url(#fc13)"><rect x="952.8" y="590.8" width="115.8" height="86.5" fill="#020208"/><g filter="url(#hz)"><ellipse cx="1040.9" cy="591.9" rx="6.5" ry="3.4" fill="#b01030" opacity="0.22"/><ellipse cx="1033.0" cy="603.0" rx="7.1" ry="9.1" fill="#b01030" opacity="0.13"/><ellipse cx="1012.9" cy="605.8" rx="6.5" ry="9.7" fill="#b01030" opacity="0.22"/><ellipse cx="996.5" cy="613.3" rx="6.0" ry="10.9" fill="#b01030" opacity="0.19"/><ellipse cx="1003.6" cy="611.7" rx="7.1" ry="10.9" fill="#b01030" opacity="0.18"/><ellipse cx="1043.7" cy="608.3" rx="7.6" ry="7.4" fill="#b01030" opacity="0.11"/><ellipse cx="1050.0" cy="627.7" rx="8.2" ry="8.6" fill="#b01030" opacity="0.16"/><ellipse cx="955.1" cy="635.0" rx="8.7" ry="9.1" fill="#b01030" opacity="0.18"/><ellipse cx="978.7" cy="633.0" rx="7.6" ry="6.9" fill="#b01030" opacity="0.10"/><ellipse cx="1008.1" cy="631.0" rx="3.3" ry="6.3" fill="#b01030" opacity="0.18"/><ellipse cx="1003.2" cy="641.3" rx="7.1" ry="8.0" fill="#b01030" opacity="0.20"/><ellipse cx="985.1" cy="641.1" rx="6.5" ry="8.0" fill="#b01030" opacity="0.11"/><ellipse cx="1051.0" cy="651.5" rx="7.6" ry="8.6" fill="#b01030" opacity="0.18"/><ellipse cx="1029.2" cy="654.4" rx="8.7" ry="9.1" fill="#b01030" opacity="0.12"/><ellipse cx="1065.8" cy="665.0" rx="6.0" ry="9.1" fill="#b01030" opacity="0.21"/><ellipse cx="1049.0" cy="672.0" rx="8.2" ry="6.9" fill="#b01030" opacity="0.17"/><ellipse cx="1002.1" cy="672.6" rx="5.4" ry="4.6" fill="#b01030" opacity="0.13"/></g><g filter="url(#hz)"><ellipse cx="993.5" cy="592.3" rx="7.6" ry="5.1" fill="#18a020" opacity="0.09"/><ellipse cx="1018.8" cy="638.0" rx="6.5" ry="7.4" fill="#18a020" opacity="0.11"/><ellipse cx="981.2" cy="651.8" rx="10.3" ry="4.0" fill="#18a020" opacity="0.11"/><ellipse cx="1065.6" cy="667.5" rx="6.0" ry="9.1" fill="#18a020" opacity="0.09"/></g><ellipse cx="1011.5" cy="633.7" rx="7.4" ry="7.9" fill="#e0c020" opacity="0.65" filter="url(#hot)"/><g filter="url(#nuc)"><ellipse cx="995.5" cy="593.1" rx="3.8" ry="2.4" transform="rotate(14 995.5 593.1)" fill="#1717c6"/><ellipse cx="1039.2" cy="592.1" rx="3.3" ry="1.6" transform="rotate(-13 1039.2 592.1)" fill="#1414b5"/><ellipse cx="1059.5" cy="599.5" rx="4.9" ry="4.6" transform="rotate(10 1059.5 599.5)" fill="#1616c2"/><ellipse cx="1033.9" cy="602.2" rx="3.5" ry="4.4" transform="rotate(5 1033.9 602.2)" fill="#1515ba"/><ellipse cx="1014.7" cy="607.0" rx="3.3" ry="4.6" transform="rotate(3 1014.7 607.0)" fill="#1616c0"/><ellipse cx="997.1" cy="613.4" rx="3.0" ry="5.2" transform="rotate(2 997.1 613.4)" fill="#1414b7"/><ellipse cx="1004.0" cy="612.9" rx="3.5" ry="5.2" transform="rotate(-2 1004.0 612.9)" fill="#1515bb"/><ellipse cx="1028.0" cy="610.7" rx="3.8" ry="4.6" transform="rotate(7 1028.0 610.7)" fill="#1717c7"/><ellipse cx="1042.4" cy="607.5" rx="3.8" ry="3.5" transform="rotate(13 1042.4 607.5)" fill="#1616be"/><ellipse cx="1017.3" cy="617.7" rx="4.9" ry="3.5" transform="rotate(-2 1017.3 617.7)" fill="#1515b9"/><ellipse cx="1053.6" cy="616.6" rx="4.1" ry="3.8" transform="rotate(-14 1053.6 616.6)" fill="#1414b4"/><ellipse cx="1063.7" cy="621.4" rx="3.3" ry="4.1" transform="rotate(-1 1063.7 621.4)" fill="#1515ba"/><ellipse cx="962.4" cy="626.7" rx="4.1" ry="3.5" transform="rotate(-4 962.4 626.7)" fill="#1717c5"/><ellipse cx="981.1" cy="627.8" rx="4.4" ry="3.0" transform="rotate(1 981.1 627.8)" fill="#1616bf"/><ellipse cx="993.3" cy="624.1" rx="4.6" ry="4.6" transform="rotate(-8 993.3 624.1)" fill="#1414b4"/><ellipse cx="1037.6" cy="621.4" rx="4.4" ry="4.4" transform="rotate(-5 1037.6 621.4)" fill="#1414b6"/><ellipse cx="1049.9" cy="628.3" rx="4.1" ry="4.1" transform="rotate(0 1049.9 628.3)" fill="#1717c7"/><ellipse cx="957.1" cy="634.7" rx="4.4" ry="4.4" transform="rotate(5 957.1 634.7)" fill="#1414b7"/><ellipse cx="980.0" cy="634.7" rx="3.8" ry="3.3" transform="rotate(12 980.0 634.7)" fill="#1616c3"/><ellipse cx="1007.2" cy="631.5" rx="1.6" ry="3.0" transform="rotate(7 1007.2 631.5)" fill="#2828e0"/><ellipse cx="1014.7" cy="631.0" rx="2.7" ry="1.9" transform="rotate(12 1014.7 631.0)" fill="#2828e0"/><ellipse cx="1020.5" cy="637.4" rx="3.3" ry="3.5" transform="rotate(8 1020.5 637.4)" fill="#1616c3"/><ellipse cx="1044.0" cy="633.7" rx="3.5" ry="3.5" transform="rotate(-4 1044.0 633.7)" fill="#1717c7"/><ellipse cx="1036.0" cy="636.9" rx="4.1" ry="4.1" transform="rotate(14 1036.0 636.9)" fill="#1414b7"/><ellipse cx="1002.4" cy="640.6" rx="3.5" ry="3.8" transform="rotate(8 1002.4 640.6)" fill="#1616c2"/><ellipse cx="986.9" cy="641.7" rx="3.3" ry="3.8" transform="rotate(-1 986.9 641.7)" fill="#1515be"/><ellipse cx="1018.4" cy="644.9" rx="4.9" ry="3.0" transform="rotate(-0 1018.4 644.9)" fill="#1717c6"/><ellipse cx="1038.1" cy="647.5" rx="4.1" ry="4.6" transform="rotate(0 1038.1 647.5)" fill="#1616c4"/><ellipse cx="981.1" cy="650.2" rx="5.2" ry="1.9" transform="rotate(-4 981.1 650.2)" fill="#2828e0"/><ellipse cx="1049.9" cy="650.2" rx="3.8" ry="4.1" transform="rotate(11 1049.9 650.2)" fill="#1717c5"/><ellipse cx="1019.5" cy="656.1" rx="4.1" ry="4.4" transform="rotate(-1 1019.5 656.1)" fill="#1616bf"/><ellipse cx="1028.0" cy="653.4" rx="4.4" ry="4.4" transform="rotate(13 1028.0 653.4)" fill="#1616c2"/><ellipse cx="1045.6" cy="660.3" rx="3.8" ry="3.5" transform="rotate(-0 1045.6 660.3)" fill="#1414b8"/><ellipse cx="1012.0" cy="664.6" rx="3.0" ry="3.0" transform="rotate(-5 1012.0 664.6)" fill="#1616c1"/><ellipse cx="1036.0" cy="665.1" rx="3.3" ry="4.4" transform="rotate(-10 1036.0 665.1)" fill="#1717c5"/><ellipse cx="1064.3" cy="665.7" rx="3.0" ry="4.4" transform="rotate(-7 1064.3 665.7)" fill="#1717c5"/><ellipse cx="1048.3" cy="672.6" rx="4.1" ry="3.3" transform="rotate(-6 1048.3 672.6)" fill="#1717c6"/><ellipse cx="1000.8" cy="674.2" rx="2.7" ry="2.2" transform="rotate(6 1000.8 674.2)" fill="#1515be"/></g><rect x="1055.4" y="673.7" width="11" height="1.7" fill="#f4f4f4"/></g>
<g clip-path="url(#fc20)"><rect x="569.8" y="683.5" width="115.8" height="86.5" fill="#020208"/><g filter="url(#nuc)"><ellipse cx="612.5" cy="685.8" rx="3.8" ry="2.4" transform="rotate(14 612.5 685.8)" fill="#1717c6"/><ellipse cx="656.2" cy="684.8" rx="3.3" ry="1.6" transform="rotate(-13 656.2 684.8)" fill="#1414b5"/><ellipse cx="676.5" cy="692.2" rx="4.9" ry="4.6" transform="rotate(10 676.5 692.2)" fill="#1616c2"/><ellipse cx="650.9" cy="694.9" rx="3.5" ry="4.4" transform="rotate(5 650.9 694.9)" fill="#1515ba"/><ellipse cx="631.7" cy="699.7" rx="3.3" ry="4.6" transform="rotate(3 631.7 699.7)" fill="#1616c0"/><ellipse cx="614.1" cy="706.1" rx="3.0" ry="5.2" transform="rotate(2 614.1 706.1)" fill="#1414b7"/><ellipse cx="621.0" cy="705.6" rx="3.5" ry="5.2" transform="rotate(-2 621.0 705.6)" fill="#1515bb"/><ellipse cx="645.0" cy="703.4" rx="3.8" ry="4.6" transform="rotate(7 645.0 703.4)" fill="#1717c7"/><ellipse cx="659.4" cy="700.2" rx="3.8" ry="3.5" transform="rotate(13 659.4 700.2)" fill="#1616be"/><ellipse cx="634.3" cy="710.4" rx="4.9" ry="3.5" transform="rotate(-2 634.3 710.4)" fill="#1515b9"/><ellipse cx="670.6" cy="709.3" rx="4.1" ry="3.8" transform="rotate(-14 670.6 709.3)" fill="#1414b4"/><ellipse cx="680.7" cy="714.1" rx="3.3" ry="4.1" transform="rotate(-1 680.7 714.1)" fill="#1515ba"/><ellipse cx="579.4" cy="719.4" rx="4.1" ry="3.5" transform="rotate(-4 579.4 719.4)" fill="#1717c5"/><ellipse cx="598.1" cy="720.5" rx="4.4" ry="3.0" transform="rotate(1 598.1 720.5)" fill="#1616bf"/><ellipse cx="610.3" cy="716.8" rx="4.6" ry="4.6" transform="rotate(-8 610.3 716.8)" fill="#1414b4"/><ellipse cx="654.6" cy="714.1" rx="4.4" ry="4.4" transform="rotate(-5 654.6 714.1)" fill="#1414b6"/><ellipse cx="666.9" cy="721.0" rx="4.1" ry="4.1" transform="rotate(0 666.9 721.0)" fill="#1717c7"/><ellipse cx="574.1" cy="727.4" rx="4.4" ry="4.4" transform="rotate(5 574.1 727.4)" fill="#1414b7"/><ellipse cx="597.0" cy="727.4" rx="3.8" ry="3.3" transform="rotate(12 597.0 727.4)" fill="#1616c3"/><ellipse cx="624.2" cy="724.2" rx="1.6" ry="3.0" transform="rotate(7 624.2 724.2)" fill="#2828e0"/><ellipse cx="631.7" cy="723.7" rx="2.7" ry="1.9" transform="rotate(12 631.7 723.7)" fill="#2828e0"/><ellipse cx="637.5" cy="730.1" rx="3.3" ry="3.5" transform="rotate(8 637.5 730.1)" fill="#1616c3"/><ellipse cx="661.0" cy="726.4" rx="3.5" ry="3.5" transform="rotate(-4 661.0 726.4)" fill="#1717c7"/><ellipse cx="653.0" cy="729.6" rx="4.1" ry="4.1" transform="rotate(14 653.0 729.6)" fill="#1414b7"/><ellipse cx="619.4" cy="733.3" rx="3.5" ry="3.8" transform="rotate(8 619.4 733.3)" fill="#1616c2"/><ellipse cx="603.9" cy="734.4" rx="3.3" ry="3.8" transform="rotate(-1 603.9 734.4)" fill="#1515be"/><ellipse cx="635.4" cy="737.6" rx="4.9" ry="3.0" transform="rotate(-0 635.4 737.6)" fill="#1717c6"/><ellipse cx="655.1" cy="740.2" rx="4.1" ry="4.6" transform="rotate(0 655.1 740.2)" fill="#1616c4"/><ellipse cx="598.1" cy="742.9" rx="5.2" ry="1.9" transform="rotate(-4 598.1 742.9)" fill="#2828e0"/><ellipse cx="666.9" cy="742.9" rx="3.8" ry="4.1" transform="rotate(11 666.9 742.9)" fill="#1717c5"/><ellipse cx="636.5" cy="748.8" rx="4.1" ry="4.4" transform="rotate(-1 636.5 748.8)" fill="#1616bf"/><ellipse cx="645.0" cy="746.1" rx="4.4" ry="4.4" transform="rotate(13 645.0 746.1)" fill="#1616c2"/><ellipse cx="662.6" cy="753.0" rx="3.8" ry="3.5" transform="rotate(-0 662.6 753.0)" fill="#1414b8"/><ellipse cx="629.0" cy="757.3" rx="3.0" ry="3.0" transform="rotate(-5 629.0 757.3)" fill="#1616c1"/><ellipse cx="653.0" cy="757.8" rx="3.3" ry="4.4" transform="rotate(-10 653.0 757.8)" fill="#1717c5"/><ellipse cx="681.3" cy="758.4" rx="3.0" ry="4.4" transform="rotate(-7 681.3 758.4)" fill="#1717c5"/><ellipse cx="665.3" cy="765.3" rx="4.1" ry="3.3" transform="rotate(-6 665.3 765.3)" fill="#1717c6"/><ellipse cx="617.8" cy="766.9" rx="2.7" ry="2.2" transform="rotate(6 617.8 766.9)" fill="#1515be"/></g><rect x="672.4" y="766.4" width="11" height="1.7" fill="#f4f4f4"/></g>
<g clip-path="url(#fc21)"><rect x="698.0" y="683.5" width="115.8" height="86.5" fill="#020208"/><g filter="url(#hz)"><ellipse cx="739.3" cy="686.7" rx="7.6" ry="5.1" fill="#b01030" opacity="0.20"/><ellipse cx="804.9" cy="690.4" rx="9.8" ry="9.7" fill="#b01030" opacity="0.20"/><ellipse cx="786.1" cy="701.5" rx="7.6" ry="7.4" fill="#b01030" opacity="0.15"/><ellipse cx="724.8" cy="721.0" rx="8.7" ry="6.3" fill="#b01030" opacity="0.19"/><ellipse cx="794.4" cy="721.8" rx="8.2" ry="8.6" fill="#b01030" opacity="0.13"/><ellipse cx="758.5" cy="722.5" rx="5.4" ry="4.0" fill="#b01030" opacity="0.24"/><ellipse cx="793.9" cy="767.0" rx="8.2" ry="6.9" fill="#b01030" opacity="0.22"/></g><ellipse cx="756.7" cy="726.4" rx="9.5" ry="10.1" fill="#d02040" opacity="0.60" filter="url(#hot)"/><ellipse cx="725.7" cy="743.5" rx="7.0" ry="7.5" fill="#d02040" opacity="0.60" filter="url(#hot)"/><g filter="url(#nuc)"><ellipse cx="740.7" cy="685.8" rx="3.8" ry="2.4" transform="rotate(14 740.7 685.8)" fill="#1717c6"/><ellipse cx="784.4" cy="684.8" rx="3.3" ry="1.6" transform="rotate(-13 784.4 684.8)" fill="#1414b5"/><ellipse cx="804.7" cy="692.2" rx="4.9" ry="4.6" transform="rotate(10 804.7 692.2)" fill="#1616c2"/><ellipse cx="779.1" cy="694.9" rx="3.5" ry="4.4" transform="rotate(5 779.1 694.9)" fill="#1515ba"/><ellipse cx="759.9" cy="699.7" rx="3.3" ry="4.6" transform="rotate(3 759.9 699.7)" fill="#1616c0"/><ellipse cx="742.3" cy="706.1" rx="3.0" ry="5.2" transform="rotate(2 742.3 706.1)" fill="#1414b7"/><ellipse cx="749.2" cy="705.6" rx="3.5" ry="5.2" transform="rotate(-2 749.2 705.6)" fill="#1515bb"/><ellipse cx="773.2" cy="703.4" rx="3.8" ry="4.6" transform="rotate(7 773.2 703.4)" fill="#1717c7"/><ellipse cx="787.6" cy="700.2" rx="3.8" ry="3.5" transform="rotate(13 787.6 700.2)" fill="#1616be"/><ellipse cx="762.5" cy="710.4" rx="4.9" ry="3.5" transform="rotate(-2 762.5 710.4)" fill="#1515b9"/><ellipse cx="798.8" cy="709.3" rx="4.1" ry="3.8" transform="rotate(-14 798.8 709.3)" fill="#1414b4"/><ellipse cx="808.9" cy="714.1" rx="3.3" ry="4.1" transform="rotate(-1 808.9 714.1)" fill="#1515ba"/><ellipse cx="707.6" cy="719.4" rx="4.1" ry="3.5" transform="rotate(-4 707.6 719.4)" fill="#1717c5"/><ellipse cx="726.3" cy="720.5" rx="4.4" ry="3.0" transform="rotate(1 726.3 720.5)" fill="#1616bf"/><ellipse cx="738.5" cy="716.8" rx="4.6" ry="4.6" transform="rotate(-8 738.5 716.8)" fill="#1414b4"/><ellipse cx="782.8" cy="714.1" rx="4.4" ry="4.4" transform="rotate(-5 782.8 714.1)" fill="#1414b6"/><ellipse cx="795.1" cy="721.0" rx="4.1" ry="4.1" transform="rotate(0 795.1 721.0)" fill="#1717c7"/><ellipse cx="702.3" cy="727.4" rx="4.4" ry="4.4" transform="rotate(5 702.3 727.4)" fill="#1414b7"/><ellipse cx="725.2" cy="727.4" rx="3.8" ry="3.3" transform="rotate(12 725.2 727.4)" fill="#1616c3"/><ellipse cx="752.4" cy="724.2" rx="1.6" ry="3.0" transform="rotate(7 752.4 724.2)" fill="#2828e0"/><ellipse cx="759.9" cy="723.7" rx="2.7" ry="1.9" transform="rotate(12 759.9 723.7)" fill="#2828e0"/><ellipse cx="765.7" cy="730.1" rx="3.3" ry="3.5" transform="rotate(8 765.7 730.1)" fill="#1616c3"/><ellipse cx="789.2" cy="726.4" rx="3.5" ry="3.5" transform="rotate(-4 789.2 726.4)" fill="#1717c7"/><ellipse cx="781.2" cy="729.6" rx="4.1" ry="4.1" transform="rotate(14 781.2 729.6)" fill="#1414b7"/><ellipse cx="747.6" cy="733.3" rx="3.5" ry="3.8" transform="rotate(8 747.6 733.3)" fill="#1616c2"/><ellipse cx="732.1" cy="734.4" rx="3.3" ry="3.8" transform="rotate(-1 732.1 734.4)" fill="#1515be"/><ellipse cx="763.6" cy="737.6" rx="4.9" ry="3.0" transform="rotate(-0 763.6 737.6)" fill="#1717c6"/><ellipse cx="783.3" cy="740.2" rx="4.1" ry="4.6" transform="rotate(0 783.3 740.2)" fill="#1616c4"/><ellipse cx="726.3" cy="742.9" rx="5.2" ry="1.9" transform="rotate(-4 726.3 742.9)" fill="#2828e0"/><ellipse cx="795.1" cy="742.9" rx="3.8" ry="4.1" transform="rotate(11 795.1 742.9)" fill="#1717c5"/><ellipse cx="764.7" cy="748.8" rx="4.1" ry="4.4" transform="rotate(-1 764.7 748.8)" fill="#1616bf"/><ellipse cx="773.2" cy="746.1" rx="4.4" ry="4.4" transform="rotate(13 773.2 746.1)" fill="#1616c2"/><ellipse cx="790.8" cy="753.0" rx="3.8" ry="3.5" transform="rotate(-0 790.8 753.0)" fill="#1414b8"/><ellipse cx="757.2" cy="757.3" rx="3.0" ry="3.0" transform="rotate(-5 757.2 757.3)" fill="#1616c1"/><ellipse cx="781.2" cy="757.8" rx="3.3" ry="4.4" transform="rotate(-10 781.2 757.8)" fill="#1717c5"/><ellipse cx="809.5" cy="758.4" rx="3.0" ry="4.4" transform="rotate(-7 809.5 758.4)" fill="#1717c5"/><ellipse cx="793.5" cy="765.3" rx="4.1" ry="3.3" transform="rotate(-6 793.5 765.3)" fill="#1717c6"/><ellipse cx="746.0" cy="766.9" rx="2.7" ry="2.2" transform="rotate(6 746.0 766.9)" fill="#1515be"/></g><rect x="800.6" y="766.4" width="11" height="1.7" fill="#f4f4f4"/></g>
<g clip-path="url(#fc22)"><rect x="826.0" y="683.5" width="115.8" height="86.5" fill="#020208"/><g filter="url(#hz)"><ellipse cx="914.4" cy="700.2" rx="7.6" ry="7.4" fill="#18a020" opacity="0.13"/><ellipse cx="867.4" cy="717.6" rx="9.2" ry="9.7" fill="#18a020" opacity="0.13"/><ellipse cx="909.8" cy="714.0" rx="8.7" ry="9.1" fill="#18a020" opacity="0.10"/><ellipse cx="854.7" cy="728.5" rx="7.6" ry="6.9" fill="#18a020" opacity="0.17"/><ellipse cx="879.1" cy="725.9" rx="3.3" ry="6.3" fill="#18a020" opacity="0.11"/><ellipse cx="886.7" cy="724.9" rx="5.4" ry="4.0" fill="#18a020" opacity="0.09"/><ellipse cx="900.7" cy="746.2" rx="8.7" ry="9.1" fill="#18a020" opacity="0.10"/></g><ellipse cx="884.7" cy="726.4" rx="9.5" ry="10.1" fill="#30d030" opacity="0.65" filter="url(#hot)"/><ellipse cx="853.7" cy="743.5" rx="7.0" ry="7.5" fill="#30d030" opacity="0.16" filter="url(#hot)"/><g filter="url(#nuc)"><ellipse cx="868.7" cy="685.8" rx="3.8" ry="2.4" transform="rotate(14 868.7 685.8)" fill="#1717c6"/><ellipse cx="912.4" cy="684.8" rx="3.3" ry="1.6" transform="rotate(-13 912.4 684.8)" fill="#1414b5"/><ellipse cx="932.7" cy="692.2" rx="4.9" ry="4.6" transform="rotate(10 932.7 692.2)" fill="#1616c2"/><ellipse cx="907.1" cy="694.9" rx="3.5" ry="4.4" transform="rotate(5 907.1 694.9)" fill="#1515ba"/><ellipse cx="887.9" cy="699.7" rx="3.3" ry="4.6" transform="rotate(3 887.9 699.7)" fill="#1616c0"/><ellipse cx="870.3" cy="706.1" rx="3.0" ry="5.2" transform="rotate(2 870.3 706.1)" fill="#1414b7"/><ellipse cx="877.2" cy="705.6" rx="3.5" ry="5.2" transform="rotate(-2 877.2 705.6)" fill="#1515bb"/><ellipse cx="901.2" cy="703.4" rx="3.8" ry="4.6" transform="rotate(7 901.2 703.4)" fill="#1717c7"/><ellipse cx="915.6" cy="700.2" rx="3.8" ry="3.5" transform="rotate(13 915.6 700.2)" fill="#1616be"/><ellipse cx="890.5" cy="710.4" rx="4.9" ry="3.5" transform="rotate(-2 890.5 710.4)" fill="#1515b9"/><ellipse cx="926.8" cy="709.3" rx="4.1" ry="3.8" transform="rotate(-14 926.8 709.3)" fill="#1414b4"/><ellipse cx="936.9" cy="714.1" rx="3.3" ry="4.1" transform="rotate(-1 936.9 714.1)" fill="#1515ba"/><ellipse cx="835.6" cy="719.4" rx="4.1" ry="3.5" transform="rotate(-4 835.6 719.4)" fill="#1717c5"/><ellipse cx="854.3" cy="720.5" rx="4.4" ry="3.0" transform="rotate(1 854.3 720.5)" fill="#1616bf"/><ellipse cx="866.5" cy="716.8" rx="4.6" ry="4.6" transform="rotate(-8 866.5 716.8)" fill="#1414b4"/><ellipse cx="910.8" cy="714.1" rx="4.4" ry="4.4" transform="rotate(-5 910.8 714.1)" fill="#1414b6"/><ellipse cx="923.1" cy="721.0" rx="4.1" ry="4.1" transform="rotate(0 923.1 721.0)" fill="#1717c7"/><ellipse cx="830.3" cy="727.4" rx="4.4" ry="4.4" transform="rotate(5 830.3 727.4)" fill="#1414b7"/><ellipse cx="853.2" cy="727.4" rx="3.8" ry="3.3" transform="rotate(12 853.2 727.4)" fill="#1616c3"/><ellipse cx="880.4" cy="724.2" rx="1.6" ry="3.0" transform="rotate(7 880.4 724.2)" fill="#2828e0"/><ellipse cx="887.9" cy="723.7" rx="2.7" ry="1.9" transform="rotate(12 887.9 723.7)" fill="#2828e0"/><ellipse cx="893.7" cy="730.1" rx="3.3" ry="3.5" transform="rotate(8 893.7 730.1)" fill="#1616c3"/><ellipse cx="917.2" cy="726.4" rx="3.5" ry="3.5" transform="rotate(-4 917.2 726.4)" fill="#1717c7"/><ellipse cx="909.2" cy="729.6" rx="4.1" ry="4.1" transform="rotate(14 909.2 729.6)" fill="#1414b7"/><ellipse cx="875.6" cy="733.3" rx="3.5" ry="3.8" transform="rotate(8 875.6 733.3)" fill="#1616c2"/><ellipse cx="860.1" cy="734.4" rx="3.3" ry="3.8" transform="rotate(-1 860.1 734.4)" fill="#1515be"/><ellipse cx="891.6" cy="737.6" rx="4.9" ry="3.0" transform="rotate(-0 891.6 737.6)" fill="#1717c6"/><ellipse cx="911.3" cy="740.2" rx="4.1" ry="4.6" transform="rotate(0 911.3 740.2)" fill="#1616c4"/><ellipse cx="854.3" cy="742.9" rx="5.2" ry="1.9" transform="rotate(-4 854.3 742.9)" fill="#2828e0"/><ellipse cx="923.1" cy="742.9" rx="3.8" ry="4.1" transform="rotate(11 923.1 742.9)" fill="#1717c5"/><ellipse cx="892.7" cy="748.8" rx="4.1" ry="4.4" transform="rotate(-1 892.7 748.8)" fill="#1616bf"/><ellipse cx="901.2" cy="746.1" rx="4.4" ry="4.4" transform="rotate(13 901.2 746.1)" fill="#1616c2"/><ellipse cx="918.8" cy="753.0" rx="3.8" ry="3.5" transform="rotate(-0 918.8 753.0)" fill="#1414b8"/><ellipse cx="885.2" cy="757.3" rx="3.0" ry="3.0" transform="rotate(-5 885.2 757.3)" fill="#1616c1"/><ellipse cx="909.2" cy="757.8" rx="3.3" ry="4.4" transform="rotate(-10 909.2 757.8)" fill="#1717c5"/><ellipse cx="937.5" cy="758.4" rx="3.0" ry="4.4" transform="rotate(-7 937.5 758.4)" fill="#1717c5"/><ellipse cx="921.5" cy="765.3" rx="4.1" ry="3.3" transform="rotate(-6 921.5 765.3)" fill="#1717c6"/><ellipse cx="874.0" cy="766.9" rx="2.7" ry="2.2" transform="rotate(6 874.0 766.9)" fill="#1515be"/></g><rect x="928.6" y="766.4" width="11" height="1.7" fill="#f4f4f4"/></g>
<g clip-path="url(#fc23)"><rect x="952.8" y="683.5" width="115.8" height="86.5" fill="#020208"/><g filter="url(#hz)"><ellipse cx="994.1" cy="686.7" rx="7.6" ry="5.1" fill="#b01030" opacity="0.20"/><ellipse cx="1059.7" cy="690.4" rx="9.8" ry="9.7" fill="#b01030" opacity="0.20"/><ellipse cx="1040.9" cy="701.5" rx="7.6" ry="7.4" fill="#b01030" opacity="0.15"/><ellipse cx="979.6" cy="721.0" rx="8.7" ry="6.3" fill="#b01030" opacity="0.19"/><ellipse cx="1049.2" cy="721.8" rx="8.2" ry="8.6" fill="#b01030" opacity="0.13"/><ellipse cx="1013.3" cy="722.5" rx="5.4" ry="4.0" fill="#b01030" opacity="0.24"/><ellipse cx="1048.7" cy="767.0" rx="8.2" ry="6.9" fill="#b01030" opacity="0.22"/></g><g filter="url(#hz)"><ellipse cx="1041.2" cy="700.2" rx="7.6" ry="7.4" fill="#18a020" opacity="0.13"/><ellipse cx="994.2" cy="717.6" rx="9.2" ry="9.7" fill="#18a020" opacity="0.13"/><ellipse cx="1036.6" cy="714.0" rx="8.7" ry="9.1" fill="#18a020" opacity="0.10"/><ellipse cx="981.5" cy="728.5" rx="7.6" ry="6.9" fill="#18a020" opacity="0.17"/><ellipse cx="1005.9" cy="725.9" rx="3.3" ry="6.3" fill="#18a020" opacity="0.11"/><ellipse cx="1013.5" cy="724.9" rx="5.4" ry="4.0" fill="#18a020" opacity="0.09"/><ellipse cx="1027.5" cy="746.2" rx="8.7" ry="9.1" fill="#18a020" opacity="0.10"/></g><ellipse cx="1011.5" cy="726.4" rx="9.5" ry="10.1" fill="#e0c020" opacity="0.65" filter="url(#hot)"/><ellipse cx="980.5" cy="743.5" rx="7.0" ry="7.5" fill="#e02040" opacity="0.65" filter="url(#hot)"/><g filter="url(#nuc)"><ellipse cx="995.5" cy="685.8" rx="3.8" ry="2.4" transform="rotate(14 995.5 685.8)" fill="#1717c6"/><ellipse cx="1039.2" cy="684.8" rx="3.3" ry="1.6" transform="rotate(-13 1039.2 684.8)" fill="#1414b5"/><ellipse cx="1059.5" cy="692.2" rx="4.9" ry="4.6" transform="rotate(10 1059.5 692.2)" fill="#1616c2"/><ellipse cx="1033.9" cy="694.9" rx="3.5" ry="4.4" transform="rotate(5 1033.9 694.9)" fill="#1515ba"/><ellipse cx="1014.7" cy="699.7" rx="3.3" ry="4.6" transform="rotate(3 1014.7 699.7)" fill="#1616c0"/><ellipse cx="997.1" cy="706.1" rx="3.0" ry="5.2" transform="rotate(2 997.1 706.1)" fill="#1414b7"/><ellipse cx="1004.0" cy="705.6" rx="3.5" ry="5.2" transform="rotate(-2 1004.0 705.6)" fill="#1515bb"/><ellipse cx="1028.0" cy="703.4" rx="3.8" ry="4.6" transform="rotate(7 1028.0 703.4)" fill="#1717c7"/><ellipse cx="1042.4" cy="700.2" rx="3.8" ry="3.5" transform="rotate(13 1042.4 700.2)" fill="#1616be"/><ellipse cx="1017.3" cy="710.4" rx="4.9" ry="3.5" transform="rotate(-2 1017.3 710.4)" fill="#1515b9"/><ellipse cx="1053.6" cy="709.3" rx="4.1" ry="3.8" transform="rotate(-14 1053.6 709.3)" fill="#1414b4"/><ellipse cx="1063.7" cy="714.1" rx="3.3" ry="4.1" transform="rotate(-1 1063.7 714.1)" fill="#1515ba"/><ellipse cx="962.4" cy="719.4" rx="4.1" ry="3.5" transform="rotate(-4 962.4 719.4)" fill="#1717c5"/><ellipse cx="981.1" cy="720.5" rx="4.4" ry="3.0" transform="rotate(1 981.1 720.5)" fill="#1616bf"/><ellipse cx="993.3" cy="716.8" rx="4.6" ry="4.6" transform="rotate(-8 993.3 716.8)" fill="#1414b4"/><ellipse cx="1037.6" cy="714.1" rx="4.4" ry="4.4" transform="rotate(-5 1037.6 714.1)" fill="#1414b6"/><ellipse cx="1049.9" cy="721.0" rx="4.1" ry="4.1" transform="rotate(0 1049.9 721.0)" fill="#1717c7"/><ellipse cx="957.1" cy="727.4" rx="4.4" ry="4.4" transform="rotate(5 957.1 727.4)" fill="#1414b7"/><ellipse cx="980.0" cy="727.4" rx="3.8" ry="3.3" transform="rotate(12 980.0 727.4)" fill="#1616c3"/><ellipse cx="1007.2" cy="724.2" rx="1.6" ry="3.0" transform="rotate(7 1007.2 724.2)" fill="#2828e0"/><ellipse cx="1014.7" cy="723.7" rx="2.7" ry="1.9" transform="rotate(12 1014.7 723.7)" fill="#2828e0"/><ellipse cx="1020.5" cy="730.1" rx="3.3" ry="3.5" transform="rotate(8 1020.5 730.1)" fill="#1616c3"/><ellipse cx="1044.0" cy="726.4" rx="3.5" ry="3.5" transform="rotate(-4 1044.0 726.4)" fill="#1717c7"/><ellipse cx="1036.0" cy="729.6" rx="4.1" ry="4.1" transform="rotate(14 1036.0 729.6)" fill="#1414b7"/><ellipse cx="1002.4" cy="733.3" rx="3.5" ry="3.8" transform="rotate(8 1002.4 733.3)" fill="#1616c2"/><ellipse cx="986.9" cy="734.4" rx="3.3" ry="3.8" transform="rotate(-1 986.9 734.4)" fill="#1515be"/><ellipse cx="1018.4" cy="737.6" rx="4.9" ry="3.0" transform="rotate(-0 1018.4 737.6)" fill="#1717c6"/><ellipse cx="1038.1" cy="740.2" rx="4.1" ry="4.6" transform="rotate(0 1038.1 740.2)" fill="#1616c4"/><ellipse cx="981.1" cy="742.9" rx="5.2" ry="1.9" transform="rotate(-4 981.1 742.9)" fill="#2828e0"/><ellipse cx="1049.9" cy="742.9" rx="3.8" ry="4.1" transform="rotate(11 1049.9 742.9)" fill="#1717c5"/><ellipse cx="1019.5" cy="748.8" rx="4.1" ry="4.4" transform="rotate(-1 1019.5 748.8)" fill="#1616bf"/><ellipse cx="1028.0" cy="746.1" rx="4.4" ry="4.4" transform="rotate(13 1028.0 746.1)" fill="#1616c2"/><ellipse cx="1045.6" cy="753.0" rx="3.8" ry="3.5" transform="rotate(-0 1045.6 753.0)" fill="#1414b8"/><ellipse cx="1012.0" cy="757.3" rx="3.0" ry="3.0" transform="rotate(-5 1012.0 757.3)" fill="#1616c1"/><ellipse cx="1036.0" cy="757.8" rx="3.3" ry="4.4" transform="rotate(-10 1036.0 757.8)" fill="#1717c5"/><ellipse cx="1064.3" cy="758.4" rx="3.0" ry="4.4" transform="rotate(-7 1064.3 758.4)" fill="#1717c5"/><ellipse cx="1048.3" cy="765.3" rx="4.1" ry="3.3" transform="rotate(-6 1048.3 765.3)" fill="#1717c6"/><ellipse cx="1000.8" cy="766.9" rx="2.7" ry="2.2" transform="rotate(6 1000.8 766.9)" fill="#1515be"/></g><rect x="1055.4" y="766.4" width="11" height="1.7" fill="#f4f4f4"/></g>
<g clip-path="url(#fc30)"><rect x="569.8" y="775.5" width="115.8" height="86.5" fill="#020208"/><g filter="url(#nuc)"><ellipse cx="581.5" cy="776.6" rx="3.3" ry="1.6" transform="rotate(-8 581.5 776.6)" fill="#1515be"/><ellipse cx="619.9" cy="777.6" rx="3.8" ry="2.7" transform="rotate(-3 619.9 777.6)" fill="#1616bf"/><ellipse cx="639.1" cy="777.1" rx="3.8" ry="1.9" transform="rotate(-13 639.1 777.1)" fill="#1717c5"/><ellipse cx="662.6" cy="777.6" rx="2.2" ry="2.7" transform="rotate(13 662.6 777.6)" fill="#1818ce"/><ellipse cx="579.4" cy="783.5" rx="3.8" ry="3.5" transform="rotate(8 579.4 783.5)" fill="#1616c1"/><ellipse cx="587.9" cy="783.0" rx="3.0" ry="5.4" transform="rotate(1 587.9 783.0)" fill="#1616c2"/><ellipse cx="615.1" cy="784.6" rx="4.4" ry="3.8" transform="rotate(-10 615.1 784.6)" fill="#1515be"/><ellipse cx="654.1" cy="781.4" rx="4.4" ry="4.1" transform="rotate(-9 654.1 781.4)" fill="#1919d1"/><ellipse cx="635.9" cy="786.7" rx="3.8" ry="3.3" transform="rotate(10 635.9 786.7)" fill="#1818ce"/><ellipse cx="668.5" cy="786.2" rx="4.1" ry="3.5" transform="rotate(9 668.5 786.2)" fill="#1616c0"/><ellipse cx="680.2" cy="789.9" rx="3.3" ry="3.8" transform="rotate(-6 680.2 789.9)" fill="#1717ca"/><ellipse cx="580.5" cy="792.0" rx="3.5" ry="3.5" transform="rotate(7 580.5 792.0)" fill="#1818cf"/><ellipse cx="592.7" cy="790.4" rx="3.5" ry="3.8" transform="rotate(11 592.7 790.4)" fill="#1515be"/><ellipse cx="624.2" cy="789.9" rx="5.4" ry="3.5" transform="rotate(3 624.2 789.9)" fill="#1818cb"/><ellipse cx="610.3" cy="794.7" rx="4.4" ry="5.2" transform="rotate(0 610.3 794.7)" fill="#1616c0"/><ellipse cx="647.7" cy="792.6" rx="4.9" ry="3.8" transform="rotate(-1 647.7 792.6)" fill="#1515be"/><ellipse cx="661.0" cy="792.6" rx="3.3" ry="3.8" transform="rotate(13 661.0 792.6)" fill="#1818cf"/><ellipse cx="572.5" cy="799.5" rx="2.7" ry="4.9" transform="rotate(1 572.5 799.5)" fill="#1616c2"/><ellipse cx="631.7" cy="797.4" rx="6.3" ry="4.4" transform="rotate(12 631.7 797.4)" fill="#1717c9"/><ellipse cx="677.5" cy="797.9" rx="4.4" ry="3.5" transform="rotate(11 677.5 797.9)" fill="#1818cf"/><ellipse cx="591.1" cy="799.0" rx="4.1" ry="3.0" transform="rotate(0 591.1 799.0)" fill="#1717c5"/><ellipse cx="581.0" cy="802.7" rx="3.5" ry="4.1" transform="rotate(3 581.0 802.7)" fill="#1717c5"/><ellipse cx="595.9" cy="804.3" rx="4.4" ry="5.2" transform="rotate(-10 595.9 804.3)" fill="#1616c3"/><ellipse cx="607.7" cy="804.8" rx="4.9" ry="4.4" transform="rotate(9 607.7 804.8)" fill="#1515bd"/><ellipse cx="656.7" cy="800.6" rx="3.5" ry="3.5" transform="rotate(-14 656.7 800.6)" fill="#1717ca"/><ellipse cx="674.3" cy="803.8" rx="4.4" ry="3.3" transform="rotate(-7 674.3 803.8)" fill="#1717c8"/><ellipse cx="648.7" cy="805.4" rx="4.9" ry="3.8" transform="rotate(-1 648.7 805.4)" fill="#1616c3"/><ellipse cx="587.4" cy="809.6" rx="3.3" ry="3.3" transform="rotate(15 587.4 809.6)" fill="#1616c0"/><ellipse cx="617.3" cy="809.6" rx="4.1" ry="4.1" transform="rotate(-3 617.3 809.6)" fill="#1616c0"/><ellipse cx="632.2" cy="811.8" rx="3.8" ry="4.9" transform="rotate(4 632.2 811.8)" fill="#1616c2"/><ellipse cx="641.3" cy="810.2" rx="3.3" ry="4.1" transform="rotate(-4 641.3 810.2)" fill="#1818cd"/><ellipse cx="665.3" cy="811.2" rx="3.3" ry="3.8" transform="rotate(-5 665.3 811.2)" fill="#1717c8"/><ellipse cx="673.8" cy="812.8" rx="4.1" ry="4.4" transform="rotate(12 673.8 812.8)" fill="#1515be"/><ellipse cx="578.9" cy="815.0" rx="3.0" ry="4.4" transform="rotate(-13 578.9 815.0)" fill="#1616c1"/><ellipse cx="598.1" cy="815.0" rx="3.8" ry="3.0" transform="rotate(8 598.1 815.0)" fill="#1717ca"/><ellipse cx="608.2" cy="816.6" rx="3.0" ry="4.1" transform="rotate(-8 608.2 816.6)" fill="#1616c3"/><ellipse cx="682.9" cy="815.0" rx="1.6" ry="3.3" transform="rotate(-10 682.9 815.0)" fill="#1717c6"/><ellipse cx="570.9" cy="817.1" rx="1.1" ry="2.7" transform="rotate(-14 570.9 817.1)" fill="#1818cb"/><ellipse cx="623.7" cy="820.3" rx="3.8" ry="4.4" transform="rotate(12 623.7 820.3)" fill="#1919d1"/><ellipse cx="629.5" cy="822.4" rx="3.0" ry="3.0" transform="rotate(7 629.5 822.4)" fill="#1919d1"/><ellipse cx="658.3" cy="818.2" rx="4.4" ry="3.5" transform="rotate(-14 658.3 818.2)" fill="#1616c2"/><ellipse cx="572.5" cy="825.6" rx="3.0" ry="3.3" transform="rotate(14 572.5 825.6)" fill="#1818cd"/><ellipse cx="598.1" cy="825.6" rx="4.1" ry="3.0" transform="rotate(-3 598.1 825.6)" fill="#1919d1"/><ellipse cx="633.3" cy="826.2" rx="3.0" ry="3.3" transform="rotate(4 633.3 826.2)" fill="#1818ce"/><ellipse cx="647.1" cy="825.1" rx="4.1" ry="3.3" transform="rotate(-6 647.1 825.1)" fill="#1616c0"/><ellipse cx="677.0" cy="824.6" rx="5.2" ry="3.8" transform="rotate(-2 677.0 824.6)" fill="#1616bf"/><ellipse cx="617.3" cy="829.4" rx="3.5" ry="3.3" transform="rotate(-4 617.3 829.4)" fill="#1919d1"/><ellipse cx="626.9" cy="830.4" rx="3.0" ry="3.3" transform="rotate(-5 626.9 830.4)" fill="#1515bc"/><ellipse cx="587.9" cy="833.6" rx="3.3" ry="4.4" transform="rotate(-14 587.9 833.6)" fill="#1616bf"/><ellipse cx="601.3" cy="834.2" rx="3.3" ry="3.8" transform="rotate(9 601.3 834.2)" fill="#1616c4"/><ellipse cx="608.7" cy="833.1" rx="3.8" ry="4.6" transform="rotate(-6 608.7 833.1)" fill="#1515be"/><ellipse cx="664.7" cy="834.2" rx="3.3" ry="4.6" transform="rotate(14 664.7 834.2)" fill="#1717c5"/><ellipse cx="595.4" cy="836.8" rx="3.8" ry="2.7" transform="rotate(-9 595.4 836.8)" fill="#1515bd"/><ellipse cx="625.8" cy="841.1" rx="4.4" ry="3.8" transform="rotate(-13 625.8 841.1)" fill="#1616bf"/><ellipse cx="646.6" cy="840.0" rx="4.6" ry="3.5" transform="rotate(5 646.6 840.0)" fill="#2828ef"/><ellipse cx="682.3" cy="835.2" rx="2.2" ry="3.8" transform="rotate(-11 682.3 835.2)" fill="#1515bd"/><ellipse cx="597.0" cy="844.3" rx="4.6" ry="3.5" transform="rotate(-0 597.0 844.3)" fill="#1616c1"/><ellipse cx="682.9" cy="843.8" rx="1.6" ry="3.3" transform="rotate(15 682.9 843.8)" fill="#1616be"/><ellipse cx="670.6" cy="845.4" rx="3.8" ry="3.8" transform="rotate(1 670.6 845.4)" fill="#2828ef"/><ellipse cx="620.5" cy="849.1" rx="4.4" ry="4.4" transform="rotate(8 620.5 849.1)" fill="#1717c5"/><ellipse cx="645.5" cy="851.2" rx="3.8" ry="3.3" transform="rotate(15 645.5 851.2)" fill="#1717c6"/><ellipse cx="597.5" cy="853.4" rx="4.9" ry="3.8" transform="rotate(-8 597.5 853.4)" fill="#1717c5"/><ellipse cx="611.4" cy="856.0" rx="3.5" ry="3.5" transform="rotate(-14 611.4 856.0)" fill="#1717c5"/><ellipse cx="674.3" cy="853.4" rx="3.3" ry="3.8" transform="rotate(-8 674.3 853.4)" fill="#1818d0"/><ellipse cx="607.1" cy="859.8" rx="3.8" ry="1.6" transform="rotate(10 607.1 859.8)" fill="#1717c7"/></g><rect x="672.4" y="858.4" width="11" height="1.7" fill="#f4f4f4"/></g>
<g clip-path="url(#fc31)"><rect x="698.0" y="775.5" width="115.8" height="86.5" fill="#020208"/><g filter="url(#hz)"><ellipse cx="749.1" cy="776.5" rx="7.6" ry="5.7" fill="#b01030" opacity="0.31"/><ellipse cx="765.8" cy="776.6" rx="7.6" ry="4.0" fill="#b01030" opacity="0.29"/><ellipse cx="715.0" cy="784.3" rx="6.0" ry="11.4" fill="#b01030" opacity="0.19"/><ellipse cx="741.8" cy="783.1" rx="8.7" ry="8.0" fill="#b01030" opacity="0.22"/><ellipse cx="781.9" cy="782.3" rx="8.7" ry="8.6" fill="#b01030" opacity="0.21"/><ellipse cx="765.3" cy="787.0" rx="7.6" ry="6.9" fill="#b01030" opacity="0.25"/><ellipse cx="796.1" cy="786.5" rx="8.2" ry="7.4" fill="#b01030" opacity="0.22"/><ellipse cx="707.7" cy="791.2" rx="7.1" ry="7.4" fill="#b01030" opacity="0.27"/><ellipse cx="722.5" cy="792.0" rx="7.1" ry="8.0" fill="#b01030" opacity="0.36"/><ellipse cx="751.6" cy="789.8" rx="10.9" ry="7.4" fill="#b01030" opacity="0.31"/><ellipse cx="737.5" cy="793.1" rx="8.7" ry="10.9" fill="#b01030" opacity="0.26"/><ellipse cx="790.0" cy="790.9" rx="6.5" ry="8.0" fill="#b01030" opacity="0.33"/><ellipse cx="702.6" cy="799.8" rx="5.4" ry="10.3" fill="#b01030" opacity="0.36"/><ellipse cx="759.0" cy="797.6" rx="12.5" ry="9.1" fill="#b01030" opacity="0.31"/><ellipse cx="807.0" cy="797.7" rx="8.7" ry="7.4" fill="#b01030" opacity="0.25"/><ellipse cx="719.1" cy="797.1" rx="8.2" ry="6.3" fill="#b01030" opacity="0.19"/><ellipse cx="709.4" cy="803.0" rx="7.1" ry="8.6" fill="#b01030" opacity="0.34"/><ellipse cx="723.7" cy="804.6" rx="8.7" ry="10.9" fill="#b01030" opacity="0.22"/><ellipse cx="735.8" cy="804.2" rx="9.8" ry="9.1" fill="#b01030" opacity="0.25"/><ellipse cx="784.2" cy="801.3" rx="7.1" ry="7.4" fill="#b01030" opacity="0.30"/><ellipse cx="804.5" cy="803.0" rx="8.7" ry="6.9" fill="#b01030" opacity="0.28"/><ellipse cx="716.9" cy="807.8" rx="6.5" ry="6.9" fill="#b01030" opacity="0.25"/><ellipse cx="747.2" cy="810.4" rx="8.2" ry="8.6" fill="#b01030" opacity="0.34"/><ellipse cx="760.9" cy="810.0" rx="7.6" ry="10.3" fill="#b01030" opacity="0.24"/><ellipse cx="770.0" cy="808.8" rx="6.5" ry="8.6" fill="#b01030" opacity="0.34"/><ellipse cx="794.9" cy="810.4" rx="6.5" ry="8.0" fill="#b01030" opacity="0.23"/><ellipse cx="801.3" cy="811.8" rx="8.2" ry="9.1" fill="#b01030" opacity="0.31"/><ellipse cx="707.4" cy="814.3" rx="6.0" ry="9.1" fill="#b01030" opacity="0.25"/><ellipse cx="724.8" cy="816.1" rx="7.6" ry="6.3" fill="#b01030" opacity="0.26"/><ellipse cx="812.6" cy="816.7" rx="3.3" ry="6.9" fill="#b01030" opacity="0.28"/><ellipse cx="697.1" cy="816.4" rx="2.2" ry="5.7" fill="#b01030" opacity="0.27"/><ellipse cx="752.6" cy="821.7" rx="7.6" ry="9.1" fill="#b01030" opacity="0.26"/><ellipse cx="759.7" cy="823.6" rx="6.0" ry="6.3" fill="#b01030" opacity="0.18"/><ellipse cx="784.7" cy="819.9" rx="8.7" ry="7.4" fill="#b01030" opacity="0.20"/><ellipse cx="701.8" cy="826.6" rx="6.0" ry="6.9" fill="#b01030" opacity="0.33"/><ellipse cx="725.3" cy="825.4" rx="8.2" ry="6.3" fill="#b01030" opacity="0.23"/><ellipse cx="762.5" cy="826.5" rx="6.0" ry="6.9" fill="#b01030" opacity="0.32"/><ellipse cx="776.0" cy="825.7" rx="8.2" ry="6.9" fill="#b01030" opacity="0.21"/><ellipse cx="807.1" cy="826.3" rx="10.3" ry="8.0" fill="#b01030" opacity="0.31"/><ellipse cx="745.9" cy="830.1" rx="7.1" ry="6.9" fill="#b01030" opacity="0.23"/><ellipse cx="754.9" cy="831.5" rx="6.0" ry="6.9" fill="#b01030" opacity="0.35"/><ellipse cx="714.2" cy="834.8" rx="6.5" ry="9.1" fill="#b01030" opacity="0.23"/><ellipse cx="729.9" cy="833.5" rx="6.5" ry="8.0" fill="#b01030" opacity="0.35"/><ellipse cx="735.7" cy="831.5" rx="7.6" ry="9.7" fill="#b01030" opacity="0.25"/><ellipse cx="792.7" cy="835.0" rx="6.5" ry="9.7" fill="#b01030" opacity="0.24"/><ellipse cx="722.9" cy="836.1" rx="7.6" ry="5.7" fill="#b01030" opacity="0.26"/><ellipse cx="753.6" cy="839.5" rx="8.7" ry="8.0" fill="#b01030" opacity="0.20"/><ellipse cx="776.7" cy="840.0" rx="9.2" ry="7.4" fill="#b01030" opacity="0.23"/><ellipse cx="811.8" cy="836.0" rx="4.4" ry="8.0" fill="#b01030" opacity="0.27"/><ellipse cx="723.8" cy="845.3" rx="9.2" ry="7.4" fill="#b01030" opacity="0.19"/><ellipse cx="811.6" cy="845.1" rx="3.3" ry="6.9" fill="#b01030" opacity="0.36"/><ellipse cx="799.4" cy="847.1" rx="7.6" ry="8.0" fill="#b01030" opacity="0.35"/><ellipse cx="747.1" cy="848.1" rx="8.7" ry="9.1" fill="#b01030" opacity="0.23"/><ellipse cx="723.8" cy="853.2" rx="9.8" ry="8.0" fill="#b01030" opacity="0.19"/><ellipse cx="737.7" cy="855.1" rx="7.1" ry="7.4" fill="#b01030" opacity="0.24"/><ellipse cx="734.4" cy="860.4" rx="7.6" ry="3.4" fill="#b01030" opacity="0.33"/></g><ellipse cx="746.6" cy="810.1" rx="7.0" ry="7.5" fill="#d02040" opacity="0.48" filter="url(#hot)"/><ellipse cx="758.2" cy="827.4" rx="7.0" ry="7.5" fill="#d02040" opacity="0.18" filter="url(#hot)"/><ellipse cx="736.2" cy="814.4" rx="5.6" ry="6.0" fill="#d02040" opacity="0.24" filter="url(#hot)"/><ellipse cx="776.7" cy="803.2" rx="5.6" ry="6.0" fill="#d02040" opacity="0.18" filter="url(#hot)"/><g filter="url(#nuc)"><ellipse cx="709.7" cy="776.6" rx="3.3" ry="1.6" transform="rotate(-8 709.7 776.6)" fill="#1515be"/><ellipse cx="748.1" cy="777.6" rx="3.8" ry="2.7" transform="rotate(-3 748.1 777.6)" fill="#1616bf"/><ellipse cx="767.3" cy="777.1" rx="3.8" ry="1.9" transform="rotate(-13 767.3 777.1)" fill="#1717c5"/><ellipse cx="790.8" cy="777.6" rx="2.2" ry="2.7" transform="rotate(13 790.8 777.6)" fill="#1818ce"/><ellipse cx="707.6" cy="783.5" rx="3.8" ry="3.5" transform="rotate(8 707.6 783.5)" fill="#1616c1"/><ellipse cx="716.1" cy="783.0" rx="3.0" ry="5.4" transform="rotate(1 716.1 783.0)" fill="#1616c2"/><ellipse cx="743.3" cy="784.6" rx="4.4" ry="3.8" transform="rotate(-10 743.3 784.6)" fill="#1515be"/><ellipse cx="782.3" cy="781.4" rx="4.4" ry="4.1" transform="rotate(-9 782.3 781.4)" fill="#1919d1"/><ellipse cx="764.1" cy="786.7" rx="3.8" ry="3.3" transform="rotate(10 764.1 786.7)" fill="#1818ce"/><ellipse cx="796.7" cy="786.2" rx="4.1" ry="3.5" transform="rotate(9 796.7 786.2)" fill="#1616c0"/><ellipse cx="808.4" cy="789.9" rx="3.3" ry="3.8" transform="rotate(-6 808.4 789.9)" fill="#1717ca"/><ellipse cx="708.7" cy="792.0" rx="3.5" ry="3.5" transform="rotate(7 708.7 792.0)" fill="#1818cf"/><ellipse cx="720.9" cy="790.4" rx="3.5" ry="3.8" transform="rotate(11 720.9 790.4)" fill="#1515be"/><ellipse cx="752.4" cy="789.9" rx="5.4" ry="3.5" transform="rotate(3 752.4 789.9)" fill="#1818cb"/><ellipse cx="738.5" cy="794.7" rx="4.4" ry="5.2" transform="rotate(0 738.5 794.7)" fill="#1616c0"/><ellipse cx="775.9" cy="792.6" rx="4.9" ry="3.8" transform="rotate(-1 775.9 792.6)" fill="#1515be"/><ellipse cx="789.2" cy="792.6" rx="3.3" ry="3.8" transform="rotate(13 789.2 792.6)" fill="#1818cf"/><ellipse cx="700.7" cy="799.5" rx="2.7" ry="4.9" transform="rotate(1 700.7 799.5)" fill="#1616c2"/><ellipse cx="759.9" cy="797.4" rx="6.3" ry="4.4" transform="rotate(12 759.9 797.4)" fill="#1717c9"/><ellipse cx="805.7" cy="797.9" rx="4.4" ry="3.5" transform="rotate(11 805.7 797.9)" fill="#1818cf"/><ellipse cx="719.3" cy="799.0" rx="4.1" ry="3.0" transform="rotate(0 719.3 799.0)" fill="#1717c5"/><ellipse cx="709.2" cy="802.7" rx="3.5" ry="4.1" transform="rotate(3 709.2 802.7)" fill="#1717c5"/><ellipse cx="724.1" cy="804.3" rx="4.4" ry="5.2" transform="rotate(-10 724.1 804.3)" fill="#1616c3"/><ellipse cx="735.9" cy="804.8" rx="4.9" ry="4.4" transform="rotate(9 735.9 804.8)" fill="#1515bd"/><ellipse cx="784.9" cy="800.6" rx="3.5" ry="3.5" transform="rotate(-14 784.9 800.6)" fill="#1717ca"/><ellipse cx="802.5" cy="803.8" rx="4.4" ry="3.3" transform="rotate(-7 802.5 803.8)" fill="#1717c8"/><ellipse cx="776.9" cy="805.4" rx="4.9" ry="3.8" transform="rotate(-1 776.9 805.4)" fill="#1616c3"/><ellipse cx="715.6" cy="809.6" rx="3.3" ry="3.3" transform="rotate(15 715.6 809.6)" fill="#1616c0"/><ellipse cx="745.5" cy="809.6" rx="4.1" ry="4.1" transform="rotate(-3 745.5 809.6)" fill="#1616c0"/><ellipse cx="760.4" cy="811.8" rx="3.8" ry="4.9" transform="rotate(4 760.4 811.8)" fill="#1616c2"/><ellipse cx="769.5" cy="810.2" rx="3.3" ry="4.1" transform="rotate(-4 769.5 810.2)" fill="#1818cd"/><ellipse cx="793.5" cy="811.2" rx="3.3" ry="3.8" transform="rotate(-5 793.5 811.2)" fill="#1717c8"/><ellipse cx="802.0" cy="812.8" rx="4.1" ry="4.4" transform="rotate(12 802.0 812.8)" fill="#1515be"/><ellipse cx="707.1" cy="815.0" rx="3.0" ry="4.4" transform="rotate(-13 707.1 815.0)" fill="#1616c1"/><ellipse cx="726.3" cy="815.0" rx="3.8" ry="3.0" transform="rotate(8 726.3 815.0)" fill="#1717ca"/><ellipse cx="736.4" cy="816.6" rx="3.0" ry="4.1" transform="rotate(-8 736.4 816.6)" fill="#1616c3"/><ellipse cx="811.1" cy="815.0" rx="1.6" ry="3.3" transform="rotate(-10 811.1 815.0)" fill="#1717c6"/><ellipse cx="699.1" cy="817.1" rx="1.1" ry="2.7" transform="rotate(-14 699.1 817.1)" fill="#1818cb"/><ellipse cx="751.9" cy="820.3" rx="3.8" ry="4.4" transform="rotate(12 751.9 820.3)" fill="#1919d1"/><ellipse cx="757.7" cy="822.4" rx="3.0" ry="3.0" transform="rotate(7 757.7 822.4)" fill="#1919d1"/><ellipse cx="786.5" cy="818.2" rx="4.4" ry="3.5" transform="rotate(-14 786.5 818.2)" fill="#1616c2"/><ellipse cx="700.7" cy="825.6" rx="3.0" ry="3.3" transform="rotate(14 700.7 825.6)" fill="#1818cd"/><ellipse cx="726.3" cy="825.6" rx="4.1" ry="3.0" transform="rotate(-3 726.3 825.6)" fill="#1919d1"/><ellipse cx="761.5" cy="826.2" rx="3.0" ry="3.3" transform="rotate(4 761.5 826.2)" fill="#1818ce"/><ellipse cx="775.3" cy="825.1" rx="4.1" ry="3.3" transform="rotate(-6 775.3 825.1)" fill="#1616c0"/><ellipse cx="805.2" cy="824.6" rx="5.2" ry="3.8" transform="rotate(-2 805.2 824.6)" fill="#1616bf"/><ellipse cx="745.5" cy="829.4" rx="3.5" ry="3.3" transform="rotate(-4 745.5 829.4)" fill="#1919d1"/><ellipse cx="755.1" cy="830.4" rx="3.0" ry="3.3" transform="rotate(-5 755.1 830.4)" fill="#1515bc"/><ellipse cx="716.1" cy="833.6" rx="3.3" ry="4.4" transform="rotate(-14 716.1 833.6)" fill="#1616bf"/><ellipse cx="729.5" cy="834.2" rx="3.3" ry="3.8" transform="rotate(9 729.5 834.2)" fill="#1616c4"/><ellipse cx="736.9" cy="833.1" rx="3.8" ry="4.6" transform="rotate(-6 736.9 833.1)" fill="#1515be"/><ellipse cx="792.9" cy="834.2" rx="3.3" ry="4.6" transform="rotate(14 792.9 834.2)" fill="#1717c5"/><ellipse cx="723.6" cy="836.8" rx="3.8" ry="2.7" transform="rotate(-9 723.6 836.8)" fill="#1515bd"/><ellipse cx="754.0" cy="841.1" rx="4.4" ry="3.8" transform="rotate(-13 754.0 841.1)" fill="#1616bf"/><ellipse cx="774.8" cy="840.0" rx="4.6" ry="3.5" transform="rotate(5 774.8 840.0)" fill="#2828ef"/><ellipse cx="810.5" cy="835.2" rx="2.2" ry="3.8" transform="rotate(-11 810.5 835.2)" fill="#1515bd"/><ellipse cx="725.2" cy="844.3" rx="4.6" ry="3.5" transform="rotate(-0 725.2 844.3)" fill="#1616c1"/><ellipse cx="811.1" cy="843.8" rx="1.6" ry="3.3" transform="rotate(15 811.1 843.8)" fill="#1616be"/><ellipse cx="798.8" cy="845.4" rx="3.8" ry="3.8" transform="rotate(1 798.8 845.4)" fill="#2828ef"/><ellipse cx="748.7" cy="849.1" rx="4.4" ry="4.4" transform="rotate(8 748.7 849.1)" fill="#1717c5"/><ellipse cx="773.7" cy="851.2" rx="3.8" ry="3.3" transform="rotate(15 773.7 851.2)" fill="#1717c6"/><ellipse cx="725.7" cy="853.4" rx="4.9" ry="3.8" transform="rotate(-8 725.7 853.4)" fill="#1717c5"/><ellipse cx="739.6" cy="856.0" rx="3.5" ry="3.5" transform="rotate(-14 739.6 856.0)" fill="#1717c5"/><ellipse cx="802.5" cy="853.4" rx="3.3" ry="3.8" transform="rotate(-8 802.5 853.4)" fill="#1818d0"/><ellipse cx="735.3" cy="859.8" rx="3.8" ry="1.6" transform="rotate(10 735.3 859.8)" fill="#1717c7"/></g><rect x="800.6" y="858.4" width="11" height="1.7" fill="#f4f4f4"/></g>
<g clip-path="url(#fc32)"><rect x="826.0" y="775.5" width="115.8" height="86.5" fill="#020208"/><g filter="url(#hz)"><ellipse cx="838.1" cy="775.4" rx="6.5" ry="3.4" fill="#18a020" opacity="0.33"/><ellipse cx="877.4" cy="778.1" rx="7.6" ry="5.7" fill="#18a020" opacity="0.27"/><ellipse cx="894.7" cy="775.5" rx="7.6" ry="4.0" fill="#18a020" opacity="0.31"/><ellipse cx="837.6" cy="782.9" rx="7.6" ry="7.4" fill="#18a020" opacity="0.27"/><ellipse cx="842.9" cy="784.0" rx="6.0" ry="11.4" fill="#18a020" opacity="0.23"/><ellipse cx="871.7" cy="783.6" rx="8.7" ry="8.0" fill="#18a020" opacity="0.17"/><ellipse cx="911.6" cy="780.9" rx="8.7" ry="8.6" fill="#18a020" opacity="0.15"/><ellipse cx="893.6" cy="785.0" rx="7.6" ry="6.9" fill="#18a020" opacity="0.25"/><ellipse cx="923.8" cy="785.9" rx="8.2" ry="7.4" fill="#18a020" opacity="0.32"/><ellipse cx="938.2" cy="788.8" rx="6.5" ry="8.0" fill="#18a020" opacity="0.22"/><ellipse cx="837.8" cy="790.4" rx="7.1" ry="7.4" fill="#18a020" opacity="0.16"/><ellipse cx="847.8" cy="789.5" rx="7.1" ry="8.0" fill="#18a020" opacity="0.16"/><ellipse cx="880.4" cy="788.1" rx="10.9" ry="7.4" fill="#18a020" opacity="0.31"/><ellipse cx="867.4" cy="795.3" rx="8.7" ry="10.9" fill="#18a020" opacity="0.24"/><ellipse cx="905.7" cy="794.4" rx="9.8" ry="8.0" fill="#18a020" opacity="0.32"/><ellipse cx="934.1" cy="797.5" rx="8.7" ry="7.4" fill="#18a020" opacity="0.30"/><ellipse cx="837.0" cy="800.8" rx="7.1" ry="8.6" fill="#18a020" opacity="0.34"/><ellipse cx="865.1" cy="806.0" rx="9.8" ry="9.1" fill="#18a020" opacity="0.15"/><ellipse cx="929.4" cy="803.9" rx="8.7" ry="6.9" fill="#18a020" opacity="0.19"/><ellipse cx="903.9" cy="804.0" rx="9.8" ry="8.0" fill="#18a020" opacity="0.27"/><ellipse cx="896.3" cy="810.4" rx="6.5" ry="8.6" fill="#18a020" opacity="0.17"/><ellipse cx="931.7" cy="813.4" rx="8.2" ry="9.1" fill="#18a020" opacity="0.17"/><ellipse cx="834.7" cy="815.1" rx="6.0" ry="9.1" fill="#18a020" opacity="0.31"/><ellipse cx="856.0" cy="814.7" rx="7.6" ry="6.3" fill="#18a020" opacity="0.17"/><ellipse cx="864.0" cy="815.0" rx="6.0" ry="8.6" fill="#18a020" opacity="0.23"/><ellipse cx="825.8" cy="816.3" rx="2.2" ry="5.7" fill="#18a020" opacity="0.31"/><ellipse cx="881.5" cy="820.8" rx="7.6" ry="9.1" fill="#18a020" opacity="0.30"/><ellipse cx="887.5" cy="820.9" rx="6.0" ry="6.3" fill="#18a020" opacity="0.20"/><ellipse cx="915.1" cy="817.3" rx="8.7" ry="7.4" fill="#18a020" opacity="0.27"/><ellipse cx="826.9" cy="825.3" rx="6.0" ry="6.9" fill="#18a020" opacity="0.17"/><ellipse cx="854.1" cy="827.4" rx="8.2" ry="6.3" fill="#18a020" opacity="0.34"/><ellipse cx="890.3" cy="825.9" rx="6.0" ry="6.9" fill="#18a020" opacity="0.35"/><ellipse cx="902.4" cy="823.8" rx="8.2" ry="6.9" fill="#18a020" opacity="0.29"/><ellipse cx="931.4" cy="824.0" rx="10.3" ry="8.0" fill="#18a020" opacity="0.26"/><ellipse cx="873.3" cy="829.6" rx="7.1" ry="6.9" fill="#18a020" opacity="0.35"/><ellipse cx="884.9" cy="831.8" rx="6.0" ry="6.9" fill="#18a020" opacity="0.24"/><ellipse cx="858.7" cy="833.7" rx="6.5" ry="8.0" fill="#18a020" opacity="0.33"/><ellipse cx="864.1" cy="832.2" rx="7.6" ry="9.7" fill="#18a020" opacity="0.34"/><ellipse cx="920.7" cy="833.9" rx="6.5" ry="9.7" fill="#18a020" opacity="0.26"/><ellipse cx="851.4" cy="838.6" rx="7.6" ry="5.7" fill="#18a020" opacity="0.30"/><ellipse cx="881.6" cy="839.1" rx="8.7" ry="8.0" fill="#18a020" opacity="0.21"/><ellipse cx="901.9" cy="839.8" rx="9.2" ry="7.4" fill="#18a020" opacity="0.25"/><ellipse cx="938.7" cy="834.6" rx="4.4" ry="8.0" fill="#18a020" opacity="0.27"/><ellipse cx="851.5" cy="845.9" rx="9.2" ry="7.4" fill="#18a020" opacity="0.33"/><ellipse cx="938.8" cy="845.7" rx="3.3" ry="6.9" fill="#18a020" opacity="0.19"/><ellipse cx="927.8" cy="845.4" rx="7.6" ry="8.0" fill="#18a020" opacity="0.16"/><ellipse cx="877.0" cy="849.8" rx="8.7" ry="9.1" fill="#18a020" opacity="0.34"/><ellipse cx="899.9" cy="850.3" rx="7.6" ry="6.9" fill="#18a020" opacity="0.28"/><ellipse cx="855.5" cy="852.1" rx="9.8" ry="8.0" fill="#18a020" opacity="0.36"/><ellipse cx="862.2" cy="861.8" rx="7.6" ry="3.4" fill="#18a020" opacity="0.16"/></g><ellipse cx="874.6" cy="810.1" rx="7.0" ry="7.5" fill="#30d030" opacity="0.65" filter="url(#hot)"/><ellipse cx="886.2" cy="827.4" rx="7.0" ry="7.5" fill="#30d030" opacity="0.65" filter="url(#hot)"/><ellipse cx="864.2" cy="814.4" rx="5.6" ry="6.0" fill="#30d030" opacity="0.39" filter="url(#hot)"/><ellipse cx="904.7" cy="803.2" rx="5.6" ry="6.0" fill="#30d030" opacity="0.39" filter="url(#hot)"/><g filter="url(#nuc)"><ellipse cx="837.7" cy="776.6" rx="3.3" ry="1.6" transform="rotate(-8 837.7 776.6)" fill="#1515be"/><ellipse cx="876.1" cy="777.6" rx="3.8" ry="2.7" transform="rotate(-3 876.1 777.6)" fill="#1616bf"/><ellipse cx="895.3" cy="777.1" rx="3.8" ry="1.9" transform="rotate(-13 895.3 777.1)" fill="#1717c5"/><ellipse cx="918.8" cy="777.6" rx="2.2" ry="2.7" transform="rotate(13 918.8 777.6)" fill="#1818ce"/><ellipse cx="835.6" cy="783.5" rx="3.8" ry="3.5" transform="rotate(8 835.6 783.5)" fill="#1616c1"/><ellipse cx="844.1" cy="783.0" rx="3.0" ry="5.4" transform="rotate(1 844.1 783.0)" fill="#1616c2"/><ellipse cx="871.3" cy="784.6" rx="4.4" ry="3.8" transform="rotate(-10 871.3 784.6)" fill="#1515be"/><ellipse cx="910.3" cy="781.4" rx="4.4" ry="4.1" transform="rotate(-9 910.3 781.4)" fill="#1919d1"/><ellipse cx="892.1" cy="786.7" rx="3.8" ry="3.3" transform="rotate(10 892.1 786.7)" fill="#1818ce"/><ellipse cx="924.7" cy="786.2" rx="4.1" ry="3.5" transform="rotate(9 924.7 786.2)" fill="#1616c0"/><ellipse cx="936.4" cy="789.9" rx="3.3" ry="3.8" transform="rotate(-6 936.4 789.9)" fill="#1717ca"/><ellipse cx="836.7" cy="792.0" rx="3.5" ry="3.5" transform="rotate(7 836.7 792.0)" fill="#1818cf"/><ellipse cx="848.9" cy="790.4" rx="3.5" ry="3.8" transform="rotate(11 848.9 790.4)" fill="#1515be"/><ellipse cx="880.4" cy="789.9" rx="5.4" ry="3.5" transform="rotate(3 880.4 789.9)" fill="#1818cb"/><ellipse cx="866.5" cy="794.7" rx="4.4" ry="5.2" transform="rotate(0 866.5 794.7)" fill="#1616c0"/><ellipse cx="903.9" cy="792.6" rx="4.9" ry="3.8" transform="rotate(-1 903.9 792.6)" fill="#1515be"/><ellipse cx="917.2" cy="792.6" rx="3.3" ry="3.8" transform="rotate(13 917.2 792.6)" fill="#1818cf"/><ellipse cx="828.7" cy="799.5" rx="2.7" ry="4.9" transform="rotate(1 828.7 799.5)" fill="#1616c2"/><ellipse cx="887.9" cy="797.4" rx="6.3" ry="4.4" transform="rotate(12 887.9 797.4)" fill="#1717c9"/><ellipse cx="933.7" cy="797.9" rx="4.4" ry="3.5" transform="rotate(11 933.7 797.9)" fill="#1818cf"/><ellipse cx="847.3" cy="799.0" rx="4.1" ry="3.0" transform="rotate(0 847.3 799.0)" fill="#1717c5"/><ellipse cx="837.2" cy="802.7" rx="3.5" ry="4.1" transform="rotate(3 837.2 802.7)" fill="#1717c5"/><ellipse cx="852.1" cy="804.3" rx="4.4" ry="5.2" transform="rotate(-10 852.1 804.3)" fill="#1616c3"/><ellipse cx="863.9" cy="804.8" rx="4.9" ry="4.4" transform="rotate(9 863.9 804.8)" fill="#1515bd"/><ellipse cx="912.9" cy="800.6" rx="3.5" ry="3.5" transform="rotate(-14 912.9 800.6)" fill="#1717ca"/><ellipse cx="930.5" cy="803.8" rx="4.4" ry="3.3" transform="rotate(-7 930.5 803.8)" fill="#1717c8"/><ellipse cx="904.9" cy="805.4" rx="4.9" ry="3.8" transform="rotate(-1 904.9 805.4)" fill="#1616c3"/><ellipse cx="843.6" cy="809.6" rx="3.3" ry="3.3" transform="rotate(15 843.6 809.6)" fill="#1616c0"/><ellipse cx="873.5" cy="809.6" rx="4.1" ry="4.1" transform="rotate(-3 873.5 809.6)" fill="#1616c0"/><ellipse cx="888.4" cy="811.8" rx="3.8" ry="4.9" transform="rotate(4 888.4 811.8)" fill="#1616c2"/><ellipse cx="897.5" cy="810.2" rx="3.3" ry="4.1" transform="rotate(-4 897.5 810.2)" fill="#1818cd"/><ellipse cx="921.5" cy="811.2" rx="3.3" ry="3.8" transform="rotate(-5 921.5 811.2)" fill="#1717c8"/><ellipse cx="930.0" cy="812.8" rx="4.1" ry="4.4" transform="rotate(12 930.0 812.8)" fill="#1515be"/><ellipse cx="835.1" cy="815.0" rx="3.0" ry="4.4" transform="rotate(-13 835.1 815.0)" fill="#1616c1"/><ellipse cx="854.3" cy="815.0" rx="3.8" ry="3.0" transform="rotate(8 854.3 815.0)" fill="#1717ca"/><ellipse cx="864.4" cy="816.6" rx="3.0" ry="4.1" transform="rotate(-8 864.4 816.6)" fill="#1616c3"/><ellipse cx="939.1" cy="815.0" rx="1.6" ry="3.3" transform="rotate(-10 939.1 815.0)" fill="#1717c6"/><ellipse cx="827.1" cy="817.1" rx="1.1" ry="2.7" transform="rotate(-14 827.1 817.1)" fill="#1818cb"/><ellipse cx="879.9" cy="820.3" rx="3.8" ry="4.4" transform="rotate(12 879.9 820.3)" fill="#1919d1"/><ellipse cx="885.7" cy="822.4" rx="3.0" ry="3.0" transform="rotate(7 885.7 822.4)" fill="#1919d1"/><ellipse cx="914.5" cy="818.2" rx="4.4" ry="3.5" transform="rotate(-14 914.5 818.2)" fill="#1616c2"/><ellipse cx="828.7" cy="825.6" rx="3.0" ry="3.3" transform="rotate(14 828.7 825.6)" fill="#1818cd"/><ellipse cx="854.3" cy="825.6" rx="4.1" ry="3.0" transform="rotate(-3 854.3 825.6)" fill="#1919d1"/><ellipse cx="889.5" cy="826.2" rx="3.0" ry="3.3" transform="rotate(4 889.5 826.2)" fill="#1818ce"/><ellipse cx="903.3" cy="825.1" rx="4.1" ry="3.3" transform="rotate(-6 903.3 825.1)" fill="#1616c0"/><ellipse cx="933.2" cy="824.6" rx="5.2" ry="3.8" transform="rotate(-2 933.2 824.6)" fill="#1616bf"/><ellipse cx="873.5" cy="829.4" rx="3.5" ry="3.3" transform="rotate(-4 873.5 829.4)" fill="#1919d1"/><ellipse cx="883.1" cy="830.4" rx="3.0" ry="3.3" transform="rotate(-5 883.1 830.4)" fill="#1515bc"/><ellipse cx="844.1" cy="833.6" rx="3.3" ry="4.4" transform="rotate(-14 844.1 833.6)" fill="#1616bf"/><ellipse cx="857.5" cy="834.2" rx="3.3" ry="3.8" transform="rotate(9 857.5 834.2)" fill="#1616c4"/><ellipse cx="864.9" cy="833.1" rx="3.8" ry="4.6" transform="rotate(-6 864.9 833.1)" fill="#1515be"/><ellipse cx="920.9" cy="834.2" rx="3.3" ry="4.6" transform="rotate(14 920.9 834.2)" fill="#1717c5"/><ellipse cx="851.6" cy="836.8" rx="3.8" ry="2.7" transform="rotate(-9 851.6 836.8)" fill="#1515bd"/><ellipse cx="882.0" cy="841.1" rx="4.4" ry="3.8" transform="rotate(-13 882.0 841.1)" fill="#1616bf"/><ellipse cx="902.8" cy="840.0" rx="4.6" ry="3.5" transform="rotate(5 902.8 840.0)" fill="#2828ef"/><ellipse cx="938.5" cy="835.2" rx="2.2" ry="3.8" transform="rotate(-11 938.5 835.2)" fill="#1515bd"/><ellipse cx="853.2" cy="844.3" rx="4.6" ry="3.5" transform="rotate(-0 853.2 844.3)" fill="#1616c1"/><ellipse cx="939.1" cy="843.8" rx="1.6" ry="3.3" transform="rotate(15 939.1 843.8)" fill="#1616be"/><ellipse cx="926.8" cy="845.4" rx="3.8" ry="3.8" transform="rotate(1 926.8 845.4)" fill="#2828ef"/><ellipse cx="876.7" cy="849.1" rx="4.4" ry="4.4" transform="rotate(8 876.7 849.1)" fill="#1717c5"/><ellipse cx="901.7" cy="851.2" rx="3.8" ry="3.3" transform="rotate(15 901.7 851.2)" fill="#1717c6"/><ellipse cx="853.7" cy="853.4" rx="4.9" ry="3.8" transform="rotate(-8 853.7 853.4)" fill="#1717c5"/><ellipse cx="867.6" cy="856.0" rx="3.5" ry="3.5" transform="rotate(-14 867.6 856.0)" fill="#1717c5"/><ellipse cx="930.5" cy="853.4" rx="3.3" ry="3.8" transform="rotate(-8 930.5 853.4)" fill="#1818d0"/><ellipse cx="863.3" cy="859.8" rx="3.8" ry="1.6" transform="rotate(10 863.3 859.8)" fill="#1717c7"/></g><rect x="928.6" y="858.4" width="11" height="1.7" fill="#f4f4f4"/></g>
<g clip-path="url(#fc33)"><rect x="952.8" y="775.5" width="115.8" height="86.5" fill="#020208"/><g filter="url(#hz)"><ellipse cx="1003.9" cy="776.5" rx="7.6" ry="5.7" fill="#b01030" opacity="0.31"/><ellipse cx="1020.6" cy="776.6" rx="7.6" ry="4.0" fill="#b01030" opacity="0.29"/><ellipse cx="969.8" cy="784.3" rx="6.0" ry="11.4" fill="#b01030" opacity="0.19"/><ellipse cx="996.6" cy="783.1" rx="8.7" ry="8.0" fill="#b01030" opacity="0.22"/><ellipse cx="1036.7" cy="782.3" rx="8.7" ry="8.6" fill="#b01030" opacity="0.21"/><ellipse cx="1020.1" cy="787.0" rx="7.6" ry="6.9" fill="#b01030" opacity="0.25"/><ellipse cx="1050.9" cy="786.5" rx="8.2" ry="7.4" fill="#b01030" opacity="0.22"/><ellipse cx="962.5" cy="791.2" rx="7.1" ry="7.4" fill="#b01030" opacity="0.27"/><ellipse cx="977.3" cy="792.0" rx="7.1" ry="8.0" fill="#b01030" opacity="0.36"/><ellipse cx="1006.4" cy="789.8" rx="10.9" ry="7.4" fill="#b01030" opacity="0.31"/><ellipse cx="992.3" cy="793.1" rx="8.7" ry="10.9" fill="#b01030" opacity="0.26"/><ellipse cx="1044.8" cy="790.9" rx="6.5" ry="8.0" fill="#b01030" opacity="0.33"/><ellipse cx="957.4" cy="799.8" rx="5.4" ry="10.3" fill="#b01030" opacity="0.36"/><ellipse cx="1013.8" cy="797.6" rx="12.5" ry="9.1" fill="#b01030" opacity="0.31"/><ellipse cx="1061.8" cy="797.7" rx="8.7" ry="7.4" fill="#b01030" opacity="0.25"/><ellipse cx="973.9" cy="797.1" rx="8.2" ry="6.3" fill="#b01030" opacity="0.19"/><ellipse cx="964.2" cy="803.0" rx="7.1" ry="8.6" fill="#b01030" opacity="0.34"/><ellipse cx="978.5" cy="804.6" rx="8.7" ry="10.9" fill="#b01030" opacity="0.22"/><ellipse cx="990.6" cy="804.2" rx="9.8" ry="9.1" fill="#b01030" opacity="0.25"/><ellipse cx="1039.0" cy="801.3" rx="7.1" ry="7.4" fill="#b01030" opacity="0.30"/><ellipse cx="1059.3" cy="803.0" rx="8.7" ry="6.9" fill="#b01030" opacity="0.28"/><ellipse cx="971.7" cy="807.8" rx="6.5" ry="6.9" fill="#b01030" opacity="0.25"/><ellipse cx="1002.0" cy="810.4" rx="8.2" ry="8.6" fill="#b01030" opacity="0.34"/><ellipse cx="1015.7" cy="810.0" rx="7.6" ry="10.3" fill="#b01030" opacity="0.24"/><ellipse cx="1024.8" cy="808.8" rx="6.5" ry="8.6" fill="#b01030" opacity="0.34"/><ellipse cx="1049.7" cy="810.4" rx="6.5" ry="8.0" fill="#b01030" opacity="0.23"/><ellipse cx="1056.1" cy="811.8" rx="8.2" ry="9.1" fill="#b01030" opacity="0.31"/><ellipse cx="962.2" cy="814.3" rx="6.0" ry="9.1" fill="#b01030" opacity="0.25"/><ellipse cx="979.6" cy="816.1" rx="7.6" ry="6.3" fill="#b01030" opacity="0.26"/><ellipse cx="1067.4" cy="816.7" rx="3.3" ry="6.9" fill="#b01030" opacity="0.28"/><ellipse cx="951.9" cy="816.4" rx="2.2" ry="5.7" fill="#b01030" opacity="0.27"/><ellipse cx="1007.4" cy="821.7" rx="7.6" ry="9.1" fill="#b01030" opacity="0.26"/><ellipse cx="1014.5" cy="823.6" rx="6.0" ry="6.3" fill="#b01030" opacity="0.18"/><ellipse cx="1039.5" cy="819.9" rx="8.7" ry="7.4" fill="#b01030" opacity="0.20"/><ellipse cx="956.6" cy="826.6" rx="6.0" ry="6.9" fill="#b01030" opacity="0.33"/><ellipse cx="980.1" cy="825.4" rx="8.2" ry="6.3" fill="#b01030" opacity="0.23"/><ellipse cx="1017.3" cy="826.5" rx="6.0" ry="6.9" fill="#b01030" opacity="0.32"/><ellipse cx="1030.8" cy="825.7" rx="8.2" ry="6.9" fill="#b01030" opacity="0.21"/><ellipse cx="1061.9" cy="826.3" rx="10.3" ry="8.0" fill="#b01030" opacity="0.31"/><ellipse cx="1000.7" cy="830.1" rx="7.1" ry="6.9" fill="#b01030" opacity="0.23"/><ellipse cx="1009.7" cy="831.5" rx="6.0" ry="6.9" fill="#b01030" opacity="0.35"/><ellipse cx="969.0" cy="834.8" rx="6.5" ry="9.1" fill="#b01030" opacity="0.23"/><ellipse cx="984.7" cy="833.5" rx="6.5" ry="8.0" fill="#b01030" opacity="0.35"/><ellipse cx="990.5" cy="831.5" rx="7.6" ry="9.7" fill="#b01030" opacity="0.25"/><ellipse cx="1047.5" cy="835.0" rx="6.5" ry="9.7" fill="#b01030" opacity="0.24"/><ellipse cx="977.7" cy="836.1" rx="7.6" ry="5.7" fill="#b01030" opacity="0.26"/><ellipse cx="1008.4" cy="839.5" rx="8.7" ry="8.0" fill="#b01030" opacity="0.20"/><ellipse cx="1031.5" cy="840.0" rx="9.2" ry="7.4" fill="#b01030" opacity="0.23"/><ellipse cx="1066.6" cy="836.0" rx="4.4" ry="8.0" fill="#b01030" opacity="0.27"/><ellipse cx="978.6" cy="845.3" rx="9.2" ry="7.4" fill="#b01030" opacity="0.19"/><ellipse cx="1066.4" cy="845.1" rx="3.3" ry="6.9" fill="#b01030" opacity="0.36"/><ellipse cx="1054.2" cy="847.1" rx="7.6" ry="8.0" fill="#b01030" opacity="0.35"/><ellipse cx="1001.9" cy="848.1" rx="8.7" ry="9.1" fill="#b01030" opacity="0.23"/><ellipse cx="978.6" cy="853.2" rx="9.8" ry="8.0" fill="#b01030" opacity="0.19"/><ellipse cx="992.5" cy="855.1" rx="7.1" ry="7.4" fill="#b01030" opacity="0.24"/><ellipse cx="989.2" cy="860.4" rx="7.6" ry="3.4" fill="#b01030" opacity="0.33"/></g><g filter="url(#hz)"><ellipse cx="964.9" cy="775.4" rx="6.5" ry="3.4" fill="#18a020" opacity="0.33"/><ellipse cx="1004.2" cy="778.1" rx="7.6" ry="5.7" fill="#18a020" opacity="0.27"/><ellipse cx="1021.5" cy="775.5" rx="7.6" ry="4.0" fill="#18a020" opacity="0.31"/><ellipse cx="964.4" cy="782.9" rx="7.6" ry="7.4" fill="#18a020" opacity="0.27"/><ellipse cx="969.7" cy="784.0" rx="6.0" ry="11.4" fill="#18a020" opacity="0.23"/><ellipse cx="998.5" cy="783.6" rx="8.7" ry="8.0" fill="#18a020" opacity="0.17"/><ellipse cx="1038.4" cy="780.9" rx="8.7" ry="8.6" fill="#18a020" opacity="0.15"/><ellipse cx="1020.4" cy="785.0" rx="7.6" ry="6.9" fill="#18a020" opacity="0.25"/><ellipse cx="1050.6" cy="785.9" rx="8.2" ry="7.4" fill="#18a020" opacity="0.32"/><ellipse cx="1065.0" cy="788.8" rx="6.5" ry="8.0" fill="#18a020" opacity="0.22"/><ellipse cx="964.6" cy="790.4" rx="7.1" ry="7.4" fill="#18a020" opacity="0.16"/><ellipse cx="974.6" cy="789.5" rx="7.1" ry="8.0" fill="#18a020" opacity="0.16"/><ellipse cx="1007.2" cy="788.1" rx="10.9" ry="7.4" fill="#18a020" opacity="0.31"/><ellipse cx="994.2" cy="795.3" rx="8.7" ry="10.9" fill="#18a020" opacity="0.24"/><ellipse cx="1032.5" cy="794.4" rx="9.8" ry="8.0" fill="#18a020" opacity="0.32"/><ellipse cx="1060.9" cy="797.5" rx="8.7" ry="7.4" fill="#18a020" opacity="0.30"/><ellipse cx="963.8" cy="800.8" rx="7.1" ry="8.6" fill="#18a020" opacity="0.34"/><ellipse cx="991.9" cy="806.0" rx="9.8" ry="9.1" fill="#18a020" opacity="0.15"/><ellipse cx="1056.2" cy="803.9" rx="8.7" ry="6.9" fill="#18a020" opacity="0.19"/><ellipse cx="1030.7" cy="804.0" rx="9.8" ry="8.0" fill="#18a020" opacity="0.27"/><ellipse cx="1023.1" cy="810.4" rx="6.5" ry="8.6" fill="#18a020" opacity="0.17"/><ellipse cx="1058.5" cy="813.4" rx="8.2" ry="9.1" fill="#18a020" opacity="0.17"/><ellipse cx="961.5" cy="815.1" rx="6.0" ry="9.1" fill="#18a020" opacity="0.31"/><ellipse cx="982.8" cy="814.7" rx="7.6" ry="6.3" fill="#18a020" opacity="0.17"/><ellipse cx="990.8" cy="815.0" rx="6.0" ry="8.6" fill="#18a020" opacity="0.23"/><ellipse cx="952.6" cy="816.3" rx="2.2" ry="5.7" fill="#18a020" opacity="0.31"/><ellipse cx="1008.3" cy="820.8" rx="7.6" ry="9.1" fill="#18a020" opacity="0.30"/><ellipse cx="1014.3" cy="820.9" rx="6.0" ry="6.3" fill="#18a020" opacity="0.20"/><ellipse cx="1041.9" cy="817.3" rx="8.7" ry="7.4" fill="#18a020" opacity="0.27"/><ellipse cx="953.7" cy="825.3" rx="6.0" ry="6.9" fill="#18a020" opacity="0.17"/><ellipse cx="980.9" cy="827.4" rx="8.2" ry="6.3" fill="#18a020" opacity="0.34"/><ellipse cx="1017.1" cy="825.9" rx="6.0" ry="6.9" fill="#18a020" opacity="0.35"/><ellipse cx="1029.2" cy="823.8" rx="8.2" ry="6.9" fill="#18a020" opacity="0.29"/><ellipse cx="1058.2" cy="824.0" rx="10.3" ry="8.0" fill="#18a020" opacity="0.26"/><ellipse cx="1000.1" cy="829.6" rx="7.1" ry="6.9" fill="#18a020" opacity="0.35"/><ellipse cx="1011.7" cy="831.8" rx="6.0" ry="6.9" fill="#18a020" opacity="0.24"/><ellipse cx="985.5" cy="833.7" rx="6.5" ry="8.0" fill="#18a020" opacity="0.33"/><ellipse cx="990.9" cy="832.2" rx="7.6" ry="9.7" fill="#18a020" opacity="0.34"/><ellipse cx="1047.5" cy="833.9" rx="6.5" ry="9.7" fill="#18a020" opacity="0.26"/><ellipse cx="978.2" cy="838.6" rx="7.6" ry="5.7" fill="#18a020" opacity="0.30"/><ellipse cx="1008.4" cy="839.1" rx="8.7" ry="8.0" fill="#18a020" opacity="0.21"/><ellipse cx="1028.7" cy="839.8" rx="9.2" ry="7.4" fill="#18a020" opacity="0.25"/><ellipse cx="1065.5" cy="834.6" rx="4.4" ry="8.0" fill="#18a020" opacity="0.27"/><ellipse cx="978.3" cy="845.9" rx="9.2" ry="7.4" fill="#18a020" opacity="0.33"/><ellipse cx="1065.6" cy="845.7" rx="3.3" ry="6.9" fill="#18a020" opacity="0.19"/><ellipse cx="1054.6" cy="845.4" rx="7.6" ry="8.0" fill="#18a020" opacity="0.16"/><ellipse cx="1003.8" cy="849.8" rx="8.7" ry="9.1" fill="#18a020" opacity="0.34"/><ellipse cx="1026.7" cy="850.3" rx="7.6" ry="6.9" fill="#18a020" opacity="0.28"/><ellipse cx="982.3" cy="852.1" rx="9.8" ry="8.0" fill="#18a020" opacity="0.36"/><ellipse cx="989.0" cy="861.8" rx="7.6" ry="3.4" fill="#18a020" opacity="0.16"/></g><ellipse cx="1001.4" cy="810.1" rx="7.0" ry="7.5" fill="#e0c020" opacity="0.65" filter="url(#hot)"/><ellipse cx="1013.0" cy="827.4" rx="7.0" ry="7.5" fill="#40d030" opacity="0.65" filter="url(#hot)"/><ellipse cx="991.0" cy="814.4" rx="5.6" ry="6.0" fill="#40d030" opacity="0.39" filter="url(#hot)"/><ellipse cx="1031.5" cy="803.2" rx="5.6" ry="6.0" fill="#40d030" opacity="0.39" filter="url(#hot)"/><g filter="url(#nuc)"><ellipse cx="964.5" cy="776.6" rx="3.3" ry="1.6" transform="rotate(-8 964.5 776.6)" fill="#1515be"/><ellipse cx="1002.9" cy="777.6" rx="3.8" ry="2.7" transform="rotate(-3 1002.9 777.6)" fill="#1616bf"/><ellipse cx="1022.1" cy="777.1" rx="3.8" ry="1.9" transform="rotate(-13 1022.1 777.1)" fill="#1717c5"/><ellipse cx="1045.6" cy="777.6" rx="2.2" ry="2.7" transform="rotate(13 1045.6 777.6)" fill="#1818ce"/><ellipse cx="962.4" cy="783.5" rx="3.8" ry="3.5" transform="rotate(8 962.4 783.5)" fill="#1616c1"/><ellipse cx="970.9" cy="783.0" rx="3.0" ry="5.4" transform="rotate(1 970.9 783.0)" fill="#1616c2"/><ellipse cx="998.1" cy="784.6" rx="4.4" ry="3.8" transform="rotate(-10 998.1 784.6)" fill="#1515be"/><ellipse cx="1037.1" cy="781.4" rx="4.4" ry="4.1" transform="rotate(-9 1037.1 781.4)" fill="#1919d1"/><ellipse cx="1018.9" cy="786.7" rx="3.8" ry="3.3" transform="rotate(10 1018.9 786.7)" fill="#1818ce"/><ellipse cx="1051.5" cy="786.2" rx="4.1" ry="3.5" transform="rotate(9 1051.5 786.2)" fill="#1616c0"/><ellipse cx="1063.2" cy="789.9" rx="3.3" ry="3.8" transform="rotate(-6 1063.2 789.9)" fill="#1717ca"/><ellipse cx="963.5" cy="792.0" rx="3.5" ry="3.5" transform="rotate(7 963.5 792.0)" fill="#1818cf"/><ellipse cx="975.7" cy="790.4" rx="3.5" ry="3.8" transform="rotate(11 975.7 790.4)" fill="#1515be"/><ellipse cx="1007.2" cy="789.9" rx="5.4" ry="3.5" transform="rotate(3 1007.2 789.9)" fill="#1818cb"/><ellipse cx="993.3" cy="794.7" rx="4.4" ry="5.2" transform="rotate(0 993.3 794.7)" fill="#1616c0"/><ellipse cx="1030.7" cy="792.6" rx="4.9" ry="3.8" transform="rotate(-1 1030.7 792.6)" fill="#1515be"/><ellipse cx="1044.0" cy="792.6" rx="3.3" ry="3.8" transform="rotate(13 1044.0 792.6)" fill="#1818cf"/><ellipse cx="955.5" cy="799.5" rx="2.7" ry="4.9" transform="rotate(1 955.5 799.5)" fill="#1616c2"/><ellipse cx="1014.7" cy="797.4" rx="6.3" ry="4.4" transform="rotate(12 1014.7 797.4)" fill="#1717c9"/><ellipse cx="1060.5" cy="797.9" rx="4.4" ry="3.5" transform="rotate(11 1060.5 797.9)" fill="#1818cf"/><ellipse cx="974.1" cy="799.0" rx="4.1" ry="3.0" transform="rotate(0 974.1 799.0)" fill="#1717c5"/><ellipse cx="964.0" cy="802.7" rx="3.5" ry="4.1" transform="rotate(3 964.0 802.7)" fill="#1717c5"/><ellipse cx="978.9" cy="804.3" rx="4.4" ry="5.2" transform="rotate(-10 978.9 804.3)" fill="#1616c3"/><ellipse cx="990.7" cy="804.8" rx="4.9" ry="4.4" transform="rotate(9 990.7 804.8)" fill="#1515bd"/><ellipse cx="1039.7" cy="800.6" rx="3.5" ry="3.5" transform="rotate(-14 1039.7 800.6)" fill="#1717ca"/><ellipse cx="1057.3" cy="803.8" rx="4.4" ry="3.3" transform="rotate(-7 1057.3 803.8)" fill="#1717c8"/><ellipse cx="1031.7" cy="805.4" rx="4.9" ry="3.8" transform="rotate(-1 1031.7 805.4)" fill="#1616c3"/><ellipse cx="970.4" cy="809.6" rx="3.3" ry="3.3" transform="rotate(15 970.4 809.6)" fill="#1616c0"/><ellipse cx="1000.3" cy="809.6" rx="4.1" ry="4.1" transform="rotate(-3 1000.3 809.6)" fill="#1616c0"/><ellipse cx="1015.2" cy="811.8" rx="3.8" ry="4.9" transform="rotate(4 1015.2 811.8)" fill="#1616c2"/><ellipse cx="1024.3" cy="810.2" rx="3.3" ry="4.1" transform="rotate(-4 1024.3 810.2)" fill="#1818cd"/><ellipse cx="1048.3" cy="811.2" rx="3.3" ry="3.8" transform="rotate(-5 1048.3 811.2)" fill="#1717c8"/><ellipse cx="1056.8" cy="812.8" rx="4.1" ry="4.4" transform="rotate(12 1056.8 812.8)" fill="#1515be"/><ellipse cx="961.9" cy="815.0" rx="3.0" ry="4.4" transform="rotate(-13 961.9 815.0)" fill="#1616c1"/><ellipse cx="981.1" cy="815.0" rx="3.8" ry="3.0" transform="rotate(8 981.1 815.0)" fill="#1717ca"/><ellipse cx="991.2" cy="816.6" rx="3.0" ry="4.1" transform="rotate(-8 991.2 816.6)" fill="#1616c3"/><ellipse cx="1065.9" cy="815.0" rx="1.6" ry="3.3" transform="rotate(-10 1065.9 815.0)" fill="#1717c6"/><ellipse cx="953.9" cy="817.1" rx="1.1" ry="2.7" transform="rotate(-14 953.9 817.1)" fill="#1818cb"/><ellipse cx="1006.7" cy="820.3" rx="3.8" ry="4.4" transform="rotate(12 1006.7 820.3)" fill="#1919d1"/><ellipse cx="1012.5" cy="822.4" rx="3.0" ry="3.0" transform="rotate(7 1012.5 822.4)" fill="#1919d1"/><ellipse cx="1041.3" cy="818.2" rx="4.4" ry="3.5" transform="rotate(-14 1041.3 818.2)" fill="#1616c2"/><ellipse cx="955.5" cy="825.6" rx="3.0" ry="3.3" transform="rotate(14 955.5 825.6)" fill="#1818cd"/><ellipse cx="981.1" cy="825.6" rx="4.1" ry="3.0" transform="rotate(-3 981.1 825.6)" fill="#1919d1"/><ellipse cx="1016.3" cy="826.2" rx="3.0" ry="3.3" transform="rotate(4 1016.3 826.2)" fill="#1818ce"/><ellipse cx="1030.1" cy="825.1" rx="4.1" ry="3.3" transform="rotate(-6 1030.1 825.1)" fill="#1616c0"/><ellipse cx="1060.0" cy="824.6" rx="5.2" ry="3.8" transform="rotate(-2 1060.0 824.6)" fill="#1616bf"/><ellipse cx="1000.3" cy="829.4" rx="3.5" ry="3.3" transform="rotate(-4 1000.3 829.4)" fill="#1919d1"/><ellipse cx="1009.9" cy="830.4" rx="3.0" ry="3.3" transform="rotate(-5 1009.9 830.4)" fill="#1515bc"/><ellipse cx="970.9" cy="833.6" rx="3.3" ry="4.4" transform="rotate(-14 970.9 833.6)" fill="#1616bf"/><ellipse cx="984.3" cy="834.2" rx="3.3" ry="3.8" transform="rotate(9 984.3 834.2)" fill="#1616c4"/><ellipse cx="991.7" cy="833.1" rx="3.8" ry="4.6" transform="rotate(-6 991.7 833.1)" fill="#1515be"/><ellipse cx="1047.7" cy="834.2" rx="3.3" ry="4.6" transform="rotate(14 1047.7 834.2)" fill="#1717c5"/><ellipse cx="978.4" cy="836.8" rx="3.8" ry="2.7" transform="rotate(-9 978.4 836.8)" fill="#1515bd"/><ellipse cx="1008.8" cy="841.1" rx="4.4" ry="3.8" transform="rotate(-13 1008.8 841.1)" fill="#1616bf"/><ellipse cx="1029.6" cy="840.0" rx="4.6" ry="3.5" transform="rotate(5 1029.6 840.0)" fill="#2828ef"/><ellipse cx="1065.3" cy="835.2" rx="2.2" ry="3.8" transform="rotate(-11 1065.3 835.2)" fill="#1515bd"/><ellipse cx="980.0" cy="844.3" rx="4.6" ry="3.5" transform="rotate(-0 980.0 844.3)" fill="#1616c1"/><ellipse cx="1065.9" cy="843.8" rx="1.6" ry="3.3" transform="rotate(15 1065.9 843.8)" fill="#1616be"/><ellipse cx="1053.6" cy="845.4" rx="3.8" ry="3.8" transform="rotate(1 1053.6 845.4)" fill="#2828ef"/><ellipse cx="1003.5" cy="849.1" rx="4.4" ry="4.4" transform="rotate(8 1003.5 849.1)" fill="#1717c5"/><ellipse cx="1028.5" cy="851.2" rx="3.8" ry="3.3" transform="rotate(15 1028.5 851.2)" fill="#1717c6"/><ellipse cx="980.5" cy="853.4" rx="4.9" ry="3.8" transform="rotate(-8 980.5 853.4)" fill="#1717c5"/><ellipse cx="994.4" cy="856.0" rx="3.5" ry="3.5" transform="rotate(-14 994.4 856.0)" fill="#1717c5"/><ellipse cx="1057.3" cy="853.4" rx="3.3" ry="3.8" transform="rotate(-8 1057.3 853.4)" fill="#1818d0"/><ellipse cx="990.1" cy="859.8" rx="3.8" ry="1.6" transform="rotate(10 990.1 859.8)" fill="#1717c7"/></g><rect x="1055.4" y="858.4" width="11" height="1.7" fill="#f4f4f4"/></g>
<text x="536.5" y="550.5" font-size="16" text-anchor="middle" textLength="57" lengthAdjust="spacingAndGlyphs" >Control</text>
<text x="534.0" y="631.8" font-size="16" text-anchor="middle" textLength="43" lengthAdjust="spacingAndGlyphs" >5 mM</text>
<text x="536.0" y="654.4" font-size="16" text-anchor="middle" textLength="60.5" lengthAdjust="spacingAndGlyphs" >Glucose</text>
<text x="534.0" y="726.0" font-size="16" text-anchor="middle" textLength="52" lengthAdjust="spacingAndGlyphs" >10 mM</text>
<text x="536.0" y="748.1" font-size="16" text-anchor="middle" textLength="60.5" lengthAdjust="spacingAndGlyphs" >Glucose</text>
<text x="534.0" y="814.2" font-size="16" text-anchor="middle" textLength="52" lengthAdjust="spacingAndGlyphs" >30 mM</text>
<text x="536.0" y="836.8" font-size="16" text-anchor="middle" textLength="60.5" lengthAdjust="spacingAndGlyphs" >Glucose</text>
<text x="0" y="0" font-size="34" transform="translate(30.77 891.30) scale(0.8397 1)" >G</text>
<text x="285.0" y="893.5" font-size="14.2" text-anchor="middle" textLength="103.5" lengthAdjust="spacingAndGlyphs" >30 mM glucose</text>
<line x1="135.3" y1="897.6" x2="441.0" y2="897.6" stroke="#000" stroke-width="1.0" />
<text x="110.8" y="913.6" font-size="14.6" text-anchor="middle" >Sal</text>
<text x="157.0" y="913.6" font-size="14.6" text-anchor="middle" >12</text>
<text x="200.0" y="913.6" font-size="14.6" text-anchor="middle" >24</text>
<text x="242.8" y="913.6" font-size="14.6" text-anchor="middle" >48</text>
<text x="285.8" y="913.6" font-size="14.6" text-anchor="middle" >72</text>
<text x="329.5" y="913.6" font-size="14.6" text-anchor="middle" >96</text>
<text x="372.5" y="913.6" font-size="14.6" text-anchor="middle" >108</text>
<text x="420.0" y="913.6" font-size="14.6" text-anchor="middle" >120</text>
<text x="441.2" y="913.2" font-size="9.5" text-anchor="middle" >(h)</text>
<text x="451.4" y="926.2" font-size="9.8" >kDa</text>
<rect x="93.0" y="924.0" width="348.0" height="40.0" fill="#f4f4f4" filter="url(#nb)"/>
<rect x="97.4" y="942.8" width="32.0" height="7.5" rx="6" ry="3.8" fill="#7a7a7a" opacity="0.26" filter="url(#bl2)"/>
<rect x="96.4" y="944.2" width="34.0" height="4.5" rx="7.0" ry="2.2" fill="#7a7a7a" filter="url(#bl)"/>
<rect x="140.5" y="942.6" width="31.1" height="7.8" rx="6" ry="3.9" fill="#686868" opacity="0.26" filter="url(#bl2)"/>
<rect x="139.5" y="944.1" width="33.1" height="4.8" rx="7.0" ry="2.4" fill="#686868" filter="url(#bl)"/>
<rect x="184.0" y="942.8" width="31.4" height="7.5" rx="6" ry="3.8" fill="#787878" opacity="0.26" filter="url(#bl2)"/>
<rect x="183.0" y="944.2" width="33.4" height="4.5" rx="7.0" ry="2.2" fill="#787878" filter="url(#bl)"/>
<rect x="227.1" y="942.5" width="32.1" height="8.0" rx="6" ry="4.0" fill="#505050" opacity="0.26" filter="url(#bl2)"/>
<rect x="226.1" y="944.0" width="34.1" height="5.0" rx="7.0" ry="2.5" fill="#505050" filter="url(#bl)"/>
<rect x="269.3" y="941.2" width="33.7" height="10.5" rx="6" ry="5.2" fill="#000" opacity="0.14" filter="url(#bl2)"/>
<rect x="268.3" y="942.8" width="35.7" height="7.5" rx="7.0" ry="3.8" fill="#000" filter="url(#bl)"/>
<rect x="313.1" y="941.8" width="33.7" height="9.5" rx="6" ry="4.8" fill="#050505" opacity="0.26" filter="url(#bl2)"/>
<rect x="312.1" y="943.2" width="35.7" height="6.5" rx="7.0" ry="3.2" fill="#050505" filter="url(#bl)"/>
<rect x="357.9" y="942.2" width="31.7" height="8.5" rx="6" ry="4.2" fill="#202020" opacity="0.26" filter="url(#bl2)"/>
<rect x="356.9" y="943.8" width="33.7" height="5.5" rx="7.0" ry="2.8" fill="#202020" filter="url(#bl)"/>
<rect x="402.4" y="942.9" width="30.4" height="7.2" rx="6" ry="3.6" fill="#8a8a8a" opacity="0.26" filter="url(#bl2)"/>
<rect x="401.4" y="944.4" width="32.4" height="4.2" rx="7.0" ry="2.1" fill="#8a8a8a" filter="url(#bl)"/>
<rect x="88.9" y="919.9" width="356.9" height="48.6" fill="none" stroke="#000" stroke-width="2.0" />
<rect x="98.4" y="935.3" width="30.0" height="6.2" rx="6" ry="3.1" fill="#d8d8d8" opacity="0.26" filter="url(#bl2)"/>
<rect x="97.4" y="936.8" width="32.0" height="3.2" rx="7.0" ry="1.6" fill="#d8d8d8" filter="url(#bl)"/>
<rect x="141.5" y="935.3" width="29.1" height="6.2" rx="6" ry="3.1" fill="#cfcfcf" opacity="0.26" filter="url(#bl2)"/>
<rect x="140.5" y="936.8" width="31.1" height="3.2" rx="7.0" ry="1.6" fill="#cfcfcf" filter="url(#bl)"/>
<rect x="185.0" y="935.3" width="29.4" height="6.2" rx="6" ry="3.1" fill="#d8d8d8" opacity="0.26" filter="url(#bl2)"/>
<rect x="184.0" y="936.8" width="31.4" height="3.2" rx="7.0" ry="1.6" fill="#d8d8d8" filter="url(#bl)"/>
<rect x="228.1" y="935.3" width="30.1" height="6.2" rx="6" ry="3.1" fill="#c4c4c4" opacity="0.26" filter="url(#bl2)"/>
<rect x="227.1" y="936.8" width="32.1" height="3.2" rx="7.0" ry="1.6" fill="#c4c4c4" filter="url(#bl)"/>
<rect x="270.3" y="935.3" width="31.7" height="6.2" rx="6" ry="3.1" fill="#8a8a8a" opacity="0.26" filter="url(#bl2)"/>
<rect x="269.3" y="936.8" width="33.7" height="3.2" rx="7.0" ry="1.6" fill="#8a8a8a" filter="url(#bl)"/>
<rect x="314.1" y="935.3" width="31.7" height="6.2" rx="6" ry="3.1" fill="#a0a0a0" opacity="0.26" filter="url(#bl2)"/>
<rect x="313.1" y="936.8" width="33.7" height="3.2" rx="7.0" ry="1.6" fill="#a0a0a0" filter="url(#bl)"/>
<rect x="358.9" y="935.3" width="29.7" height="6.2" rx="6" ry="3.1" fill="#b8b8b8" opacity="0.26" filter="url(#bl2)"/>
<rect x="357.9" y="936.8" width="31.7" height="3.2" rx="7.0" ry="1.6" fill="#b8b8b8" filter="url(#bl)"/>
<rect x="403.4" y="935.3" width="28.4" height="6.2" rx="6" ry="3.1" fill="#d6d6d6" opacity="0.26" filter="url(#bl2)"/>
<rect x="402.4" y="936.8" width="30.4" height="3.2" rx="7.0" ry="1.6" fill="#d6d6d6" filter="url(#bl)"/>
<text x="455.5" y="947.9" font-size="12.9" >47</text>
<text x="80.5" y="953.2" font-size="15" text-anchor="end" >p47<tspan font-size="10" dy="-5.0">phox</tspan><tspan dy="5"> (M)</tspan></text>
<rect x="92.0" y="980.0" width="351.0" height="36.0" fill="#f2f2f2" filter="url(#nb)"/>
<rect x="95.0" y="991.3" width="32.8" height="8.6" rx="6" ry="4.3" fill="#000" opacity="0.14" filter="url(#bl2)"/>
<rect x="94.0" y="992.8" width="34.8" height="5.6" rx="7.0" ry="2.8" fill="#000" filter="url(#bl)"/>
<rect x="139.5" y="991.3" width="33.1" height="8.6" rx="6" ry="4.3" fill="#000" opacity="0.14" filter="url(#bl2)"/>
<rect x="138.5" y="992.8" width="35.1" height="5.6" rx="7.0" ry="2.8" fill="#000" filter="url(#bl)"/>
<rect x="183.7" y="991.3" width="33.6" height="8.6" rx="6" ry="4.3" fill="#000" opacity="0.14" filter="url(#bl2)"/>
<rect x="182.7" y="992.8" width="35.6" height="5.6" rx="7.0" ry="2.8" fill="#000" filter="url(#bl)"/>
<rect x="227.8" y="991.3" width="33.9" height="8.6" rx="6" ry="4.3" fill="#000" opacity="0.14" filter="url(#bl2)"/>
<rect x="226.8" y="992.8" width="35.9" height="5.6" rx="7.0" ry="2.8" fill="#000" filter="url(#bl)"/>
<rect x="272.2" y="991.3" width="33.6" height="8.6" rx="6" ry="4.3" fill="#000" opacity="0.14" filter="url(#bl2)"/>
<rect x="271.2" y="992.8" width="35.6" height="5.6" rx="7.0" ry="2.8" fill="#000" filter="url(#bl)"/>
<rect x="316.0" y="991.3" width="33.6" height="8.6" rx="6" ry="4.3" fill="#000" opacity="0.14" filter="url(#bl2)"/>
<rect x="315.0" y="992.8" width="35.6" height="5.6" rx="7.0" ry="2.8" fill="#000" filter="url(#bl)"/>
<rect x="361.8" y="991.3" width="33.5" height="8.6" rx="6" ry="4.3" fill="#000" opacity="0.14" filter="url(#bl2)"/>
<rect x="360.8" y="992.8" width="35.5" height="5.6" rx="7.0" ry="2.8" fill="#000" filter="url(#bl)"/>
<rect x="406.8" y="991.3" width="33.8" height="8.6" rx="6" ry="4.3" fill="#000" opacity="0.14" filter="url(#bl2)"/>
<rect x="405.8" y="992.8" width="35.8" height="5.6" rx="7.0" ry="2.8" fill="#000" filter="url(#bl)"/>
<rect x="88.9" y="973.4" width="356.9" height="48.7" fill="none" stroke="#000" stroke-width="2.0" />
<text x="454.2" y="1000.2" font-size="11.8" >100</text>
<text x="22.0" y="987.6" font-size="15" >Na<tspan font-size="9.5" dy="-5.5">+</tspan><tspan dy="5.5">/K</tspan><tspan font-size="9.5" dy="-5.5">+</tspan><tspan dy="5.5"> -</tspan></text>
<text x="23.0" y="1006.4" font-size="15" >ATPase</text>
<text x="281.6" y="1058.7" font-size="14.2" text-anchor="middle" textLength="103.5" lengthAdjust="spacingAndGlyphs" >30 mM glucose</text>
<line x1="132.3" y1="1062.0" x2="437.3" y2="1062.0" stroke="#000" stroke-width="1.0" />
<text x="108.8" y="1079.3" font-size="14.6" text-anchor="middle" >Sal</text>
<text x="154.4" y="1079.3" font-size="14.6" text-anchor="middle" >12</text>
<text x="197.5" y="1079.3" font-size="14.6" text-anchor="middle" >24</text>
<text x="240.2" y="1079.3" font-size="14.6" text-anchor="middle" >48</text>
<text x="281.6" y="1079.3" font-size="14.6" text-anchor="middle" >72</text>
<text x="325.5" y="1079.3" font-size="14.6" text-anchor="middle" >96</text>
<text x="369.0" y="1079.3" font-size="14.6" text-anchor="middle" >108</text>
<text x="413.0" y="1079.3" font-size="14.6" text-anchor="middle" >120</text>
<text x="436.0" y="1078.8" font-size="9.5" text-anchor="middle" >(h)</text>
<text x="451.4" y="1093.5" font-size="9.8" >kDa</text>
<rect x="91.0" y="1089.0" width="349.0" height="42.0" fill="#fbfbfb" filter="url(#nb)"/>
<rect x="98.0" y="1107.0" width="35.0" height="9.0" rx="6" ry="4.5" fill="#101010" opacity="0.26" filter="url(#bl2)"/>
<rect x="97.0" y="1108.5" width="37.0" height="6.0" rx="7.0" ry="3.0" fill="#101010" filter="url(#bl)"/>
<rect x="143.5" y="1107.2" width="30.3" height="8.5" rx="6" ry="4.2" fill="#202020" opacity="0.26" filter="url(#bl2)"/>
<rect x="142.5" y="1108.8" width="32.3" height="5.5" rx="7.0" ry="2.8" fill="#202020" filter="url(#bl)"/>
<rect x="185.2" y="1107.4" width="32.1" height="8.2" rx="6" ry="4.1" fill="#202020" opacity="0.26" filter="url(#bl2)"/>
<rect x="184.2" y="1108.9" width="34.1" height="5.2" rx="7.0" ry="2.6" fill="#202020" filter="url(#bl)"/>
<rect x="230.6" y="1107.2" width="30.2" height="8.5" rx="6" ry="4.2" fill="#202020" opacity="0.26" filter="url(#bl2)"/>
<rect x="229.6" y="1108.8" width="32.2" height="5.5" rx="7.0" ry="2.8" fill="#202020" filter="url(#bl)"/>
<rect x="271.2" y="1108.0" width="30.4" height="7.0" rx="6" ry="3.5" fill="#9a9a9a" opacity="0.26" filter="url(#bl2)"/>
<rect x="270.2" y="1109.5" width="32.4" height="4.0" rx="7.0" ry="2.0" fill="#9a9a9a" filter="url(#bl)"/>
<rect x="314.4" y="1107.2" width="30.9" height="8.5" rx="6" ry="4.2" fill="#222" opacity="0.26" filter="url(#bl2)"/>
<rect x="313.4" y="1108.8" width="32.9" height="5.5" rx="7.0" ry="2.8" fill="#222" filter="url(#bl)"/>
<rect x="357.0" y="1107.4" width="32.0" height="8.2" rx="6" ry="4.1" fill="#2a2a2a" opacity="0.26" filter="url(#bl2)"/>
<rect x="356.0" y="1108.9" width="34.0" height="5.2" rx="7.0" ry="2.6" fill="#2a2a2a" filter="url(#bl)"/>
<rect x="399.9" y="1107.0" width="33.7" height="9.0" rx="6" ry="4.5" fill="#222" opacity="0.26" filter="url(#bl2)"/>
<rect x="398.9" y="1108.5" width="35.7" height="6.0" rx="7.0" ry="3.0" fill="#222" filter="url(#bl)"/>
<rect x="87.6" y="1085.5" width="356.9" height="49.0" fill="none" stroke="#000" stroke-width="2.0" />
<rect x="96.4" y="1100.5" width="340.6" height="21" fill="#e2e2e2" filter="url(#nb)"/>
<rect x="98.0" y="1107.0" width="35.0" height="9.0" rx="6" ry="4.5" fill="#101010" opacity="0.26" filter="url(#bl2)"/>
<rect x="97.0" y="1108.5" width="37.0" height="6.0" rx="7.0" ry="3.0" fill="#101010" filter="url(#bl)"/>
<rect x="143.5" y="1107.2" width="30.3" height="8.5" rx="6" ry="4.2" fill="#202020" opacity="0.26" filter="url(#bl2)"/>
<rect x="142.5" y="1108.8" width="32.3" height="5.5" rx="7.0" ry="2.8" fill="#202020" filter="url(#bl)"/>
<rect x="185.2" y="1107.4" width="32.1" height="8.2" rx="6" ry="4.1" fill="#202020" opacity="0.26" filter="url(#bl2)"/>
<rect x="184.2" y="1108.9" width="34.1" height="5.2" rx="7.0" ry="2.6" fill="#202020" filter="url(#bl)"/>
<rect x="230.6" y="1107.2" width="30.2" height="8.5" rx="6" ry="4.2" fill="#202020" opacity="0.26" filter="url(#bl2)"/>
<rect x="229.6" y="1108.8" width="32.2" height="5.5" rx="7.0" ry="2.8" fill="#202020" filter="url(#bl)"/>
<rect x="271.2" y="1108.0" width="30.4" height="7.0" rx="6" ry="3.5" fill="#9a9a9a" opacity="0.26" filter="url(#bl2)"/>
<rect x="270.2" y="1109.5" width="32.4" height="4.0" rx="7.0" ry="2.0" fill="#9a9a9a" filter="url(#bl)"/>
<rect x="314.4" y="1107.2" width="30.9" height="8.5" rx="6" ry="4.2" fill="#222" opacity="0.26" filter="url(#bl2)"/>
<rect x="313.4" y="1108.8" width="32.9" height="5.5" rx="7.0" ry="2.8" fill="#222" filter="url(#bl)"/>
<rect x="357.0" y="1107.4" width="32.0" height="8.2" rx="6" ry="4.1" fill="#2a2a2a" opacity="0.26" filter="url(#bl2)"/>
<rect x="356.0" y="1108.9" width="34.0" height="5.2" rx="7.0" ry="2.6" fill="#2a2a2a" filter="url(#bl)"/>
<rect x="399.9" y="1107.0" width="33.7" height="9.0" rx="6" ry="4.5" fill="#222" opacity="0.26" filter="url(#bl2)"/>
<rect x="398.9" y="1108.5" width="35.7" height="6.0" rx="7.0" ry="3.0" fill="#222" filter="url(#bl)"/>
<text x="456.5" y="1115.5" font-size="12.9" >47</text>
<text x="9.4" y="1116.0" font-size="15" >p47<tspan font-size="10" dy="-5.0">phox</tspan><tspan dy="5"> (C)</tspan></text>
<rect x="91.0" y="1146.0" width="350.0" height="38.0" fill="#f3f3f3" filter="url(#nb)"/>
<rect x="95.0" y="1160.5" width="33.8" height="7.8" rx="6" ry="3.9" fill="#000" opacity="0.14" filter="url(#bl2)"/>
<rect x="94.0" y="1162.0" width="35.8" height="4.8" rx="7.0" ry="2.4" fill="#000" filter="url(#bl)"/>
<rect x="139.5" y="1160.8" width="32.1" height="7.2" rx="6" ry="3.6" fill="#000" opacity="0.14" filter="url(#bl2)"/>
<rect x="138.5" y="1162.3" width="34.1" height="4.2" rx="7.0" ry="2.1" fill="#000" filter="url(#bl)"/>
<rect x="183.4" y="1160.7" width="33.0" height="7.4" rx="6" ry="3.7" fill="#000" opacity="0.14" filter="url(#bl2)"/>
<rect x="182.4" y="1162.2" width="35.0" height="4.4" rx="7.0" ry="2.2" fill="#000" filter="url(#bl)"/>
<rect x="227.2" y="1160.5" width="34.2" height="7.8" rx="6" ry="3.9" fill="#000" opacity="0.14" filter="url(#bl2)"/>
<rect x="226.2" y="1162.0" width="36.2" height="4.8" rx="7.0" ry="2.4" fill="#000" filter="url(#bl)"/>
<rect x="271.2" y="1160.3" width="34.3" height="8.2" rx="6" ry="4.1" fill="#000" opacity="0.14" filter="url(#bl2)"/>
<rect x="270.2" y="1161.8" width="36.3" height="5.2" rx="7.0" ry="2.6" fill="#000" filter="url(#bl)"/>
<rect x="314.8" y="1160.1" width="33.0" height="8.6" rx="6" ry="4.3" fill="#000" opacity="0.14" filter="url(#bl2)"/>
<rect x="313.8" y="1161.6" width="35.0" height="5.6" rx="7.0" ry="2.8" fill="#000" filter="url(#bl)"/>
<rect x="357.2" y="1160.3" width="33.7" height="8.2" rx="6" ry="4.1" fill="#000" opacity="0.14" filter="url(#bl2)"/>
<rect x="356.2" y="1161.8" width="35.7" height="5.2" rx="7.0" ry="2.6" fill="#000" filter="url(#bl)"/>
<rect x="402.1" y="1160.6" width="33.0" height="7.6" rx="6" ry="3.8" fill="#000" opacity="0.14" filter="url(#bl2)"/>
<rect x="401.1" y="1162.1" width="35.0" height="4.6" rx="7.0" ry="2.3" fill="#000" filter="url(#bl)"/>
<rect x="87.6" y="1140.0" width="356.9" height="48.7" fill="none" stroke="#000" stroke-width="2.0" />
<text x="454.2" y="1168.0" font-size="11.8" >100</text>
<text x="29.0" y="1169.0" font-size="15" >β-actin</text>
<line x1="561.2" y1="1079.2" x2="561.2" y2="1077.3" stroke="#000" stroke-width="1.8" />
<line x1="556.0" y1="1077.3" x2="566.4" y2="1077.3" stroke="#000" stroke-width="2.2" />
<rect x="550.8" y="1080.1" width="20.8" height="47.1" fill="url(#pSal)" stroke="#000" stroke-width="1.9" />
<line x1="592.1" y1="1070.7" x2="592.1" y2="1068.4" stroke="#000" stroke-width="1.8" />
<line x1="586.9" y1="1068.4" x2="597.3" y2="1068.4" stroke="#000" stroke-width="2.2" />
<rect x="581.7" y="1071.6" width="20.8" height="55.6" fill="url(#p12)" stroke="#000" stroke-width="1.9" />
<text x="585.3" y="1068.5" font-size="14" fill="#333" textLength="13.5" lengthAdjust="spacingAndGlyphs" >**</text>
<line x1="622.9" y1="1075.6" x2="622.9" y2="1073.3" stroke="#000" stroke-width="1.8" />
<line x1="617.7" y1="1073.3" x2="628.1" y2="1073.3" stroke="#000" stroke-width="2.2" />
<rect x="612.5" y="1076.5" width="20.8" height="50.7" fill="url(#p24)" stroke="#000" stroke-width="1.9" />
<line x1="653.7" y1="1057.3" x2="653.7" y2="1054.4" stroke="#000" stroke-width="1.8" />
<line x1="648.5" y1="1054.4" x2="658.9" y2="1054.4" stroke="#000" stroke-width="2.2" />
<rect x="643.3" y="1058.2" width="20.8" height="69.0" fill="url(#p48)" stroke="#000" stroke-width="1.9" />
<text x="643.4" y="1054.5" font-size="14" fill="#333" textLength="20.5" lengthAdjust="spacingAndGlyphs" >***</text>
<line x1="684.5" y1="1004.4" x2="684.5" y2="998.7" stroke="#000" stroke-width="1.8" />
<line x1="679.3" y1="998.7" x2="689.7" y2="998.7" stroke="#000" stroke-width="2.2" />
<rect x="674.1" y="1005.3" width="20.8" height="121.9" fill="url(#p72)" stroke="#000" stroke-width="1.9" />
<text x="670.8" y="997.5" font-size="14" fill="#333" textLength="27.5" lengthAdjust="spacingAndGlyphs" >****</text>
<line x1="715.3" y1="1014.2" x2="715.3" y2="1009.3" stroke="#000" stroke-width="1.8" />
<line x1="710.1" y1="1009.3" x2="720.5" y2="1009.3" stroke="#000" stroke-width="2.2" />
<rect x="704.9" y="1015.1" width="20.8" height="112.1" fill="url(#p96)" stroke="#000" stroke-width="1.9" />
<text x="701.5" y="1008.5" font-size="14" fill="#333" textLength="27.5" lengthAdjust="spacingAndGlyphs" >****</text>
<line x1="746.1" y1="1037.3" x2="746.1" y2="1033.7" stroke="#000" stroke-width="1.8" />
<line x1="740.9" y1="1033.7" x2="751.3" y2="1033.7" stroke="#000" stroke-width="2.2" />
<rect x="735.7" y="1038.2" width="20.8" height="89.0" fill="url(#p108)" stroke="#000" stroke-width="1.9" />
<text x="732.3" y="1032.0" font-size="14" fill="#333" textLength="27.5" lengthAdjust="spacingAndGlyphs" >****</text>
<line x1="776.9" y1="1076.6" x2="776.9" y2="1074.5" stroke="#000" stroke-width="1.8" />
<line x1="771.7" y1="1074.5" x2="782.1" y2="1074.5" stroke="#000" stroke-width="2.2" />
<rect x="766.5" y="1077.5" width="20.8" height="49.7" fill="url(#p120)" stroke="#000" stroke-width="1.9" />
<line x1="546.5" y1="963.0" x2="546.5" y2="1128.2" stroke="#000" stroke-width="1.6" />
<line x1="546.0" y1="1127.2" x2="793.1" y2="1127.2" stroke="#000" stroke-width="2.0" />
<line x1="542.5" y1="1127.2" x2="546.5" y2="1127.2" stroke="#000" stroke-width="1.4" />
<text x="541.0" y="1131.0" font-size="10.8" font-weight="bold" text-anchor="end" >0.0</text>
<line x1="542.5" y1="1094.5" x2="546.5" y2="1094.5" stroke="#000" stroke-width="1.4" />
<text x="541.0" y="1098.3" font-size="10.8" font-weight="bold" text-anchor="end" >0.2</text>
<line x1="542.5" y1="1061.7" x2="546.5" y2="1061.7" stroke="#000" stroke-width="1.4" />
<text x="541.0" y="1065.5" font-size="10.8" font-weight="bold" text-anchor="end" >0.4</text>
<line x1="542.5" y1="1029.0" x2="546.5" y2="1029.0" stroke="#000" stroke-width="1.4" />
<text x="541.0" y="1032.8" font-size="10.8" font-weight="bold" text-anchor="end" >0.6</text>
<line x1="542.5" y1="996.2" x2="546.5" y2="996.2" stroke="#000" stroke-width="1.4" />
<text x="541.0" y="1000.0" font-size="10.8" font-weight="bold" text-anchor="end" >0.8</text>
<line x1="542.5" y1="963.5" x2="546.5" y2="963.5" stroke="#000" stroke-width="1.4" />
<text x="541.0" y="967.3" font-size="10.8" font-weight="bold" text-anchor="end" >1.0</text>
<line x1="561.2" y1="1127.2" x2="561.2" y2="1131.2" stroke="#000" stroke-width="1.4" />
<line x1="592.1" y1="1127.2" x2="592.1" y2="1131.2" stroke="#000" stroke-width="1.4" />
<line x1="622.9" y1="1127.2" x2="622.9" y2="1131.2" stroke="#000" stroke-width="1.4" />
<line x1="653.7" y1="1127.2" x2="653.7" y2="1131.2" stroke="#000" stroke-width="1.4" />
<line x1="684.5" y1="1127.2" x2="684.5" y2="1131.2" stroke="#000" stroke-width="1.4" />
<line x1="715.3" y1="1127.2" x2="715.3" y2="1131.2" stroke="#000" stroke-width="1.4" />
<line x1="746.1" y1="1127.2" x2="746.1" y2="1131.2" stroke="#000" stroke-width="1.4" />
<line x1="776.9" y1="1127.2" x2="776.9" y2="1131.2" stroke="#000" stroke-width="1.4" />
<text x="561.2" y="1148.9" font-size="12" text-anchor="middle" fill="#222" >Sal</text>
<text x="592.1" y="1148.9" font-size="12" text-anchor="middle" fill="#222" >12</text>
<text x="622.9" y="1148.9" font-size="12" text-anchor="middle" fill="#222" >24</text>
<text x="653.7" y="1148.9" font-size="12" text-anchor="middle" fill="#222" >48</text>
<text x="684.5" y="1148.9" font-size="12" text-anchor="middle" fill="#222" >72</text>
<text x="715.3" y="1148.9" font-size="12" text-anchor="middle" fill="#222" >96</text>
<text x="746.1" y="1148.9" font-size="12" text-anchor="middle" fill="#222" >108</text>
<text x="767.4" y="1148.9" font-size="12" fill="#222" >120 (h)</text>
<line x1="582.9" y1="1153.5" x2="797.0" y2="1153.5" stroke="#000" stroke-width="0.9" />
<text x="692.0" y="1167.4" font-size="11.4" text-anchor="middle" fill="#222" >30 mM glucose</text>
<text x="515.5" y="1045.4" font-size="13.4" font-weight="bold" text-anchor="middle" transform="rotate(-90 515.5 1045.4)" >Relative density</text>
<text x="595.0" y="943.5" font-size="15.5" font-weight="bold" >p47<tspan font-size="11.5" dy="-6.4">phox</tspan><tspan dy="6.4"> - membrane</tspan></text>
<line x1="870.9" y1="1005.0" x2="870.9" y2="991.7" stroke="#000" stroke-width="1.8" />
<line x1="865.6" y1="991.7" x2="876.1" y2="991.7" stroke="#000" stroke-width="2.2" />
<rect x="861.4" y="1005.9" width="18.9" height="122.1" fill="url(#pSal)" stroke="#000" stroke-width="1.9" />
<line x1="899.8" y1="1005.0" x2="899.8" y2="991.7" stroke="#000" stroke-width="1.8" />
<line x1="894.5" y1="991.7" x2="905.0" y2="991.7" stroke="#000" stroke-width="2.2" />
<rect x="890.3" y="1005.9" width="18.9" height="122.1" fill="url(#p12)" stroke="#000" stroke-width="1.9" />
<line x1="928.6" y1="1017.3" x2="928.6" y2="1005.0" stroke="#000" stroke-width="1.8" />
<line x1="923.4" y1="1005.0" x2="933.9" y2="1005.0" stroke="#000" stroke-width="2.2" />
<rect x="919.2" y="1018.2" width="18.9" height="109.8" fill="url(#p24)" stroke="#000" stroke-width="1.9" />
<line x1="957.1" y1="1024.5" x2="957.1" y2="1013.7" stroke="#000" stroke-width="1.8" />
<line x1="951.9" y1="1013.7" x2="962.3" y2="1013.7" stroke="#000" stroke-width="2.2" />
<rect x="947.6" y="1025.4" width="18.9" height="102.6" fill="url(#p48)" stroke="#000" stroke-width="1.9" />
<line x1="986.6" y1="1081.4" x2="986.6" y2="1076.8" stroke="#000" stroke-width="1.8" />
<line x1="981.4" y1="1076.8" x2="991.8" y2="1076.8" stroke="#000" stroke-width="2.2" />
<rect x="977.1" y="1082.3" width="18.9" height="45.7" fill="url(#p72)" stroke="#000" stroke-width="1.9" />
<text x="976.3" y="1077.0" font-size="14" fill="#333" textLength="20.5" lengthAdjust="spacingAndGlyphs" >***</text>
<line x1="1015.1" y1="1048.6" x2="1015.1" y2="1039.9" stroke="#000" stroke-width="1.8" />
<line x1="1009.9" y1="1039.9" x2="1020.3" y2="1039.9" stroke="#000" stroke-width="2.2" />
<rect x="1005.6" y="1049.5" width="18.9" height="78.5" fill="url(#p96)" stroke="#000" stroke-width="1.9" />
<text x="1012.1" y="1040.5" font-size="14" fill="#333" textLength="6" lengthAdjust="spacingAndGlyphs" >*</text>
<line x1="1043.9" y1="1049.6" x2="1043.9" y2="1040.9" stroke="#000" stroke-width="1.8" />
<line x1="1038.7" y1="1040.9" x2="1049.1" y2="1040.9" stroke="#000" stroke-width="2.2" />
<rect x="1034.5" y="1050.5" width="18.9" height="77.5" fill="url(#p108)" stroke="#000" stroke-width="1.9" />
<text x="1037.2" y="1041.0" font-size="14" fill="#333" textLength="13.5" lengthAdjust="spacingAndGlyphs" >**</text>
<line x1="1072.8" y1="1021.4" x2="1072.8" y2="1009.1" stroke="#000" stroke-width="1.8" />
<line x1="1067.6" y1="1009.1" x2="1078.0" y2="1009.1" stroke="#000" stroke-width="2.2" />
<rect x="1063.4" y="1022.3" width="18.9" height="105.7" fill="url(#p120)" stroke="#000" stroke-width="1.9" />
<line x1="856.5" y1="973.8" x2="856.5" y2="1129.0" stroke="#000" stroke-width="1.6" />
<line x1="856.0" y1="1128.0" x2="1088.0" y2="1128.0" stroke="#000" stroke-width="2.0" />
<line x1="852.5" y1="1128.0" x2="856.5" y2="1128.0" stroke="#000" stroke-width="1.4" />
<text x="851.0" y="1131.8" font-size="11.2" text-anchor="end" stroke="#000" stroke-width="0.4">0.0</text>
<line x1="852.5" y1="1076.8" x2="856.5" y2="1076.8" stroke="#000" stroke-width="1.4" />
<text x="851.0" y="1080.6" font-size="11.2" text-anchor="end" stroke="#000" stroke-width="0.4">0.5</text>
<line x1="852.5" y1="1025.5" x2="856.5" y2="1025.5" stroke="#000" stroke-width="1.4" />
<text x="851.0" y="1029.3" font-size="11.2" text-anchor="end" stroke="#000" stroke-width="0.4">1.0</text>
<line x1="852.5" y1="974.3" x2="856.5" y2="974.3" stroke="#000" stroke-width="1.4" />
<text x="851.0" y="978.1" font-size="11.2" text-anchor="end" stroke="#000" stroke-width="0.4">1.5</text>
<line x1="870.9" y1="1128.0" x2="870.9" y2="1132.0" stroke="#000" stroke-width="1.4" />
<line x1="899.8" y1="1128.0" x2="899.8" y2="1132.0" stroke="#000" stroke-width="1.4" />
<line x1="928.6" y1="1128.0" x2="928.6" y2="1132.0" stroke="#000" stroke-width="1.4" />
<line x1="957.1" y1="1128.0" x2="957.1" y2="1132.0" stroke="#000" stroke-width="1.4" />
<line x1="986.6" y1="1128.0" x2="986.6" y2="1132.0" stroke="#000" stroke-width="1.4" />
<line x1="1015.1" y1="1128.0" x2="1015.1" y2="1132.0" stroke="#000" stroke-width="1.4" />
<line x1="1043.9" y1="1128.0" x2="1043.9" y2="1132.0" stroke="#000" stroke-width="1.4" />
<line x1="1072.8" y1="1128.0" x2="1072.8" y2="1132.0" stroke="#000" stroke-width="1.4" />
<text x="870.9" y="1147.6" font-size="12" text-anchor="middle" fill="#222" >Sal</text>
<text x="899.8" y="1147.6" font-size="12" text-anchor="middle" fill="#222" >12</text>
<text x="928.6" y="1147.6" font-size="12" text-anchor="middle" fill="#222" >24</text>
<text x="957.1" y="1147.6" font-size="12" text-anchor="middle" fill="#222" >48</text>
<text x="986.6" y="1147.6" font-size="12" text-anchor="middle" fill="#222" >72</text>
<text x="1015.1" y="1147.6" font-size="12" text-anchor="middle" fill="#222" >96</text>
<text x="1043.9" y="1147.6" font-size="12" text-anchor="middle" fill="#222" >108</text>
<text x="1063.3" y="1147.6" font-size="12" fill="#222" >120 (h)</text>
<line x1="889.0" y1="1152.3" x2="1089.3" y2="1152.3" stroke="#000" stroke-width="0.9" />
<text x="991.5" y="1166.4" font-size="11.4" text-anchor="middle" fill="#222" >30 mM glucose</text>
<text x="828.0" y="1050.9" font-size="13.2" text-anchor="middle" transform="rotate(-90 828.0 1050.9)" stroke="#000" stroke-width="0.4">Relative density</text>
<text x="972.2" y="942.4" font-size="14.9" font-weight="bold" text-anchor="middle" >p47<tspan font-size="11.2" dy="-6.2">phox</tspan><tspan dy="6.2"> - cytosol</tspan></text>
</svg>
</body></html>
